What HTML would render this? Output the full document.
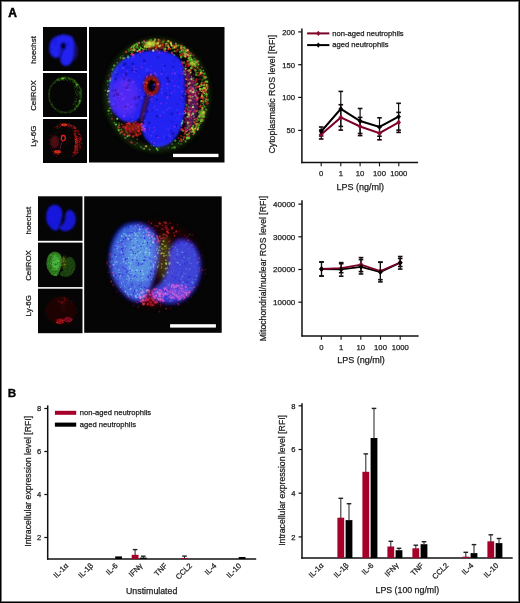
<!DOCTYPE html><html><head><meta charset="utf-8"><style>html,body{margin:0;padding:0;background:#fff}body{width:520px;height:603px;overflow:hidden}svg{display:block;font-family:"Liberation Sans",sans-serif;will-change:transform}text{stroke:#1c1c1c;stroke-width:0.25px;paint-order:stroke}</style></head><body>
<svg width="520" height="603" viewBox="0 0 520 603">
<defs>
<filter id="b05" x="-20%" y="-20%" width="140%" height="140%"><feGaussianBlur stdDeviation="0.6"/></filter>
<filter id="b07" x="-20%" y="-20%" width="140%" height="140%"><feGaussianBlur stdDeviation="0.75"/></filter>
<filter id="b1" x="-20%" y="-20%" width="140%" height="140%"><feGaussianBlur stdDeviation="1.2"/></filter>
<filter id="b2" x="-30%" y="-30%" width="160%" height="160%"><feGaussianBlur stdDeviation="2"/></filter>
<filter id="b3" x="-30%" y="-30%" width="160%" height="160%"><feGaussianBlur stdDeviation="3"/></filter>
<filter id="bs" x="-10%" y="-10%" width="120%" height="120%"><feGaussianBlur stdDeviation="3.2"/></filter>
<filter id="bs2" x="-10%" y="-10%" width="120%" height="120%"><feGaussianBlur stdDeviation="4.6"/></filter>
<clipPath id="c1"><rect x="0" y="0" width="135.5" height="135.5"/></clipPath>
<clipPath id="c2"><rect x="0" y="0" width="137.5" height="136.5"/></clipPath>

<g id="p1b">
<path d="M32.2,34.2 C36.7,30.5 43.4,27.3 49.5,25.5 C55.6,23.7 62.6,23.1 68.7,23.6 C74.8,24.1 81.8,26.0 86.0,28.4 C90.2,30.8 91.9,32.6 93.7,38.0 C95.5,43.4 96.3,53.0 96.6,61.0 C96.9,69.0 96.7,78.6 95.6,86.0 C94.5,93.4 92.4,100.2 89.8,105.3 C87.2,110.4 84.0,114.4 80.2,116.8 C76.4,119.2 70.8,120.7 66.8,119.7 C62.8,118.7 58.6,114.7 56.2,111.0 C53.8,107.3 53.1,100.9 52.3,97.6 C51.5,94.3 52.5,91.5 51.4,91.0 C50.3,90.5 48.5,94.2 45.6,94.7 C42.7,95.2 37.9,95.9 34.0,93.8 C30.1,91.7 24.9,86.7 22.5,82.2 C20.1,77.7 19.7,72.6 19.7,66.8 C19.7,61.0 20.4,53.0 22.5,47.6 C24.6,42.2 27.7,37.9 32.2,34.2 Z" fill="#2424f2" filter="url(#b1)"/>
<ellipse cx="62.5" cy="58.5" rx="8.5" ry="10.5" fill="#000" filter="url(#b1)"/>
<path d="M60,66 C57,76 54,84 52,97" stroke="#000" stroke-width="5" fill="none" opacity="0.75" filter="url(#b1)"/>
<path d="M96,40 C106,50 110,65 109,80 C108,92 103,102 95,108 C99,90 100,70 96,40 Z" fill="#180a50" filter="url(#b2)"/>
<g filter="url(#b07)"><circle cx="43.9" cy="36.9" r="1.45" fill="#0c0c90" opacity="0.63"/><circle cx="25.5" cy="79.7" r="1.71" fill="#0c0c90" opacity="0.31"/><circle cx="52.7" cy="28.9" r="0.89" fill="#3838ff" opacity="0.32"/><circle cx="63.2" cy="115.8" r="1.43" fill="#1818c0" opacity="0.68"/><circle cx="64.2" cy="61.3" r="1.78" fill="#0c0c90" opacity="0.52"/><circle cx="28.7" cy="63.5" r="1.34" fill="#1818c0" opacity="0.42"/><circle cx="83.3" cy="39.9" r="1.38" fill="#1818c0" opacity="0.38"/><circle cx="63.1" cy="83.3" r="1.30" fill="#1818c0" opacity="0.47"/><circle cx="43.1" cy="80.0" r="1.25" fill="#3838ff" opacity="0.40"/><circle cx="24.5" cy="51.7" r="1.30" fill="#3838ff" opacity="0.59"/><circle cx="27.4" cy="63.4" r="1.56" fill="#0c0c90" opacity="0.67"/><circle cx="24.2" cy="77.2" r="1.59" fill="#3838ff" opacity="0.44"/><circle cx="46.0" cy="71.2" r="1.60" fill="#0c0c90" opacity="0.64"/><circle cx="93.6" cy="68.9" r="1.46" fill="#0c0c90" opacity="0.59"/><circle cx="42.8" cy="79.2" r="1.48" fill="#3838ff" opacity="0.41"/><circle cx="48.9" cy="88.2" r="0.82" fill="#3838ff" opacity="0.44"/><circle cx="66.9" cy="70.9" r="1.02" fill="#3838ff" opacity="0.35"/><circle cx="37.8" cy="60.7" r="1.67" fill="#0c0c90" opacity="0.37"/><circle cx="50.1" cy="49.5" r="0.94" fill="#3838ff" opacity="0.65"/><circle cx="40.3" cy="63.1" r="1.16" fill="#3838ff" opacity="0.68"/><circle cx="30.1" cy="39.4" r="1.03" fill="#0c0c90" opacity="0.30"/><circle cx="84.5" cy="40.1" r="1.08" fill="#0c0c90" opacity="0.47"/><circle cx="47.5" cy="78.1" r="1.75" fill="#1818c0" opacity="0.64"/><circle cx="94.0" cy="86.8" r="1.54" fill="#3838ff" opacity="0.66"/><circle cx="80.4" cy="108.6" r="1.60" fill="#3838ff" opacity="0.46"/><circle cx="49.5" cy="69.7" r="1.20" fill="#0c0c90" opacity="0.33"/><circle cx="34.7" cy="38.1" r="1.14" fill="#0c0c90" opacity="0.34"/><circle cx="63.3" cy="75.1" r="1.75" fill="#1818c0" opacity="0.31"/><circle cx="87.9" cy="82.8" r="0.95" fill="#3838ff" opacity="0.68"/><circle cx="66.2" cy="68.9" r="0.92" fill="#3838ff" opacity="0.70"/><circle cx="55.3" cy="69.9" r="0.89" fill="#0c0c90" opacity="0.60"/><circle cx="77.2" cy="69.4" r="1.49" fill="#1818c0" opacity="0.31"/><circle cx="94.1" cy="74.3" r="0.95" fill="#1818c0" opacity="0.67"/><circle cx="78.7" cy="51.5" r="1.44" fill="#0c0c90" opacity="0.58"/><circle cx="38.9" cy="58.3" r="0.97" fill="#0c0c90" opacity="0.51"/><circle cx="80.3" cy="54.6" r="1.02" fill="#0c0c90" opacity="0.62"/><circle cx="83.5" cy="95.2" r="1.03" fill="#1818c0" opacity="0.50"/><circle cx="81.2" cy="68.8" r="0.99" fill="#1818c0" opacity="0.68"/><circle cx="47.2" cy="43.8" r="1.03" fill="#0c0c90" opacity="0.44"/><circle cx="90.7" cy="56.1" r="1.44" fill="#1818c0" opacity="0.35"/><circle cx="49.1" cy="92.4" r="1.00" fill="#0c0c90" opacity="0.47"/><circle cx="68.9" cy="30.6" r="1.75" fill="#1818c0" opacity="0.46"/><circle cx="76.0" cy="38.8" r="0.93" fill="#0c0c90" opacity="0.54"/><circle cx="55.2" cy="86.9" r="1.41" fill="#1818c0" opacity="0.69"/><circle cx="70.6" cy="56.7" r="1.35" fill="#0c0c90" opacity="0.31"/><circle cx="81.9" cy="93.9" r="0.90" fill="#1818c0" opacity="0.67"/><circle cx="84.1" cy="42.9" r="1.05" fill="#3838ff" opacity="0.50"/><circle cx="79.1" cy="54.3" r="1.34" fill="#0c0c90" opacity="0.32"/><circle cx="77.2" cy="110.9" r="1.46" fill="#1818c0" opacity="0.47"/><circle cx="91.4" cy="71.7" r="1.33" fill="#1818c0" opacity="0.50"/><circle cx="87.8" cy="98.9" r="1.41" fill="#0c0c90" opacity="0.37"/><circle cx="55.9" cy="93.8" r="1.36" fill="#3838ff" opacity="0.57"/><circle cx="60.5" cy="69.8" r="1.58" fill="#1818c0" opacity="0.32"/><circle cx="25.8" cy="66.8" r="0.83" fill="#0c0c90" opacity="0.48"/><circle cx="67.0" cy="72.0" r="1.31" fill="#1818c0" opacity="0.41"/><circle cx="58.7" cy="101.9" r="1.31" fill="#0c0c90" opacity="0.58"/><circle cx="38.8" cy="77.4" r="1.74" fill="#3838ff" opacity="0.35"/><circle cx="27.7" cy="65.8" r="0.87" fill="#0c0c90" opacity="0.47"/><circle cx="35.0" cy="52.0" r="0.92" fill="#0c0c90" opacity="0.68"/><circle cx="69.5" cy="58.3" r="1.05" fill="#0c0c90" opacity="0.69"/><circle cx="49.9" cy="70.2" r="1.79" fill="#0c0c90" opacity="0.36"/><circle cx="52.5" cy="73.0" r="1.14" fill="#0c0c90" opacity="0.44"/><circle cx="25.4" cy="58.2" r="1.14" fill="#3838ff" opacity="0.48"/><circle cx="67.9" cy="72.7" r="0.86" fill="#0c0c90" opacity="0.69"/><circle cx="26.4" cy="48.3" r="0.84" fill="#0c0c90" opacity="0.41"/><circle cx="28.4" cy="63.8" r="1.71" fill="#3838ff" opacity="0.46"/><circle cx="60.9" cy="73.0" r="1.29" fill="#3838ff" opacity="0.34"/><circle cx="52.0" cy="29.2" r="1.74" fill="#1818c0" opacity="0.34"/><circle cx="38.8" cy="82.2" r="1.02" fill="#3838ff" opacity="0.65"/><circle cx="54.3" cy="55.6" r="1.35" fill="#3838ff" opacity="0.55"/><circle cx="39.0" cy="39.9" r="1.73" fill="#1818c0" opacity="0.42"/><circle cx="78.8" cy="50.7" r="1.30" fill="#0c0c90" opacity="0.41"/><circle cx="59.1" cy="46.3" r="1.25" fill="#1818c0" opacity="0.63"/><circle cx="52.6" cy="71.0" r="1.63" fill="#3838ff" opacity="0.69"/><circle cx="42.6" cy="43.3" r="1.03" fill="#0c0c90" opacity="0.63"/><circle cx="74.5" cy="85.0" r="1.20" fill="#3838ff" opacity="0.69"/><circle cx="68.0" cy="109.1" r="1.23" fill="#0c0c90" opacity="0.33"/><circle cx="85.3" cy="108.2" r="1.47" fill="#3838ff" opacity="0.54"/><circle cx="73.4" cy="26.5" r="0.99" fill="#3838ff" opacity="0.48"/><circle cx="95.8" cy="76.2" r="1.04" fill="#3838ff" opacity="0.39"/><circle cx="32.6" cy="55.2" r="0.88" fill="#3838ff" opacity="0.50"/><circle cx="34.1" cy="72.0" r="0.80" fill="#3838ff" opacity="0.63"/><circle cx="29.5" cy="80.1" r="1.19" fill="#3838ff" opacity="0.42"/><circle cx="36.6" cy="80.0" r="1.33" fill="#0c0c90" opacity="0.56"/><circle cx="75.3" cy="109.0" r="1.19" fill="#3838ff" opacity="0.59"/><circle cx="57.5" cy="50.1" r="1.42" fill="#0c0c90" opacity="0.32"/><circle cx="84.8" cy="110.3" r="1.43" fill="#1818c0" opacity="0.58"/><circle cx="58.4" cy="112.1" r="1.55" fill="#1818c0" opacity="0.63"/><circle cx="82.4" cy="103.8" r="1.38" fill="#1818c0" opacity="0.57"/><circle cx="73.5" cy="44.8" r="0.83" fill="#0c0c90" opacity="0.55"/><circle cx="94.8" cy="59.3" r="1.25" fill="#0c0c90" opacity="0.55"/><circle cx="68.1" cy="89.4" r="1.29" fill="#0c0c90" opacity="0.48"/><circle cx="60.1" cy="95.8" r="1.27" fill="#0c0c90" opacity="0.64"/><circle cx="36.5" cy="86.3" r="1.26" fill="#3838ff" opacity="0.33"/><circle cx="90.8" cy="50.4" r="0.85" fill="#1818c0" opacity="0.56"/><circle cx="42.4" cy="78.2" r="0.81" fill="#0c0c90" opacity="0.49"/><circle cx="35.4" cy="70.5" r="1.51" fill="#3838ff" opacity="0.49"/><circle cx="55.3" cy="33.7" r="1.69" fill="#0c0c90" opacity="0.42"/><circle cx="24.9" cy="68.8" r="1.09" fill="#0c0c90" opacity="0.63"/><circle cx="95.4" cy="66.5" r="1.07" fill="#0c0c90" opacity="0.67"/><circle cx="38.9" cy="57.6" r="1.40" fill="#1818c0" opacity="0.50"/><circle cx="88.9" cy="91.6" r="1.03" fill="#3838ff" opacity="0.46"/><circle cx="72.5" cy="62.1" r="1.53" fill="#3838ff" opacity="0.44"/><circle cx="85.1" cy="33.9" r="1.73" fill="#1818c0" opacity="0.30"/><circle cx="77.2" cy="47.1" r="0.86" fill="#3838ff" opacity="0.70"/><circle cx="65.1" cy="57.7" r="1.23" fill="#3838ff" opacity="0.64"/><circle cx="71.0" cy="84.9" r="0.95" fill="#3838ff" opacity="0.47"/><circle cx="80.8" cy="64.3" r="0.83" fill="#1818c0" opacity="0.46"/><circle cx="88.1" cy="76.9" r="1.00" fill="#0c0c90" opacity="0.32"/><circle cx="76.6" cy="66.6" r="1.55" fill="#1818c0" opacity="0.65"/><circle cx="62.0" cy="38.9" r="1.21" fill="#3838ff" opacity="0.42"/><circle cx="38.8" cy="86.9" r="1.10" fill="#1818c0" opacity="0.57"/><circle cx="27.6" cy="85.7" r="0.88" fill="#1818c0" opacity="0.66"/><circle cx="57.8" cy="43.8" r="1.71" fill="#3838ff" opacity="0.47"/><circle cx="61.8" cy="46.2" r="0.97" fill="#1818c0" opacity="0.34"/><circle cx="37.1" cy="47.6" r="1.37" fill="#0c0c90" opacity="0.60"/><circle cx="51.0" cy="63.0" r="1.32" fill="#3838ff" opacity="0.41"/><circle cx="78.2" cy="71.3" r="1.37" fill="#3838ff" opacity="0.35"/><circle cx="58.3" cy="84.3" r="1.66" fill="#0c0c90" opacity="0.34"/><circle cx="89.7" cy="60.1" r="1.45" fill="#3838ff" opacity="0.68"/><circle cx="85.9" cy="108.4" r="0.82" fill="#0c0c90" opacity="0.47"/><circle cx="79.1" cy="101.6" r="1.77" fill="#3838ff" opacity="0.30"/><circle cx="84.0" cy="106.7" r="1.77" fill="#0c0c90" opacity="0.61"/><circle cx="35.9" cy="37.1" r="1.77" fill="#0c0c90" opacity="0.68"/><circle cx="75.7" cy="86.1" r="1.56" fill="#3838ff" opacity="0.33"/><circle cx="28.1" cy="78.4" r="0.84" fill="#1818c0" opacity="0.42"/><circle cx="28.2" cy="46.9" r="1.44" fill="#1818c0" opacity="0.61"/><circle cx="26.0" cy="51.7" r="1.74" fill="#0c0c90" opacity="0.46"/><circle cx="35.9" cy="81.5" r="0.81" fill="#3838ff" opacity="0.70"/><circle cx="40.3" cy="53.3" r="1.64" fill="#0c0c90" opacity="0.49"/><circle cx="36.8" cy="46.5" r="1.76" fill="#1818c0" opacity="0.56"/><circle cx="88.8" cy="86.1" r="0.88" fill="#0c0c90" opacity="0.57"/><circle cx="92.0" cy="44.5" r="0.83" fill="#3838ff" opacity="0.59"/><circle cx="47.0" cy="61.2" r="0.81" fill="#3838ff" opacity="0.60"/><circle cx="58.4" cy="42.3" r="1.77" fill="#3838ff" opacity="0.61"/><circle cx="33.5" cy="68.0" r="1.07" fill="#3838ff" opacity="0.34"/><circle cx="67.9" cy="82.4" r="1.70" fill="#3838ff" opacity="0.47"/><circle cx="71.2" cy="115.9" r="0.95" fill="#3838ff" opacity="0.32"/><circle cx="32.7" cy="66.5" r="1.51" fill="#3838ff" opacity="0.59"/><circle cx="44.3" cy="40.4" r="1.74" fill="#1818c0" opacity="0.49"/><circle cx="42.9" cy="93.8" r="1.64" fill="#3838ff" opacity="0.48"/><circle cx="24.5" cy="63.6" r="1.69" fill="#1818c0" opacity="0.69"/><circle cx="34.6" cy="57.3" r="1.62" fill="#3838ff" opacity="0.34"/><circle cx="74.4" cy="41.4" r="1.34" fill="#3838ff" opacity="0.38"/><circle cx="20.4" cy="62.7" r="1.61" fill="#3838ff" opacity="0.32"/><circle cx="91.6" cy="47.4" r="1.55" fill="#1818c0" opacity="0.44"/><circle cx="67.4" cy="48.0" r="1.52" fill="#3838ff" opacity="0.67"/><circle cx="41.8" cy="93.4" r="1.40" fill="#1818c0" opacity="0.68"/><circle cx="55.3" cy="98.9" r="1.59" fill="#3838ff" opacity="0.63"/><circle cx="28.6" cy="71.2" r="0.81" fill="#1818c0" opacity="0.42"/><circle cx="73.4" cy="37.0" r="1.04" fill="#3838ff" opacity="0.48"/><circle cx="80.7" cy="81.0" r="1.31" fill="#3838ff" opacity="0.60"/><circle cx="25.7" cy="71.3" r="1.51" fill="#3838ff" opacity="0.37"/><circle cx="28.6" cy="67.6" r="1.69" fill="#0c0c90" opacity="0.60"/><circle cx="85.8" cy="87.8" r="0.92" fill="#3838ff" opacity="0.42"/><circle cx="63.4" cy="58.9" r="1.54" fill="#0c0c90" opacity="0.48"/><circle cx="32.9" cy="45.3" r="1.08" fill="#1818c0" opacity="0.38"/><circle cx="23.2" cy="46.9" r="1.05" fill="#1818c0" opacity="0.39"/><circle cx="82.7" cy="86.7" r="1.79" fill="#0c0c90" opacity="0.30"/><circle cx="88.6" cy="44.9" r="1.25" fill="#3838ff" opacity="0.32"/></g>
</g>
<g id="p1g">
<ellipse cx="68" cy="68" rx="50" ry="54" fill="none" stroke="#14280a" stroke-width="6" filter="url(#b2)"/>
<g filter="url(#b05)">
<circle cx="45.7" cy="23.8" r="0.72" fill="#60b830" opacity="0.52"/><circle cx="59.1" cy="16.0" r="1.08" fill="#80e040" opacity="0.65"/><circle cx="115.7" cy="60.4" r="0.70" fill="#3aa018" opacity="0.89"/><circle cx="119.4" cy="66.0" r="0.63" fill="#2a7a10" opacity="0.45"/><circle cx="102.1" cy="32.3" r="1.17" fill="#3aa018" opacity="0.80"/><circle cx="104.3" cy="104.0" r="0.86" fill="#3aa018" opacity="0.48"/><circle cx="69.2" cy="16.3" r="0.93" fill="#2a7a10" opacity="0.79"/><circle cx="21.2" cy="81.2" r="0.67" fill="#50c020" opacity="0.99"/><circle cx="67.1" cy="121.0" r="0.71" fill="#50c020" opacity="0.44"/><circle cx="33.7" cy="28.7" r="1.04" fill="#2a7a10" opacity="0.50"/><circle cx="98.8" cy="23.3" r="0.94" fill="#80e040" opacity="0.98"/><circle cx="53.3" cy="15.5" r="0.92" fill="#60b830" opacity="0.79"/><circle cx="61.9" cy="118.7" r="0.76" fill="#3aa018" opacity="0.43"/><circle cx="101.8" cy="30.3" r="0.80" fill="#80e040" opacity="0.78"/><circle cx="19.7" cy="83.8" r="1.05" fill="#60b830" opacity="0.98"/><circle cx="45.9" cy="117.7" r="0.66" fill="#60b830" opacity="0.41"/><circle cx="102.3" cy="105.1" r="0.64" fill="#2a7a10" opacity="0.46"/><circle cx="45.0" cy="21.6" r="0.66" fill="#50c020" opacity="0.58"/><circle cx="64.6" cy="15.6" r="0.97" fill="#3aa018" opacity="0.74"/><circle cx="51.6" cy="21.1" r="1.05" fill="#50c020" opacity="0.98"/><circle cx="39.0" cy="29.2" r="1.10" fill="#2a7a10" opacity="0.87"/><circle cx="109.6" cy="37.6" r="0.72" fill="#80e040" opacity="0.85"/><circle cx="43.6" cy="22.7" r="0.78" fill="#2a7a10" opacity="0.68"/><circle cx="40.2" cy="108.9" r="0.98" fill="#2a7a10" opacity="0.91"/><circle cx="66.1" cy="12.3" r="1.16" fill="#60b830" opacity="0.81"/><circle cx="96.4" cy="24.2" r="1.24" fill="#80e040" opacity="0.78"/><circle cx="112.9" cy="82.9" r="1.04" fill="#60b830" opacity="0.56"/><circle cx="115.5" cy="71.1" r="0.74" fill="#2a7a10" opacity="0.68"/><circle cx="103.7" cy="102.2" r="0.87" fill="#80e040" opacity="0.86"/><circle cx="101.0" cy="102.7" r="0.83" fill="#80e040" opacity="0.59"/><circle cx="55.6" cy="19.9" r="0.97" fill="#80e040" opacity="0.87"/><circle cx="86.2" cy="113.7" r="1.15" fill="#50c020" opacity="0.70"/><circle cx="95.8" cy="26.8" r="0.74" fill="#2a7a10" opacity="0.78"/><circle cx="68.7" cy="123.1" r="1.11" fill="#80e040" opacity="0.52"/><circle cx="91.0" cy="24.8" r="1.23" fill="#3aa018" opacity="0.87"/><circle cx="113.5" cy="80.6" r="1.03" fill="#60b830" opacity="0.95"/><circle cx="112.7" cy="86.1" r="0.84" fill="#50c020" opacity="0.87"/><circle cx="75.3" cy="14.6" r="0.68" fill="#2a7a10" opacity="0.75"/><circle cx="113.2" cy="61.8" r="0.61" fill="#2a7a10" opacity="0.76"/><circle cx="106.7" cy="35.3" r="0.68" fill="#2a7a10" opacity="0.41"/><circle cx="92.8" cy="19.8" r="1.01" fill="#2a7a10" opacity="0.68"/><circle cx="22.6" cy="46.1" r="0.71" fill="#2a7a10" opacity="0.77"/><circle cx="107.9" cy="94.2" r="0.61" fill="#50c020" opacity="0.76"/><circle cx="104.0" cy="104.2" r="1.16" fill="#60b830" opacity="0.49"/><circle cx="47.4" cy="16.7" r="0.86" fill="#50c020" opacity="0.96"/><circle cx="106.6" cy="38.6" r="1.20" fill="#2a7a10" opacity="0.62"/><circle cx="99.0" cy="28.1" r="0.99" fill="#80e040" opacity="0.57"/><circle cx="36.1" cy="111.0" r="0.98" fill="#50c020" opacity="0.56"/><circle cx="19.5" cy="74.7" r="0.90" fill="#3aa018" opacity="0.92"/><circle cx="83.1" cy="117.0" r="0.66" fill="#80e040" opacity="0.74"/><circle cx="83.2" cy="120.9" r="0.86" fill="#2a7a10" opacity="0.91"/><circle cx="26.9" cy="97.6" r="0.88" fill="#80e040" opacity="1.00"/><circle cx="108.2" cy="40.9" r="0.72" fill="#80e040" opacity="0.42"/><circle cx="98.1" cy="110.7" r="1.18" fill="#80e040" opacity="0.92"/><circle cx="117.0" cy="67.4" r="0.93" fill="#60b830" opacity="0.88"/><circle cx="51.9" cy="20.9" r="0.72" fill="#80e040" opacity="0.47"/><circle cx="31.7" cy="105.8" r="0.85" fill="#2a7a10" opacity="0.76"/><circle cx="79.1" cy="14.2" r="1.23" fill="#3aa018" opacity="0.87"/><circle cx="69.9" cy="121.1" r="0.76" fill="#2a7a10" opacity="0.80"/><circle cx="63.0" cy="15.4" r="1.24" fill="#3aa018" opacity="0.42"/><circle cx="117.3" cy="69.6" r="0.77" fill="#2a7a10" opacity="0.75"/><circle cx="114.6" cy="61.0" r="0.93" fill="#80e040" opacity="0.95"/><circle cx="108.9" cy="35.1" r="0.64" fill="#3aa018" opacity="0.50"/><circle cx="61.5" cy="17.2" r="0.85" fill="#2a7a10" opacity="0.61"/><circle cx="114.9" cy="58.3" r="1.03" fill="#50c020" opacity="0.81"/><circle cx="67.8" cy="121.7" r="0.87" fill="#80e040" opacity="0.92"/><circle cx="51.9" cy="120.0" r="0.94" fill="#3aa018" opacity="0.65"/><circle cx="53.6" cy="18.7" r="0.80" fill="#50c020" opacity="0.47"/><circle cx="110.6" cy="90.0" r="1.13" fill="#60b830" opacity="0.93"/><circle cx="18.6" cy="57.7" r="0.80" fill="#60b830" opacity="0.40"/><circle cx="117.7" cy="67.5" r="1.22" fill="#50c020" opacity="0.81"/><circle cx="117.8" cy="59.0" r="1.19" fill="#60b830" opacity="0.55"/><circle cx="24.0" cy="41.3" r="0.68" fill="#2a7a10" opacity="0.68"/><circle cx="27.6" cy="97.1" r="0.66" fill="#80e040" opacity="0.84"/><circle cx="91.6" cy="20.2" r="0.79" fill="#2a7a10" opacity="0.57"/><circle cx="97.7" cy="112.4" r="0.69" fill="#80e040" opacity="0.51"/><circle cx="95.8" cy="28.1" r="1.08" fill="#60b830" opacity="0.59"/><circle cx="104.1" cy="100.1" r="0.79" fill="#3aa018" opacity="0.93"/><circle cx="112.7" cy="58.4" r="1.08" fill="#60b830" opacity="0.90"/><circle cx="44.4" cy="20.4" r="0.88" fill="#80e040" opacity="0.81"/><circle cx="28.7" cy="92.0" r="0.75" fill="#50c020" opacity="0.40"/><circle cx="28.4" cy="92.1" r="0.76" fill="#3aa018" opacity="0.73"/><circle cx="96.1" cy="29.6" r="1.03" fill="#60b830" opacity="0.99"/><circle cx="46.8" cy="22.8" r="0.80" fill="#3aa018" opacity="0.50"/><circle cx="18.9" cy="64.3" r="0.92" fill="#80e040" opacity="0.99"/><circle cx="115.0" cy="85.7" r="0.76" fill="#50c020" opacity="0.45"/><circle cx="110.7" cy="89.1" r="0.67" fill="#80e040" opacity="0.85"/><circle cx="76.8" cy="19.3" r="1.05" fill="#50c020" opacity="0.48"/><circle cx="115.9" cy="51.8" r="0.76" fill="#2a7a10" opacity="0.64"/><circle cx="91.9" cy="21.8" r="1.14" fill="#2a7a10" opacity="0.73"/><circle cx="57.7" cy="15.5" r="0.63" fill="#60b830" opacity="0.97"/><circle cx="62.0" cy="12.9" r="1.25" fill="#2a7a10" opacity="0.70"/><circle cx="108.3" cy="102.9" r="0.62" fill="#50c020" opacity="0.77"/><circle cx="36.8" cy="105.0" r="0.82" fill="#2a7a10" opacity="0.63"/><circle cx="16.2" cy="63.3" r="0.63" fill="#50c020" opacity="0.84"/><circle cx="89.4" cy="116.1" r="0.66" fill="#50c020" opacity="0.86"/><circle cx="99.9" cy="111.2" r="1.04" fill="#80e040" opacity="0.98"/><circle cx="106.1" cy="38.4" r="1.17" fill="#2a7a10" opacity="0.60"/><circle cx="109.4" cy="100.8" r="0.93" fill="#50c020" opacity="0.89"/><circle cx="114.4" cy="78.1" r="0.69" fill="#80e040" opacity="0.55"/><circle cx="91.9" cy="116.9" r="0.81" fill="#50c020" opacity="0.57"/><circle cx="78.9" cy="19.2" r="1.13" fill="#60b830" opacity="0.60"/><circle cx="20.0" cy="81.2" r="0.81" fill="#3aa018" opacity="0.41"/><circle cx="65.6" cy="13.7" r="1.02" fill="#60b830" opacity="0.99"/><circle cx="109.3" cy="34.3" r="1.17" fill="#80e040" opacity="0.43"/><circle cx="115.1" cy="89.5" r="1.12" fill="#50c020" opacity="0.98"/><circle cx="113.2" cy="93.1" r="1.17" fill="#3aa018" opacity="0.75"/><circle cx="30.3" cy="98.3" r="1.12" fill="#3aa018" opacity="0.54"/><circle cx="85.7" cy="20.1" r="1.00" fill="#3aa018" opacity="0.95"/><circle cx="18.7" cy="54.2" r="1.13" fill="#3aa018" opacity="0.65"/><circle cx="113.4" cy="93.2" r="0.84" fill="#3aa018" opacity="0.83"/><circle cx="97.1" cy="23.7" r="0.74" fill="#3aa018" opacity="0.74"/><circle cx="105.6" cy="35.0" r="0.90" fill="#50c020" opacity="0.83"/><circle cx="66.1" cy="16.4" r="1.05" fill="#2a7a10" opacity="0.91"/><circle cx="109.7" cy="89.0" r="0.80" fill="#50c020" opacity="0.92"/><circle cx="100.6" cy="33.2" r="1.20" fill="#60b830" opacity="0.80"/><circle cx="108.5" cy="102.5" r="1.06" fill="#50c020" opacity="0.59"/><circle cx="103.9" cy="103.8" r="1.07" fill="#2a7a10" opacity="0.46"/><circle cx="31.7" cy="29.7" r="0.82" fill="#2a7a10" opacity="0.58"/><circle cx="112.1" cy="94.3" r="0.95" fill="#50c020" opacity="0.93"/><circle cx="115.6" cy="57.8" r="0.86" fill="#3aa018" opacity="0.87"/><circle cx="32.1" cy="102.5" r="0.73" fill="#50c020" opacity="0.81"/><circle cx="90.5" cy="17.8" r="0.60" fill="#2a7a10" opacity="0.42"/><circle cx="19.7" cy="64.1" r="1.04" fill="#50c020" opacity="0.66"/><circle cx="103.1" cy="101.0" r="1.17" fill="#80e040" opacity="0.85"/><circle cx="82.3" cy="17.9" r="1.11" fill="#80e040" opacity="0.85"/><circle cx="105.5" cy="37.9" r="0.98" fill="#60b830" opacity="0.54"/><circle cx="57.9" cy="20.1" r="1.02" fill="#80e040" opacity="0.80"/><circle cx="79.2" cy="120.3" r="0.91" fill="#2a7a10" opacity="0.76"/><circle cx="45.6" cy="20.2" r="0.78" fill="#2a7a10" opacity="0.64"/><circle cx="108.6" cy="101.7" r="0.99" fill="#50c020" opacity="0.63"/><circle cx="25.2" cy="38.5" r="1.03" fill="#80e040" opacity="0.81"/><circle cx="113.1" cy="68.9" r="1.25" fill="#50c020" opacity="0.85"/><circle cx="55.1" cy="121.7" r="1.05" fill="#80e040" opacity="0.59"/><circle cx="19.2" cy="71.8" r="0.73" fill="#3aa018" opacity="0.50"/><circle cx="56.6" cy="119.1" r="0.82" fill="#2a7a10" opacity="0.70"/><circle cx="114.1" cy="43.5" r="0.74" fill="#3aa018" opacity="0.95"/><circle cx="28.3" cy="35.8" r="0.76" fill="#3aa018" opacity="0.94"/><circle cx="111.1" cy="96.2" r="1.13" fill="#2a7a10" opacity="0.93"/><circle cx="28.2" cy="91.7" r="1.00" fill="#80e040" opacity="0.83"/><circle cx="111.6" cy="45.9" r="0.83" fill="#60b830" opacity="0.98"/><circle cx="89.5" cy="18.4" r="1.15" fill="#80e040" opacity="0.53"/><circle cx="78.3" cy="13.7" r="0.95" fill="#2a7a10" opacity="0.47"/><circle cx="104.7" cy="103.8" r="0.95" fill="#3aa018" opacity="0.53"/><circle cx="60.6" cy="122.4" r="1.00" fill="#50c020" opacity="0.61"/><circle cx="113.4" cy="93.8" r="1.07" fill="#3aa018" opacity="0.61"/><circle cx="25.4" cy="95.8" r="0.87" fill="#3aa018" opacity="0.88"/><circle cx="112.2" cy="92.4" r="1.21" fill="#60b830" opacity="0.66"/><circle cx="71.7" cy="18.2" r="0.81" fill="#60b830" opacity="0.74"/><circle cx="113.4" cy="89.5" r="1.19" fill="#3aa018" opacity="0.74"/><circle cx="57.4" cy="119.2" r="1.10" fill="#3aa018" opacity="0.96"/><circle cx="95.8" cy="22.0" r="1.23" fill="#3aa018" opacity="0.51"/><circle cx="101.2" cy="28.9" r="0.93" fill="#3aa018" opacity="0.71"/><circle cx="117.3" cy="54.3" r="1.17" fill="#3aa018" opacity="0.91"/><circle cx="103.6" cy="104.1" r="0.90" fill="#3aa018" opacity="0.82"/><circle cx="87.2" cy="20.2" r="0.76" fill="#3aa018" opacity="0.45"/><circle cx="113.8" cy="76.6" r="0.74" fill="#3aa018" opacity="0.95"/><circle cx="115.8" cy="61.2" r="1.06" fill="#80e040" opacity="0.87"/><circle cx="51.0" cy="19.2" r="0.70" fill="#3aa018" opacity="0.90"/><circle cx="112.7" cy="90.0" r="1.23" fill="#3aa018" opacity="0.79"/><circle cx="109.7" cy="92.9" r="0.88" fill="#3aa018" opacity="0.99"/><circle cx="46.8" cy="17.4" r="0.64" fill="#3aa018" opacity="0.44"/><circle cx="113.4" cy="62.2" r="1.18" fill="#80e040" opacity="0.58"/><circle cx="38.4" cy="109.2" r="1.04" fill="#80e040" opacity="0.77"/><circle cx="115.1" cy="51.2" r="0.95" fill="#50c020" opacity="0.48"/><circle cx="26.0" cy="38.8" r="0.79" fill="#2a7a10" opacity="0.96"/><circle cx="109.8" cy="98.5" r="1.15" fill="#50c020" opacity="0.78"/><circle cx="19.5" cy="87.0" r="0.75" fill="#3aa018" opacity="0.68"/><circle cx="60.0" cy="17.0" r="0.72" fill="#80e040" opacity="0.62"/><circle cx="64.7" cy="118.6" r="0.65" fill="#50c020" opacity="0.69"/><circle cx="54.6" cy="16.9" r="0.88" fill="#3aa018" opacity="0.54"/><circle cx="69.6" cy="12.8" r="0.91" fill="#3aa018" opacity="0.72"/><circle cx="29.7" cy="103.2" r="1.08" fill="#80e040" opacity="0.79"/><circle cx="21.1" cy="53.4" r="1.08" fill="#50c020" opacity="0.77"/><circle cx="40.0" cy="24.0" r="0.70" fill="#50c020" opacity="1.00"/><circle cx="59.7" cy="19.3" r="1.13" fill="#2a7a10" opacity="0.55"/><circle cx="30.3" cy="96.4" r="1.06" fill="#3aa018" opacity="0.43"/><circle cx="87.2" cy="18.5" r="1.08" fill="#60b830" opacity="0.81"/><circle cx="113.4" cy="61.6" r="0.82" fill="#50c020" opacity="0.68"/><circle cx="118.9" cy="72.9" r="0.86" fill="#50c020" opacity="0.94"/><circle cx="96.8" cy="24.8" r="0.74" fill="#50c020" opacity="0.93"/><circle cx="64.7" cy="18.5" r="0.83" fill="#80e040" opacity="0.65"/><circle cx="114.3" cy="75.0" r="0.63" fill="#50c020" opacity="0.90"/><circle cx="34.8" cy="31.3" r="1.25" fill="#80e040" opacity="0.48"/><circle cx="22.1" cy="86.4" r="0.88" fill="#3aa018" opacity="0.55"/><circle cx="96.9" cy="25.7" r="0.67" fill="#3aa018" opacity="0.59"/><circle cx="48.3" cy="112.2" r="0.80" fill="#60b830" opacity="0.61"/><circle cx="109.8" cy="97.6" r="0.76" fill="#3aa018" opacity="0.99"/><circle cx="53.2" cy="121.2" r="0.68" fill="#60b830" opacity="0.42"/><circle cx="102.6" cy="101.5" r="0.83" fill="#50c020" opacity="0.88"/><circle cx="79.2" cy="16.7" r="0.84" fill="#2a7a10" opacity="0.49"/><circle cx="82.8" cy="18.9" r="0.87" fill="#80e040" opacity="0.58"/><circle cx="99.9" cy="31.3" r="1.19" fill="#60b830" opacity="0.93"/><circle cx="81.9" cy="16.3" r="1.10" fill="#80e040" opacity="0.94"/><circle cx="39.1" cy="30.3" r="1.23" fill="#3aa018" opacity="0.85"/><circle cx="116.0" cy="61.3" r="0.66" fill="#3aa018" opacity="0.94"/><circle cx="55.4" cy="18.1" r="0.67" fill="#2a7a10" opacity="0.60"/><circle cx="116.8" cy="81.9" r="0.70" fill="#3aa018" opacity="0.97"/><circle cx="106.0" cy="101.8" r="0.98" fill="#50c020" opacity="0.60"/><circle cx="116.0" cy="73.7" r="0.86" fill="#50c020" opacity="0.57"/><circle cx="110.3" cy="43.4" r="0.92" fill="#2a7a10" opacity="0.41"/><circle cx="101.0" cy="27.0" r="0.75" fill="#3aa018" opacity="0.66"/><circle cx="18.3" cy="67.6" r="0.87" fill="#50c020" opacity="0.76"/><circle cx="31.5" cy="31.0" r="1.04" fill="#50c020" opacity="0.62"/><circle cx="20.4" cy="71.5" r="0.62" fill="#2a7a10" opacity="0.73"/><circle cx="61.4" cy="12.7" r="1.01" fill="#2a7a10" opacity="0.71"/><circle cx="60.2" cy="19.6" r="0.87" fill="#80e040" opacity="0.75"/><circle cx="43.9" cy="23.2" r="0.89" fill="#80e040" opacity="0.45"/><circle cx="46.3" cy="17.5" r="0.77" fill="#80e040" opacity="0.52"/><circle cx="106.7" cy="40.1" r="0.93" fill="#2a7a10" opacity="0.69"/><circle cx="114.4" cy="65.0" r="1.11" fill="#80e040" opacity="0.56"/><circle cx="47.8" cy="17.0" r="0.85" fill="#2a7a10" opacity="0.69"/><circle cx="114.8" cy="75.3" r="0.66" fill="#2a7a10" opacity="0.86"/><circle cx="118.4" cy="54.7" r="0.96" fill="#80e040" opacity="0.86"/><circle cx="117.3" cy="62.8" r="0.84" fill="#80e040" opacity="0.69"/><circle cx="23.5" cy="42.5" r="1.05" fill="#60b830" opacity="0.65"/><circle cx="35.9" cy="30.8" r="0.67" fill="#3aa018" opacity="0.56"/><circle cx="85.5" cy="120.6" r="1.25" fill="#60b830" opacity="0.72"/><circle cx="113.3" cy="52.9" r="0.95" fill="#50c020" opacity="0.49"/><circle cx="100.5" cy="28.6" r="0.93" fill="#60b830" opacity="0.46"/>
<circle cx="105.9" cy="65.3" r="1.13" fill="#3aa018" opacity="0.54"/><circle cx="94.5" cy="112.4" r="0.60" fill="#80e040" opacity="0.54"/><circle cx="102.4" cy="52.2" r="1.14" fill="#50c020" opacity="0.99"/><circle cx="96.3" cy="44.5" r="1.14" fill="#3aa018" opacity="0.60"/><circle cx="92.4" cy="97.5" r="0.91" fill="#50c020" opacity="0.50"/><circle cx="113.5" cy="93.7" r="1.17" fill="#3aa018" opacity="0.57"/><circle cx="106.7" cy="94.3" r="0.73" fill="#2a7a10" opacity="0.50"/><circle cx="111.4" cy="62.2" r="1.06" fill="#3aa018" opacity="0.54"/><circle cx="104.9" cy="89.6" r="1.06" fill="#3aa018" opacity="0.52"/><circle cx="98.5" cy="86.4" r="0.76" fill="#2a7a10" opacity="0.65"/><circle cx="92.7" cy="23.8" r="0.73" fill="#80e040" opacity="0.95"/><circle cx="105.6" cy="37.8" r="1.07" fill="#2a7a10" opacity="0.74"/><circle cx="94.1" cy="24.8" r="0.91" fill="#3aa018" opacity="0.82"/><circle cx="108.7" cy="91.7" r="0.84" fill="#80e040" opacity="0.64"/><circle cx="104.0" cy="36.3" r="0.69" fill="#60b830" opacity="0.84"/><circle cx="117.7" cy="82.9" r="0.71" fill="#80e040" opacity="0.83"/><circle cx="100.2" cy="110.7" r="1.15" fill="#60b830" opacity="0.67"/><circle cx="116.9" cy="72.4" r="0.82" fill="#50c020" opacity="0.69"/><circle cx="100.8" cy="56.1" r="0.96" fill="#60b830" opacity="0.99"/><circle cx="109.8" cy="85.3" r="0.69" fill="#3aa018" opacity="0.65"/><circle cx="107.0" cy="46.1" r="1.14" fill="#2a7a10" opacity="0.87"/><circle cx="106.6" cy="43.4" r="1.25" fill="#60b830" opacity="0.73"/><circle cx="107.4" cy="47.9" r="1.18" fill="#3aa018" opacity="0.89"/><circle cx="105.4" cy="92.6" r="0.75" fill="#2a7a10" opacity="0.92"/><circle cx="112.7" cy="64.4" r="0.66" fill="#80e040" opacity="0.84"/><circle cx="96.6" cy="41.8" r="1.15" fill="#80e040" opacity="0.78"/><circle cx="112.2" cy="45.8" r="0.64" fill="#80e040" opacity="0.65"/><circle cx="104.0" cy="80.1" r="1.22" fill="#80e040" opacity="0.88"/><circle cx="97.3" cy="52.4" r="0.68" fill="#50c020" opacity="0.69"/><circle cx="101.8" cy="45.5" r="0.94" fill="#50c020" opacity="0.94"/><circle cx="104.1" cy="61.0" r="0.82" fill="#50c020" opacity="0.83"/><circle cx="111.6" cy="43.0" r="0.63" fill="#50c020" opacity="0.93"/><circle cx="103.7" cy="37.6" r="1.14" fill="#80e040" opacity="0.71"/><circle cx="102.5" cy="37.0" r="1.15" fill="#80e040" opacity="0.47"/><circle cx="100.3" cy="30.9" r="0.62" fill="#50c020" opacity="0.52"/><circle cx="108.5" cy="76.4" r="0.76" fill="#3aa018" opacity="0.52"/><circle cx="97.5" cy="77.8" r="1.00" fill="#80e040" opacity="0.47"/><circle cx="108.3" cy="70.6" r="1.20" fill="#3aa018" opacity="0.71"/><circle cx="100.0" cy="60.5" r="0.85" fill="#50c020" opacity="0.47"/><circle cx="108.8" cy="56.5" r="0.63" fill="#60b830" opacity="0.89"/><circle cx="98.6" cy="97.2" r="0.94" fill="#3aa018" opacity="0.43"/><circle cx="102.2" cy="41.2" r="1.04" fill="#60b830" opacity="0.91"/><circle cx="107.5" cy="57.5" r="1.16" fill="#3aa018" opacity="0.99"/><circle cx="99.9" cy="106.9" r="1.09" fill="#3aa018" opacity="0.46"/><circle cx="103.8" cy="69.8" r="0.80" fill="#80e040" opacity="0.71"/><circle cx="106.3" cy="68.4" r="0.86" fill="#60b830" opacity="0.53"/><circle cx="118.1" cy="54.5" r="0.83" fill="#60b830" opacity="0.74"/><circle cx="98.8" cy="95.7" r="1.03" fill="#80e040" opacity="0.91"/><circle cx="95.2" cy="20.3" r="1.23" fill="#50c020" opacity="0.64"/><circle cx="111.3" cy="63.5" r="0.88" fill="#50c020" opacity="0.50"/><circle cx="107.5" cy="99.7" r="0.98" fill="#3aa018" opacity="0.79"/><circle cx="112.2" cy="44.4" r="1.05" fill="#50c020" opacity="0.82"/><circle cx="114.7" cy="85.2" r="1.21" fill="#80e040" opacity="0.73"/><circle cx="99.9" cy="87.2" r="0.98" fill="#60b830" opacity="0.87"/><circle cx="111.5" cy="93.8" r="0.82" fill="#50c020" opacity="0.85"/><circle cx="101.6" cy="63.7" r="1.28" fill="#3aa018" opacity="0.79"/><circle cx="98.6" cy="104.3" r="0.72" fill="#60b830" opacity="0.41"/><circle cx="109.8" cy="41.4" r="0.66" fill="#2a7a10" opacity="0.72"/><circle cx="92.1" cy="25.4" r="1.04" fill="#3aa018" opacity="0.43"/><circle cx="112.4" cy="86.5" r="0.81" fill="#3aa018" opacity="0.92"/><circle cx="115.5" cy="46.7" r="1.25" fill="#3aa018" opacity="0.84"/><circle cx="97.3" cy="27.3" r="1.25" fill="#60b830" opacity="0.69"/><circle cx="102.2" cy="73.4" r="0.86" fill="#2a7a10" opacity="0.90"/><circle cx="106.3" cy="31.6" r="0.81" fill="#3aa018" opacity="0.53"/><circle cx="101.8" cy="70.0" r="0.95" fill="#3aa018" opacity="0.77"/><circle cx="112.7" cy="58.9" r="0.71" fill="#2a7a10" opacity="0.84"/><circle cx="111.1" cy="59.4" r="0.97" fill="#50c020" opacity="0.66"/><circle cx="96.7" cy="114.6" r="1.06" fill="#50c020" opacity="0.61"/><circle cx="98.8" cy="82.8" r="0.94" fill="#2a7a10" opacity="0.76"/><circle cx="116.9" cy="50.2" r="1.17" fill="#80e040" opacity="0.55"/><circle cx="116.6" cy="74.3" r="1.02" fill="#50c020" opacity="0.82"/><circle cx="95.4" cy="86.6" r="0.67" fill="#2a7a10" opacity="0.89"/><circle cx="104.0" cy="86.7" r="1.27" fill="#50c020" opacity="0.91"/><circle cx="95.0" cy="35.6" r="1.23" fill="#80e040" opacity="0.53"/><circle cx="117.7" cy="57.6" r="0.70" fill="#50c020" opacity="0.83"/><circle cx="108.8" cy="37.7" r="1.05" fill="#2a7a10" opacity="0.90"/><circle cx="96.4" cy="21.9" r="1.14" fill="#60b830" opacity="0.46"/><circle cx="103.9" cy="104.7" r="1.29" fill="#60b830" opacity="0.54"/><circle cx="108.3" cy="84.1" r="0.86" fill="#2a7a10" opacity="0.88"/><circle cx="99.8" cy="43.8" r="1.17" fill="#3aa018" opacity="0.44"/><circle cx="96.3" cy="39.0" r="0.78" fill="#3aa018" opacity="0.56"/><circle cx="97.8" cy="107.6" r="0.89" fill="#50c020" opacity="0.92"/><circle cx="93.7" cy="94.5" r="0.92" fill="#2a7a10" opacity="0.87"/><circle cx="102.6" cy="49.9" r="0.65" fill="#60b830" opacity="0.85"/><circle cx="111.7" cy="77.7" r="0.97" fill="#2a7a10" opacity="0.56"/><circle cx="118.8" cy="62.0" r="0.61" fill="#80e040" opacity="0.78"/><circle cx="105.0" cy="31.4" r="0.81" fill="#50c020" opacity="0.49"/><circle cx="99.5" cy="57.0" r="1.10" fill="#60b830" opacity="0.76"/><circle cx="100.8" cy="31.1" r="1.07" fill="#80e040" opacity="0.43"/><circle cx="99.4" cy="99.1" r="1.08" fill="#50c020" opacity="0.47"/><circle cx="113.2" cy="55.6" r="0.73" fill="#2a7a10" opacity="0.78"/><circle cx="105.6" cy="63.3" r="0.67" fill="#50c020" opacity="0.63"/><circle cx="96.4" cy="67.0" r="1.10" fill="#2a7a10" opacity="0.64"/><circle cx="114.2" cy="46.4" r="0.68" fill="#3aa018" opacity="0.79"/><circle cx="98.4" cy="112.3" r="0.71" fill="#2a7a10" opacity="0.86"/><circle cx="98.8" cy="33.6" r="0.96" fill="#2a7a10" opacity="0.49"/><circle cx="98.7" cy="103.5" r="0.69" fill="#3aa018" opacity="0.65"/><circle cx="108.8" cy="90.5" r="0.64" fill="#3aa018" opacity="0.64"/><circle cx="106.2" cy="101.4" r="1.17" fill="#80e040" opacity="0.48"/><circle cx="94.8" cy="40.7" r="0.66" fill="#3aa018" opacity="0.73"/><circle cx="104.1" cy="77.8" r="0.82" fill="#3aa018" opacity="0.74"/><circle cx="111.0" cy="49.1" r="0.64" fill="#3aa018" opacity="0.46"/><circle cx="108.8" cy="91.5" r="0.79" fill="#2a7a10" opacity="0.57"/><circle cx="104.6" cy="51.2" r="0.99" fill="#60b830" opacity="0.45"/><circle cx="115.6" cy="68.6" r="0.76" fill="#3aa018" opacity="0.59"/><circle cx="99.9" cy="43.2" r="1.24" fill="#60b830" opacity="0.56"/><circle cx="98.2" cy="101.1" r="1.03" fill="#50c020" opacity="0.48"/><circle cx="98.2" cy="89.8" r="0.85" fill="#60b830" opacity="0.96"/><circle cx="102.8" cy="35.7" r="1.06" fill="#80e040" opacity="0.80"/><circle cx="110.8" cy="88.1" r="0.63" fill="#50c020" opacity="0.97"/><circle cx="102.5" cy="87.9" r="0.74" fill="#60b830" opacity="0.84"/><circle cx="110.8" cy="59.0" r="1.00" fill="#60b830" opacity="0.64"/><circle cx="102.5" cy="32.4" r="0.96" fill="#80e040" opacity="1.00"/><circle cx="104.9" cy="103.6" r="0.77" fill="#3aa018" opacity="0.83"/><circle cx="115.2" cy="66.5" r="0.82" fill="#80e040" opacity="0.99"/><circle cx="107.5" cy="36.0" r="0.66" fill="#60b830" opacity="0.72"/><circle cx="105.3" cy="106.2" r="0.97" fill="#50c020" opacity="0.83"/><circle cx="97.2" cy="104.5" r="0.83" fill="#80e040" opacity="0.58"/><circle cx="98.6" cy="58.3" r="0.61" fill="#2a7a10" opacity="0.53"/><circle cx="104.9" cy="62.9" r="1.04" fill="#3aa018" opacity="0.46"/><circle cx="97.7" cy="78.5" r="0.92" fill="#2a7a10" opacity="0.75"/><circle cx="106.1" cy="43.1" r="0.80" fill="#3aa018" opacity="0.62"/><circle cx="94.0" cy="104.5" r="0.61" fill="#60b830" opacity="0.89"/><circle cx="112.3" cy="74.1" r="1.17" fill="#50c020" opacity="0.94"/><circle cx="104.8" cy="53.3" r="0.71" fill="#3aa018" opacity="0.82"/><circle cx="108.3" cy="97.5" r="1.04" fill="#60b830" opacity="0.66"/><circle cx="96.2" cy="47.5" r="1.08" fill="#3aa018" opacity="0.96"/><circle cx="101.9" cy="28.4" r="0.83" fill="#80e040" opacity="0.80"/><circle cx="104.3" cy="65.1" r="1.13" fill="#80e040" opacity="0.95"/><circle cx="93.6" cy="93.8" r="1.07" fill="#50c020" opacity="0.53"/><circle cx="96.7" cy="86.1" r="0.73" fill="#80e040" opacity="1.00"/><circle cx="104.3" cy="98.9" r="1.04" fill="#50c020" opacity="0.89"/><circle cx="92.2" cy="21.1" r="1.22" fill="#2a7a10" opacity="0.70"/><circle cx="94.4" cy="23.1" r="0.89" fill="#80e040" opacity="0.58"/><circle cx="105.7" cy="58.3" r="1.05" fill="#60b830" opacity="0.41"/><circle cx="103.8" cy="40.6" r="1.29" fill="#3aa018" opacity="0.46"/><circle cx="108.7" cy="77.2" r="0.61" fill="#2a7a10" opacity="0.78"/><circle cx="106.0" cy="71.8" r="0.67" fill="#3aa018" opacity="0.64"/><circle cx="115.6" cy="79.0" r="0.68" fill="#60b830" opacity="0.68"/><circle cx="99.7" cy="79.8" r="0.89" fill="#60b830" opacity="0.57"/><circle cx="108.5" cy="56.6" r="0.81" fill="#60b830" opacity="0.77"/><circle cx="100.6" cy="73.4" r="1.25" fill="#60b830" opacity="0.64"/><circle cx="111.1" cy="61.9" r="1.22" fill="#60b830" opacity="0.98"/><circle cx="109.9" cy="66.8" r="1.04" fill="#60b830" opacity="0.43"/><circle cx="99.3" cy="86.0" r="0.70" fill="#3aa018" opacity="0.86"/><circle cx="97.8" cy="110.9" r="0.72" fill="#80e040" opacity="0.54"/><circle cx="102.2" cy="41.1" r="1.09" fill="#60b830" opacity="0.99"/><circle cx="114.6" cy="80.7" r="0.70" fill="#3aa018" opacity="0.55"/><circle cx="106.5" cy="57.3" r="0.84" fill="#2a7a10" opacity="0.50"/><circle cx="107.9" cy="97.0" r="1.25" fill="#3aa018" opacity="0.72"/><circle cx="93.9" cy="103.5" r="0.60" fill="#60b830" opacity="0.81"/><circle cx="113.9" cy="51.3" r="0.65" fill="#2a7a10" opacity="0.48"/><circle cx="99.7" cy="89.5" r="1.01" fill="#3aa018" opacity="0.91"/><circle cx="104.7" cy="94.6" r="0.94" fill="#3aa018" opacity="0.53"/><circle cx="93.1" cy="96.2" r="1.14" fill="#60b830" opacity="0.90"/><circle cx="100.0" cy="87.7" r="1.08" fill="#60b830" opacity="0.67"/><circle cx="115.8" cy="79.7" r="0.73" fill="#60b830" opacity="0.92"/><circle cx="112.3" cy="86.7" r="0.69" fill="#80e040" opacity="0.86"/><circle cx="99.8" cy="28.0" r="0.80" fill="#2a7a10" opacity="0.88"/><circle cx="107.3" cy="63.2" r="0.67" fill="#2a7a10" opacity="0.93"/>
<circle cx="91.8" cy="19.8" r="0.96" fill="#3aa018" opacity="0.70"/><circle cx="48.1" cy="24.1" r="0.95" fill="#80e040" opacity="0.89"/><circle cx="43.3" cy="19.2" r="0.83" fill="#80e040" opacity="0.65"/><circle cx="42.6" cy="20.5" r="0.96" fill="#50c020" opacity="0.93"/><circle cx="76.5" cy="21.5" r="0.90" fill="#3aa018" opacity="0.97"/><circle cx="64.2" cy="23.6" r="1.29" fill="#80e040" opacity="0.75"/><circle cx="60.7" cy="15.6" r="1.16" fill="#50c020" opacity="0.76"/><circle cx="92.2" cy="30.1" r="1.37" fill="#80e040" opacity="0.69"/><circle cx="43.0" cy="25.3" r="1.19" fill="#2a7a10" opacity="0.83"/><circle cx="55.0" cy="22.4" r="0.83" fill="#2a7a10" opacity="0.92"/><circle cx="85.4" cy="24.1" r="1.09" fill="#60b830" opacity="0.57"/><circle cx="94.9" cy="25.4" r="1.30" fill="#2a7a10" opacity="0.85"/><circle cx="86.9" cy="16.6" r="1.03" fill="#2a7a10" opacity="0.69"/><circle cx="83.9" cy="21.2" r="0.93" fill="#50c020" opacity="0.85"/><circle cx="55.2" cy="14.9" r="0.90" fill="#2a7a10" opacity="0.82"/><circle cx="39.5" cy="22.5" r="1.07" fill="#2a7a10" opacity="0.88"/><circle cx="95.8" cy="25.9" r="1.06" fill="#50c020" opacity="0.62"/><circle cx="75.7" cy="22.2" r="1.39" fill="#80e040" opacity="0.63"/><circle cx="55.5" cy="21.8" r="0.96" fill="#2a7a10" opacity="0.78"/><circle cx="45.3" cy="18.3" r="1.23" fill="#50c020" opacity="0.62"/><circle cx="85.7" cy="20.6" r="1.03" fill="#60b830" opacity="0.54"/><circle cx="44.9" cy="22.7" r="1.20" fill="#80e040" opacity="0.53"/><circle cx="82.9" cy="25.0" r="0.82" fill="#2a7a10" opacity="0.99"/><circle cx="52.4" cy="21.2" r="0.73" fill="#2a7a10" opacity="0.97"/><circle cx="93.6" cy="28.2" r="0.71" fill="#2a7a10" opacity="0.88"/><circle cx="58.6" cy="16.6" r="0.79" fill="#3aa018" opacity="0.78"/><circle cx="79.9" cy="20.3" r="1.11" fill="#80e040" opacity="0.65"/><circle cx="70.4" cy="19.3" r="1.22" fill="#80e040" opacity="0.75"/><circle cx="73.9" cy="15.0" r="1.39" fill="#2a7a10" opacity="0.89"/><circle cx="49.2" cy="21.3" r="0.60" fill="#80e040" opacity="0.65"/><circle cx="53.5" cy="21.8" r="0.75" fill="#50c020" opacity="0.99"/><circle cx="61.9" cy="16.8" r="0.90" fill="#60b830" opacity="0.57"/><circle cx="68.5" cy="16.5" r="1.31" fill="#80e040" opacity="0.88"/><circle cx="98.1" cy="27.5" r="0.78" fill="#50c020" opacity="0.66"/><circle cx="47.9" cy="20.3" r="1.32" fill="#3aa018" opacity="0.86"/><circle cx="77.1" cy="16.8" r="1.01" fill="#80e040" opacity="0.57"/><circle cx="57.2" cy="22.2" r="0.94" fill="#3aa018" opacity="0.79"/><circle cx="64.0" cy="17.3" r="1.02" fill="#3aa018" opacity="0.67"/><circle cx="94.7" cy="29.0" r="1.05" fill="#2a7a10" opacity="0.75"/><circle cx="50.3" cy="15.9" r="0.80" fill="#50c020" opacity="0.85"/><circle cx="50.5" cy="22.9" r="1.27" fill="#80e040" opacity="0.93"/><circle cx="78.2" cy="15.5" r="1.01" fill="#2a7a10" opacity="0.59"/><circle cx="44.7" cy="22.7" r="0.74" fill="#3aa018" opacity="0.76"/><circle cx="44.7" cy="19.0" r="0.84" fill="#60b830" opacity="0.88"/><circle cx="57.0" cy="19.6" r="1.37" fill="#80e040" opacity="0.51"/><circle cx="66.9" cy="21.7" r="0.76" fill="#60b830" opacity="0.97"/><circle cx="85.3" cy="28.0" r="1.08" fill="#3aa018" opacity="0.67"/><circle cx="41.8" cy="23.0" r="0.84" fill="#2a7a10" opacity="0.90"/><circle cx="65.1" cy="16.5" r="0.87" fill="#60b830" opacity="0.92"/><circle cx="48.3" cy="18.3" r="1.07" fill="#50c020" opacity="0.99"/>
</g>
<ellipse cx="61" cy="17" rx="5" ry="3" fill="#60d030" filter="url(#b1)"/>
<ellipse cx="104" cy="36" rx="4" ry="3" fill="#50b828" filter="url(#b1)"/>
<ellipse cx="113" cy="86" rx="3" ry="3" fill="#50b828" filter="url(#b1)"/>
</g>
<g id="p1r">
<path d="M96,40 C106,50 110,65 109,80 C108,92 103,102 95,108 C99,90 100,70 96,40 Z" fill="#4a1010" filter="url(#b2)"/>
<ellipse cx="66" cy="18" rx="10" ry="4" fill="#802010" filter="url(#b2)"/>
<ellipse cx="44" cy="101" rx="10" ry="5" fill="#802008" filter="url(#b2)"/>
<ellipse cx="36" cy="70" rx="14" ry="20" fill="#5a0a18" filter="url(#b3)" opacity="0.6"/>
<ellipse cx="62.5" cy="58.5" rx="6.2" ry="8.2" fill="none" stroke="#a01818" stroke-width="3.6" filter="url(#b1)"/>
<path d="M60,66 C57,76 54,84 52,95" stroke="#501030" stroke-width="2.5" fill="none" filter="url(#b1)"/>
<g filter="url(#b05)">
<circle cx="22.9" cy="91.7" r="1.02" fill="#c02010" opacity="0.62"/><circle cx="112.9" cy="57.6" r="1.00" fill="#901040" opacity="0.32"/><circle cx="59.3" cy="16.6" r="1.30" fill="#c02010" opacity="0.60"/><circle cx="114.2" cy="52.2" r="0.67" fill="#901040" opacity="0.62"/><circle cx="108.6" cy="34.5" r="0.89" fill="#e03020" opacity="0.39"/><circle cx="64.8" cy="14.9" r="0.99" fill="#e03020" opacity="0.78"/><circle cx="113.5" cy="85.2" r="1.06" fill="#901040" opacity="0.30"/><circle cx="19.8" cy="48.2" r="0.65" fill="#e03020" opacity="0.64"/><circle cx="49.0" cy="16.8" r="1.22" fill="#e03020" opacity="0.57"/><circle cx="101.3" cy="101.6" r="0.86" fill="#a01828" opacity="0.66"/><circle cx="92.9" cy="24.1" r="0.76" fill="#a01828" opacity="0.43"/><circle cx="42.9" cy="115.8" r="0.91" fill="#e03020" opacity="0.48"/><circle cx="113.0" cy="48.7" r="0.74" fill="#a01828" opacity="0.80"/><circle cx="117.8" cy="69.9" r="0.81" fill="#901040" opacity="0.82"/><circle cx="98.4" cy="24.9" r="0.81" fill="#c02010" opacity="0.60"/><circle cx="94.7" cy="21.0" r="1.13" fill="#901040" opacity="0.77"/><circle cx="41.6" cy="21.3" r="0.83" fill="#d04010" opacity="0.31"/><circle cx="115.2" cy="58.9" r="1.26" fill="#a01828" opacity="0.49"/><circle cx="29.7" cy="98.3" r="0.86" fill="#a01828" opacity="0.69"/><circle cx="113.8" cy="63.0" r="1.06" fill="#c02010" opacity="0.50"/><circle cx="107.0" cy="98.2" r="0.99" fill="#a01828" opacity="0.57"/><circle cx="60.5" cy="14.7" r="1.25" fill="#a01828" opacity="0.63"/><circle cx="98.1" cy="27.7" r="0.97" fill="#e03020" opacity="0.39"/><circle cx="109.2" cy="89.4" r="0.92" fill="#901040" opacity="0.66"/><circle cx="75.2" cy="13.2" r="0.95" fill="#c02010" opacity="0.58"/><circle cx="114.6" cy="77.3" r="0.97" fill="#901040" opacity="0.51"/><circle cx="18.3" cy="64.1" r="0.73" fill="#901040" opacity="0.83"/><circle cx="106.2" cy="104.7" r="0.94" fill="#e03020" opacity="0.44"/><circle cx="102.1" cy="26.5" r="1.15" fill="#c02010" opacity="0.65"/><circle cx="108.7" cy="39.8" r="1.17" fill="#c02010" opacity="0.51"/><circle cx="41.5" cy="21.4" r="1.12" fill="#d04010" opacity="0.57"/><circle cx="115.0" cy="49.5" r="1.17" fill="#d04010" opacity="0.70"/><circle cx="89.0" cy="22.5" r="0.76" fill="#d04010" opacity="0.65"/><circle cx="87.4" cy="21.2" r="0.99" fill="#d04010" opacity="0.36"/><circle cx="114.4" cy="87.7" r="0.60" fill="#c02010" opacity="0.65"/><circle cx="31.0" cy="106.7" r="0.93" fill="#901040" opacity="0.46"/><circle cx="113.5" cy="71.7" r="0.61" fill="#a01828" opacity="0.83"/><circle cx="106.5" cy="101.5" r="0.94" fill="#c02010" opacity="0.78"/><circle cx="105.6" cy="95.5" r="1.00" fill="#d04010" opacity="0.86"/><circle cx="55.6" cy="20.6" r="0.67" fill="#901040" opacity="0.37"/><circle cx="99.6" cy="24.7" r="0.68" fill="#e03020" opacity="0.74"/><circle cx="84.2" cy="19.3" r="0.93" fill="#e03020" opacity="0.80"/><circle cx="115.8" cy="62.6" r="1.29" fill="#c02010" opacity="0.49"/><circle cx="54.8" cy="18.0" r="0.61" fill="#901040" opacity="0.82"/><circle cx="97.1" cy="29.9" r="0.84" fill="#e03020" opacity="0.64"/><circle cx="29.3" cy="100.5" r="1.29" fill="#d04010" opacity="0.62"/><circle cx="84.9" cy="20.2" r="0.75" fill="#901040" opacity="0.86"/><circle cx="76.1" cy="121.2" r="0.67" fill="#a01828" opacity="0.44"/><circle cx="115.6" cy="61.9" r="0.85" fill="#c02010" opacity="0.69"/><circle cx="66.9" cy="18.7" r="1.22" fill="#d04010" opacity="0.57"/><circle cx="118.3" cy="60.9" r="1.00" fill="#c02010" opacity="0.69"/><circle cx="117.4" cy="72.0" r="1.01" fill="#c02010" opacity="0.84"/><circle cx="116.3" cy="64.4" r="1.21" fill="#d04010" opacity="0.60"/><circle cx="106.1" cy="39.0" r="1.05" fill="#e03020" opacity="0.69"/><circle cx="30.9" cy="100.4" r="0.68" fill="#e03020" opacity="0.60"/><circle cx="98.9" cy="31.6" r="0.80" fill="#d04010" opacity="0.31"/><circle cx="108.8" cy="36.4" r="0.63" fill="#c02010" opacity="0.69"/><circle cx="49.4" cy="20.0" r="0.88" fill="#a01828" opacity="0.33"/><circle cx="37.3" cy="25.0" r="1.04" fill="#c02010" opacity="0.87"/><circle cx="68.8" cy="14.3" r="0.67" fill="#e03020" opacity="0.69"/><circle cx="118.1" cy="77.4" r="0.77" fill="#901040" opacity="0.57"/><circle cx="59.7" cy="16.1" r="1.19" fill="#901040" opacity="0.58"/><circle cx="113.8" cy="74.3" r="1.24" fill="#d04010" opacity="0.31"/><circle cx="34.8" cy="107.4" r="1.24" fill="#c02010" opacity="0.46"/><circle cx="117.7" cy="57.8" r="1.07" fill="#e03020" opacity="0.82"/><circle cx="20.9" cy="74.6" r="1.03" fill="#c02010" opacity="0.66"/><circle cx="90.8" cy="114.0" r="0.75" fill="#e03020" opacity="0.76"/><circle cx="85.1" cy="17.7" r="0.79" fill="#c02010" opacity="0.46"/><circle cx="107.9" cy="100.2" r="0.63" fill="#901040" opacity="0.56"/><circle cx="77.1" cy="18.5" r="0.93" fill="#a01828" opacity="0.48"/><circle cx="69.0" cy="18.4" r="0.86" fill="#d04010" opacity="0.81"/><circle cx="21.5" cy="51.5" r="0.97" fill="#d04010" opacity="0.70"/><circle cx="104.8" cy="103.1" r="0.64" fill="#c02010" opacity="0.86"/><circle cx="110.7" cy="47.9" r="0.61" fill="#901040" opacity="0.69"/><circle cx="84.7" cy="18.6" r="0.65" fill="#a01828" opacity="0.60"/><circle cx="19.7" cy="63.7" r="1.00" fill="#e03020" opacity="0.52"/><circle cx="60.7" cy="16.9" r="1.25" fill="#e03020" opacity="0.81"/><circle cx="119.2" cy="58.9" r="0.81" fill="#d04010" opacity="0.39"/><circle cx="33.9" cy="31.3" r="0.84" fill="#e03020" opacity="0.78"/><circle cx="107.6" cy="98.8" r="0.98" fill="#c02010" opacity="0.81"/><circle cx="57.2" cy="17.3" r="1.23" fill="#a01828" opacity="0.52"/><circle cx="36.7" cy="24.9" r="0.96" fill="#a01828" opacity="0.88"/><circle cx="115.6" cy="55.4" r="0.99" fill="#d04010" opacity="0.72"/><circle cx="64.1" cy="14.9" r="0.92" fill="#d04010" opacity="0.71"/><circle cx="42.2" cy="115.3" r="1.26" fill="#a01828" opacity="0.62"/><circle cx="114.6" cy="43.8" r="0.90" fill="#901040" opacity="0.67"/><circle cx="93.2" cy="22.8" r="0.89" fill="#e03020" opacity="0.55"/><circle cx="88.5" cy="22.9" r="1.08" fill="#c02010" opacity="0.63"/><circle cx="52.2" cy="21.3" r="0.66" fill="#901040" opacity="0.75"/><circle cx="106.6" cy="96.9" r="1.14" fill="#e03020" opacity="0.88"/><circle cx="69.9" cy="14.9" r="0.79" fill="#901040" opacity="0.49"/><circle cx="58.5" cy="19.9" r="1.12" fill="#e03020" opacity="0.34"/><circle cx="104.5" cy="28.7" r="0.82" fill="#a01828" opacity="0.85"/><circle cx="37.4" cy="24.3" r="0.83" fill="#c02010" opacity="0.49"/><circle cx="110.6" cy="52.2" r="1.22" fill="#a01828" opacity="0.46"/><circle cx="56.6" cy="119.6" r="1.27" fill="#a01828" opacity="0.64"/><circle cx="64.5" cy="19.0" r="0.78" fill="#e03020" opacity="0.32"/><circle cx="100.3" cy="102.6" r="1.21" fill="#a01828" opacity="0.61"/><circle cx="111.4" cy="94.3" r="0.63" fill="#c02010" opacity="0.65"/><circle cx="109.3" cy="89.9" r="0.73" fill="#901040" opacity="0.60"/><circle cx="110.2" cy="42.7" r="0.79" fill="#e03020" opacity="0.68"/><circle cx="72.2" cy="13.2" r="0.77" fill="#a01828" opacity="0.31"/><circle cx="89.5" cy="111.1" r="1.02" fill="#901040" opacity="0.78"/><circle cx="36.9" cy="111.1" r="1.08" fill="#901040" opacity="0.40"/><circle cx="117.3" cy="63.0" r="0.60" fill="#c02010" opacity="0.77"/><circle cx="92.6" cy="113.7" r="1.14" fill="#e03020" opacity="0.84"/><circle cx="48.2" cy="116.1" r="0.95" fill="#d04010" opacity="0.44"/><circle cx="85.9" cy="20.0" r="1.04" fill="#a01828" opacity="0.36"/><circle cx="18.6" cy="84.2" r="0.61" fill="#901040" opacity="0.52"/><circle cx="114.0" cy="85.4" r="0.96" fill="#d04010" opacity="0.88"/><circle cx="106.7" cy="102.6" r="0.75" fill="#d04010" opacity="0.43"/><circle cx="113.0" cy="91.8" r="0.95" fill="#c02010" opacity="0.51"/><circle cx="70.7" cy="13.5" r="0.68" fill="#e03020" opacity="0.54"/><circle cx="115.6" cy="62.0" r="1.20" fill="#c02010" opacity="0.41"/><circle cx="116.5" cy="82.3" r="0.76" fill="#901040" opacity="0.47"/><circle cx="110.8" cy="92.5" r="0.91" fill="#e03020" opacity="0.30"/><circle cx="93.4" cy="27.1" r="1.21" fill="#901040" opacity="0.51"/><circle cx="113.6" cy="82.3" r="1.09" fill="#901040" opacity="0.43"/><circle cx="114.4" cy="92.9" r="1.20" fill="#a01828" opacity="0.34"/><circle cx="105.3" cy="104.0" r="1.16" fill="#d04010" opacity="0.52"/>
<circle cx="103.4" cy="101.8" r="1.14" fill="#b01020" opacity="0.67"/><circle cx="103.0" cy="68.6" r="0.68" fill="#901010" opacity="0.71"/><circle cx="95.4" cy="107.4" r="0.63" fill="#c02020" opacity="0.56"/><circle cx="101.7" cy="36.0" r="1.23" fill="#901010" opacity="0.60"/><circle cx="97.6" cy="49.6" r="1.28" fill="#b01020" opacity="0.52"/><circle cx="108.3" cy="96.3" r="0.80" fill="#b01020" opacity="0.86"/><circle cx="103.5" cy="36.5" r="0.95" fill="#d03020" opacity="0.84"/><circle cx="99.1" cy="24.7" r="1.34" fill="#d03020" opacity="0.41"/><circle cx="99.7" cy="65.6" r="1.36" fill="#c02020" opacity="0.72"/><circle cx="100.1" cy="86.2" r="1.36" fill="#b01020" opacity="0.93"/><circle cx="96.2" cy="113.4" r="0.99" fill="#901010" opacity="0.61"/><circle cx="98.8" cy="52.8" r="1.03" fill="#b01020" opacity="0.80"/><circle cx="113.9" cy="78.8" r="0.78" fill="#b01020" opacity="0.74"/><circle cx="99.3" cy="65.9" r="0.61" fill="#b01020" opacity="0.56"/><circle cx="98.4" cy="107.4" r="1.09" fill="#a01818" opacity="0.66"/><circle cx="104.4" cy="62.1" r="0.89" fill="#b01020" opacity="0.93"/><circle cx="99.5" cy="90.6" r="0.77" fill="#b01020" opacity="0.50"/><circle cx="98.8" cy="33.8" r="0.97" fill="#b01020" opacity="0.83"/><circle cx="100.3" cy="95.5" r="1.28" fill="#c02020" opacity="0.69"/><circle cx="110.8" cy="85.0" r="0.72" fill="#a01818" opacity="0.58"/><circle cx="113.0" cy="88.9" r="0.92" fill="#d03020" opacity="0.41"/><circle cx="107.7" cy="71.4" r="0.78" fill="#a01818" opacity="0.68"/><circle cx="105.6" cy="67.6" r="1.09" fill="#b01020" opacity="0.64"/><circle cx="107.7" cy="52.1" r="0.78" fill="#c02020" opacity="0.81"/><circle cx="116.3" cy="50.6" r="1.34" fill="#d03020" opacity="0.43"/><circle cx="97.1" cy="82.6" r="0.86" fill="#a01818" opacity="0.42"/><circle cx="117.5" cy="76.3" r="1.16" fill="#901010" opacity="0.63"/><circle cx="101.8" cy="71.7" r="0.99" fill="#901010" opacity="0.85"/><circle cx="102.6" cy="80.9" r="0.98" fill="#901010" opacity="0.99"/><circle cx="106.1" cy="92.5" r="0.93" fill="#b01020" opacity="0.56"/><circle cx="99.3" cy="38.9" r="1.30" fill="#901010" opacity="0.42"/><circle cx="97.9" cy="52.4" r="1.12" fill="#c02020" opacity="0.54"/><circle cx="94.4" cy="111.7" r="0.86" fill="#901010" opacity="0.71"/><circle cx="114.0" cy="81.5" r="0.67" fill="#d03020" opacity="0.72"/><circle cx="99.9" cy="57.3" r="1.11" fill="#b01020" opacity="0.54"/><circle cx="116.4" cy="63.5" r="0.96" fill="#d03020" opacity="1.00"/><circle cx="96.8" cy="51.8" r="0.83" fill="#d03020" opacity="0.96"/><circle cx="99.1" cy="47.9" r="1.06" fill="#901010" opacity="0.75"/><circle cx="101.7" cy="56.6" r="1.00" fill="#901010" opacity="0.75"/><circle cx="104.0" cy="67.3" r="0.71" fill="#c02020" opacity="0.62"/><circle cx="95.3" cy="110.0" r="1.16" fill="#b01020" opacity="0.84"/><circle cx="99.4" cy="29.0" r="0.84" fill="#901010" opacity="0.59"/><circle cx="99.4" cy="27.6" r="1.16" fill="#901010" opacity="0.62"/><circle cx="100.5" cy="100.8" r="1.37" fill="#901010" opacity="0.87"/><circle cx="96.4" cy="91.0" r="1.07" fill="#d03020" opacity="0.59"/><circle cx="105.0" cy="105.2" r="0.92" fill="#d03020" opacity="0.83"/><circle cx="116.8" cy="54.7" r="0.90" fill="#c02020" opacity="0.95"/><circle cx="106.9" cy="54.2" r="0.60" fill="#b01020" opacity="0.58"/><circle cx="101.5" cy="97.9" r="1.14" fill="#901010" opacity="0.69"/><circle cx="92.9" cy="102.8" r="1.21" fill="#d03020" opacity="0.85"/><circle cx="100.0" cy="76.1" r="1.14" fill="#d03020" opacity="0.60"/><circle cx="114.8" cy="56.3" r="1.14" fill="#d03020" opacity="0.40"/><circle cx="112.2" cy="93.9" r="0.69" fill="#901010" opacity="0.92"/><circle cx="118.6" cy="76.2" r="1.20" fill="#901010" opacity="0.96"/><circle cx="92.1" cy="108.9" r="1.06" fill="#901010" opacity="0.83"/><circle cx="113.0" cy="94.8" r="0.94" fill="#b01020" opacity="0.52"/><circle cx="107.4" cy="33.9" r="1.29" fill="#a01818" opacity="0.70"/><circle cx="106.5" cy="55.1" r="0.99" fill="#d03020" opacity="0.66"/><circle cx="105.6" cy="42.2" r="1.18" fill="#c02020" opacity="0.54"/><circle cx="114.4" cy="84.3" r="0.86" fill="#a01818" opacity="0.81"/><circle cx="101.8" cy="97.8" r="0.99" fill="#b01020" opacity="0.57"/><circle cx="106.8" cy="83.9" r="1.26" fill="#d03020" opacity="0.69"/><circle cx="102.5" cy="63.6" r="1.35" fill="#c02020" opacity="0.62"/><circle cx="103.4" cy="55.4" r="0.87" fill="#d03020" opacity="0.52"/><circle cx="92.6" cy="98.9" r="1.01" fill="#a01818" opacity="0.58"/><circle cx="102.2" cy="68.9" r="0.78" fill="#901010" opacity="0.47"/><circle cx="107.0" cy="69.1" r="1.19" fill="#c02020" opacity="0.99"/><circle cx="114.2" cy="89.8" r="0.82" fill="#b01020" opacity="0.73"/><circle cx="100.4" cy="44.8" r="1.19" fill="#901010" opacity="0.97"/><circle cx="96.1" cy="83.7" r="0.76" fill="#a01818" opacity="0.91"/><circle cx="107.6" cy="77.2" r="1.15" fill="#a01818" opacity="0.80"/><circle cx="103.6" cy="71.8" r="0.94" fill="#a01818" opacity="0.64"/><circle cx="110.0" cy="60.0" r="1.06" fill="#c02020" opacity="0.69"/><circle cx="96.8" cy="37.9" r="0.69" fill="#b01020" opacity="0.58"/><circle cx="100.1" cy="106.3" r="1.15" fill="#d03020" opacity="0.57"/><circle cx="101.9" cy="83.3" r="0.88" fill="#a01818" opacity="0.49"/><circle cx="92.1" cy="112.4" r="1.15" fill="#c02020" opacity="0.64"/><circle cx="100.1" cy="69.5" r="1.35" fill="#d03020" opacity="0.96"/><circle cx="108.0" cy="72.6" r="0.88" fill="#901010" opacity="0.66"/><circle cx="102.9" cy="39.4" r="0.88" fill="#c02020" opacity="0.79"/><circle cx="97.1" cy="29.2" r="1.08" fill="#c02020" opacity="0.47"/><circle cx="105.6" cy="37.1" r="1.12" fill="#c02020" opacity="0.69"/><circle cx="113.3" cy="81.8" r="0.99" fill="#d03020" opacity="0.72"/><circle cx="114.5" cy="88.9" r="1.02" fill="#a01818" opacity="0.43"/><circle cx="112.1" cy="70.4" r="1.24" fill="#d03020" opacity="0.85"/><circle cx="98.4" cy="43.6" r="1.08" fill="#b01020" opacity="0.98"/><circle cx="114.1" cy="64.5" r="1.39" fill="#b01020" opacity="0.92"/><circle cx="100.3" cy="72.7" r="1.07" fill="#d03020" opacity="0.92"/><circle cx="111.0" cy="63.7" r="0.64" fill="#a01818" opacity="0.91"/><circle cx="97.4" cy="37.3" r="1.25" fill="#b01020" opacity="0.91"/><circle cx="107.8" cy="93.5" r="1.19" fill="#a01818" opacity="0.83"/><circle cx="102.2" cy="95.1" r="0.68" fill="#c02020" opacity="0.99"/><circle cx="100.1" cy="52.7" r="1.01" fill="#a01818" opacity="0.85"/><circle cx="101.7" cy="101.8" r="0.60" fill="#d03020" opacity="0.97"/><circle cx="94.5" cy="103.3" r="1.14" fill="#c02020" opacity="0.76"/><circle cx="100.6" cy="105.2" r="0.63" fill="#d03020" opacity="0.91"/><circle cx="102.2" cy="44.0" r="0.63" fill="#c02020" opacity="0.71"/><circle cx="96.7" cy="85.1" r="0.78" fill="#b01020" opacity="0.66"/><circle cx="98.6" cy="22.8" r="1.32" fill="#b01020" opacity="0.81"/><circle cx="94.3" cy="23.5" r="0.89" fill="#d03020" opacity="0.47"/><circle cx="100.3" cy="46.8" r="0.68" fill="#d03020" opacity="0.73"/><circle cx="102.7" cy="35.9" r="1.24" fill="#d03020" opacity="0.44"/><circle cx="117.1" cy="60.4" r="1.40" fill="#d03020" opacity="0.41"/><circle cx="107.8" cy="53.3" r="1.08" fill="#b01020" opacity="0.41"/><circle cx="111.3" cy="88.1" r="1.12" fill="#c02020" opacity="0.78"/><circle cx="93.0" cy="35.2" r="1.11" fill="#901010" opacity="0.94"/><circle cx="109.8" cy="59.6" r="1.08" fill="#d03020" opacity="0.96"/><circle cx="99.7" cy="109.0" r="1.18" fill="#a01818" opacity="0.95"/><circle cx="99.6" cy="38.6" r="1.04" fill="#b01020" opacity="0.95"/><circle cx="102.8" cy="102.8" r="0.66" fill="#a01818" opacity="0.72"/><circle cx="96.3" cy="94.9" r="1.15" fill="#c02020" opacity="0.48"/><circle cx="99.2" cy="87.8" r="1.03" fill="#d03020" opacity="0.82"/><circle cx="112.5" cy="55.3" r="0.73" fill="#d03020" opacity="0.97"/><circle cx="107.6" cy="73.5" r="0.87" fill="#b01020" opacity="0.53"/><circle cx="110.2" cy="83.6" r="0.76" fill="#a01818" opacity="0.73"/><circle cx="109.7" cy="36.9" r="0.98" fill="#a01818" opacity="0.81"/><circle cx="115.9" cy="57.7" r="1.29" fill="#a01818" opacity="0.69"/><circle cx="106.4" cy="61.9" r="0.60" fill="#b01020" opacity="0.77"/><circle cx="115.0" cy="90.7" r="0.92" fill="#d03020" opacity="0.43"/><circle cx="92.6" cy="102.5" r="1.21" fill="#c02020" opacity="0.87"/><circle cx="94.5" cy="44.5" r="0.88" fill="#a01818" opacity="0.70"/><circle cx="94.2" cy="109.7" r="0.64" fill="#b01020" opacity="0.86"/><circle cx="98.8" cy="37.1" r="1.01" fill="#901010" opacity="0.47"/><circle cx="100.7" cy="55.6" r="1.19" fill="#901010" opacity="0.82"/><circle cx="101.2" cy="80.8" r="1.40" fill="#b01020" opacity="0.62"/><circle cx="117.9" cy="61.5" r="0.94" fill="#a01818" opacity="0.83"/><circle cx="103.3" cy="33.5" r="1.21" fill="#a01818" opacity="0.50"/><circle cx="114.6" cy="86.8" r="1.29" fill="#b01020" opacity="0.98"/><circle cx="101.9" cy="64.7" r="1.07" fill="#d03020" opacity="0.48"/><circle cx="105.5" cy="83.4" r="1.14" fill="#b01020" opacity="0.68"/><circle cx="107.7" cy="54.6" r="0.69" fill="#c02020" opacity="0.63"/><circle cx="98.9" cy="51.5" r="1.02" fill="#901010" opacity="0.46"/><circle cx="109.0" cy="59.5" r="0.91" fill="#d03020" opacity="0.98"/><circle cx="104.2" cy="28.1" r="1.26" fill="#a01818" opacity="0.45"/><circle cx="96.2" cy="101.0" r="0.92" fill="#c02020" opacity="0.89"/><circle cx="97.3" cy="40.0" r="1.39" fill="#c02020" opacity="0.41"/><circle cx="99.2" cy="107.9" r="1.20" fill="#901010" opacity="0.68"/><circle cx="95.8" cy="84.2" r="0.95" fill="#c02020" opacity="0.86"/><circle cx="98.4" cy="90.2" r="0.75" fill="#c02020" opacity="0.61"/><circle cx="108.2" cy="41.6" r="0.91" fill="#a01818" opacity="0.42"/><circle cx="95.0" cy="45.1" r="0.79" fill="#a01818" opacity="0.97"/><circle cx="96.2" cy="100.9" r="0.76" fill="#901010" opacity="0.88"/><circle cx="100.1" cy="25.6" r="1.40" fill="#901010" opacity="0.63"/><circle cx="100.4" cy="88.4" r="1.05" fill="#901010" opacity="0.50"/><circle cx="101.0" cy="88.5" r="1.33" fill="#d03020" opacity="0.70"/><circle cx="104.5" cy="102.2" r="1.19" fill="#d03020" opacity="0.82"/><circle cx="99.5" cy="37.1" r="0.82" fill="#d03020" opacity="0.83"/><circle cx="119.2" cy="60.2" r="0.65" fill="#c02020" opacity="0.55"/><circle cx="113.0" cy="67.9" r="0.96" fill="#b01020" opacity="0.96"/><circle cx="117.8" cy="69.5" r="1.05" fill="#901010" opacity="0.64"/><circle cx="108.6" cy="45.7" r="0.91" fill="#d03020" opacity="0.91"/><circle cx="104.1" cy="63.0" r="1.26" fill="#b01020" opacity="0.41"/><circle cx="101.0" cy="28.5" r="0.67" fill="#901010" opacity="0.72"/><circle cx="98.5" cy="39.3" r="0.78" fill="#901010" opacity="0.66"/><circle cx="102.5" cy="83.2" r="0.63" fill="#c02020" opacity="0.81"/><circle cx="107.0" cy="53.3" r="1.04" fill="#d03020" opacity="0.62"/><circle cx="97.5" cy="81.2" r="1.30" fill="#d03020" opacity="0.60"/><circle cx="104.9" cy="55.3" r="1.29" fill="#901010" opacity="0.80"/><circle cx="111.0" cy="61.8" r="0.96" fill="#901010" opacity="0.71"/><circle cx="96.4" cy="27.0" r="1.26" fill="#c02020" opacity="0.89"/><circle cx="108.1" cy="81.1" r="0.71" fill="#b01020" opacity="0.58"/><circle cx="114.4" cy="71.8" r="0.86" fill="#a01818" opacity="0.86"/><circle cx="112.3" cy="57.2" r="1.36" fill="#d03020" opacity="0.80"/><circle cx="103.9" cy="69.1" r="0.64" fill="#c02020" opacity="0.90"/><circle cx="109.0" cy="65.5" r="1.24" fill="#b01020" opacity="0.68"/><circle cx="109.8" cy="48.2" r="1.14" fill="#d03020" opacity="0.65"/><circle cx="116.7" cy="65.8" r="0.95" fill="#b01020" opacity="0.96"/><circle cx="112.9" cy="66.9" r="1.21" fill="#d03020" opacity="0.59"/><circle cx="105.1" cy="76.5" r="0.78" fill="#901010" opacity="0.78"/><circle cx="99.5" cy="28.5" r="0.83" fill="#c02020" opacity="0.90"/><circle cx="111.6" cy="46.6" r="1.40" fill="#d03020" opacity="0.89"/><circle cx="110.2" cy="79.6" r="0.94" fill="#b01020" opacity="0.72"/><circle cx="101.3" cy="68.6" r="0.98" fill="#c02020" opacity="0.94"/><circle cx="103.2" cy="65.2" r="1.27" fill="#d03020" opacity="0.81"/><circle cx="107.1" cy="51.7" r="0.61" fill="#c02020" opacity="0.50"/><circle cx="109.2" cy="71.5" r="1.18" fill="#b01020" opacity="0.70"/><circle cx="107.4" cy="35.1" r="0.68" fill="#c02020" opacity="0.65"/><circle cx="104.9" cy="90.9" r="0.72" fill="#901010" opacity="0.60"/><circle cx="97.7" cy="62.9" r="0.76" fill="#b01020" opacity="0.48"/><circle cx="116.2" cy="84.8" r="1.26" fill="#a01818" opacity="0.55"/><circle cx="108.1" cy="64.3" r="1.21" fill="#a01818" opacity="0.47"/><circle cx="99.7" cy="73.6" r="1.01" fill="#d03020" opacity="0.50"/><circle cx="99.2" cy="62.3" r="1.32" fill="#c02020" opacity="0.57"/><circle cx="113.2" cy="45.9" r="0.93" fill="#d03020" opacity="0.98"/><circle cx="100.3" cy="88.3" r="0.90" fill="#901010" opacity="0.50"/><circle cx="113.7" cy="73.8" r="1.37" fill="#c02020" opacity="0.81"/><circle cx="98.4" cy="59.0" r="0.65" fill="#d03020" opacity="0.65"/><circle cx="109.4" cy="45.2" r="0.72" fill="#a01818" opacity="0.65"/><circle cx="104.2" cy="107.5" r="0.84" fill="#d03020" opacity="0.99"/><circle cx="100.7" cy="91.5" r="0.91" fill="#a01818" opacity="0.75"/><circle cx="100.1" cy="63.6" r="1.17" fill="#d03020" opacity="0.86"/><circle cx="106.8" cy="67.0" r="1.16" fill="#b01020" opacity="0.73"/><circle cx="108.1" cy="72.5" r="1.19" fill="#d03020" opacity="0.70"/><circle cx="103.1" cy="53.1" r="0.95" fill="#c02020" opacity="0.68"/><circle cx="114.0" cy="70.4" r="1.19" fill="#d03020" opacity="0.97"/><circle cx="97.4" cy="64.5" r="1.36" fill="#a01818" opacity="0.79"/><circle cx="106.7" cy="92.0" r="1.14" fill="#c02020" opacity="0.86"/><circle cx="97.5" cy="85.0" r="1.30" fill="#901010" opacity="0.76"/><circle cx="116.9" cy="71.4" r="0.80" fill="#901010" opacity="0.89"/><circle cx="103.2" cy="35.9" r="1.27" fill="#901010" opacity="0.64"/><circle cx="114.4" cy="92.2" r="0.89" fill="#a01818" opacity="0.51"/><circle cx="103.7" cy="41.5" r="0.84" fill="#c02020" opacity="0.48"/><circle cx="96.9" cy="92.7" r="1.09" fill="#d03020" opacity="0.46"/><circle cx="117.9" cy="74.7" r="1.13" fill="#901010" opacity="0.66"/><circle cx="101.0" cy="37.5" r="0.80" fill="#d03020" opacity="0.67"/><circle cx="112.4" cy="62.0" r="0.77" fill="#d03020" opacity="0.56"/><circle cx="105.3" cy="39.7" r="0.61" fill="#901010" opacity="0.62"/><circle cx="101.8" cy="73.2" r="0.71" fill="#d03020" opacity="0.88"/><circle cx="112.2" cy="46.0" r="0.93" fill="#c02020" opacity="0.52"/><circle cx="97.2" cy="58.8" r="1.20" fill="#a01818" opacity="0.62"/><circle cx="112.8" cy="40.4" r="1.09" fill="#d03020" opacity="0.43"/><circle cx="100.2" cy="64.6" r="0.62" fill="#b01020" opacity="0.62"/><circle cx="98.5" cy="34.6" r="1.21" fill="#d03020" opacity="0.79"/><circle cx="101.1" cy="43.1" r="1.28" fill="#d03020" opacity="0.87"/><circle cx="103.5" cy="62.6" r="0.68" fill="#901010" opacity="0.78"/><circle cx="96.9" cy="46.3" r="0.65" fill="#c02020" opacity="0.92"/><circle cx="95.7" cy="95.4" r="0.81" fill="#a01818" opacity="0.41"/><circle cx="107.1" cy="74.1" r="0.77" fill="#901010" opacity="0.88"/><circle cx="98.1" cy="23.7" r="0.98" fill="#901010" opacity="0.65"/><circle cx="99.4" cy="28.7" r="1.17" fill="#a01818" opacity="0.64"/><circle cx="104.8" cy="84.1" r="0.93" fill="#b01020" opacity="0.61"/><circle cx="108.7" cy="40.5" r="0.97" fill="#a01818" opacity="0.42"/><circle cx="102.2" cy="104.6" r="1.17" fill="#d03020" opacity="0.76"/><circle cx="109.5" cy="96.7" r="0.69" fill="#a01818" opacity="0.96"/><circle cx="108.9" cy="102.4" r="1.04" fill="#d03020" opacity="0.87"/><circle cx="101.2" cy="88.5" r="1.05" fill="#a01818" opacity="0.72"/><circle cx="96.1" cy="104.9" r="1.05" fill="#c02020" opacity="0.59"/><circle cx="118.3" cy="60.1" r="0.93" fill="#c02020" opacity="0.76"/><circle cx="111.6" cy="79.4" r="1.34" fill="#c02020" opacity="0.83"/><circle cx="101.0" cy="98.3" r="1.12" fill="#a01818" opacity="0.64"/><circle cx="112.1" cy="75.9" r="0.83" fill="#d03020" opacity="0.55"/><circle cx="99.6" cy="37.6" r="1.16" fill="#b01020" opacity="0.62"/><circle cx="100.8" cy="74.2" r="1.12" fill="#b01020" opacity="0.47"/><circle cx="100.8" cy="46.3" r="1.00" fill="#c02020" opacity="0.78"/><circle cx="117.3" cy="65.8" r="1.32" fill="#b01020" opacity="0.43"/><circle cx="96.8" cy="57.9" r="1.22" fill="#a01818" opacity="0.61"/><circle cx="98.6" cy="55.9" r="1.07" fill="#901010" opacity="0.56"/><circle cx="108.2" cy="48.8" r="0.60" fill="#b01020" opacity="0.76"/><circle cx="104.4" cy="47.4" r="0.62" fill="#a01818" opacity="0.96"/><circle cx="104.1" cy="55.5" r="1.33" fill="#901010" opacity="0.57"/><circle cx="93.4" cy="36.7" r="0.81" fill="#c02020" opacity="0.97"/><circle cx="107.4" cy="100.1" r="1.09" fill="#b01020" opacity="0.51"/><circle cx="103.4" cy="37.6" r="0.86" fill="#b01020" opacity="0.72"/><circle cx="96.9" cy="103.5" r="1.38" fill="#b01020" opacity="0.96"/><circle cx="107.4" cy="60.2" r="1.23" fill="#c02020" opacity="0.81"/><circle cx="96.1" cy="106.2" r="0.87" fill="#d03020" opacity="0.88"/><circle cx="112.4" cy="96.8" r="0.77" fill="#901010" opacity="0.60"/><circle cx="100.8" cy="84.3" r="1.18" fill="#d03020" opacity="0.81"/><circle cx="102.3" cy="91.0" r="0.88" fill="#c02020" opacity="0.71"/><circle cx="92.3" cy="22.1" r="0.86" fill="#901010" opacity="0.58"/><circle cx="101.9" cy="60.5" r="1.38" fill="#a01818" opacity="0.99"/><circle cx="105.4" cy="85.3" r="1.12" fill="#a01818" opacity="0.61"/><circle cx="95.9" cy="39.7" r="0.67" fill="#901010" opacity="0.42"/><circle cx="106.1" cy="47.6" r="0.62" fill="#901010" opacity="0.81"/><circle cx="98.5" cy="94.2" r="0.90" fill="#c02020" opacity="0.62"/><circle cx="111.3" cy="63.7" r="1.20" fill="#d03020" opacity="0.43"/><circle cx="103.1" cy="62.2" r="1.14" fill="#c02020" opacity="0.98"/><circle cx="100.2" cy="26.6" r="0.77" fill="#b01020" opacity="0.72"/><circle cx="95.1" cy="43.4" r="0.88" fill="#a01818" opacity="0.65"/><circle cx="107.8" cy="34.9" r="1.18" fill="#a01818" opacity="0.75"/>
<circle cx="87.5" cy="24.2" r="1.19" fill="#a01828" opacity="0.71"/><circle cx="82.8" cy="26.3" r="1.05" fill="#a01828" opacity="0.64"/><circle cx="51.3" cy="25.3" r="1.14" fill="#c02010" opacity="0.83"/><circle cx="78.3" cy="21.6" r="1.09" fill="#901040" opacity="0.69"/><circle cx="92.4" cy="18.6" r="1.22" fill="#e03020" opacity="0.82"/><circle cx="54.8" cy="14.3" r="1.03" fill="#d04010" opacity="0.67"/><circle cx="99.7" cy="28.9" r="1.31" fill="#e03020" opacity="0.62"/><circle cx="71.7" cy="18.5" r="1.16" fill="#a01828" opacity="0.74"/><circle cx="73.8" cy="18.0" r="0.97" fill="#e03020" opacity="0.88"/><circle cx="85.1" cy="19.6" r="1.41" fill="#d04010" opacity="0.67"/><circle cx="69.6" cy="15.5" r="1.02" fill="#d04010" opacity="0.96"/><circle cx="45.7" cy="19.0" r="0.85" fill="#e03020" opacity="0.83"/><circle cx="95.6" cy="27.2" r="1.39" fill="#901040" opacity="0.87"/><circle cx="72.8" cy="20.0" r="0.87" fill="#c02010" opacity="0.66"/><circle cx="42.9" cy="27.3" r="1.32" fill="#c02010" opacity="0.98"/><circle cx="59.9" cy="22.2" r="0.96" fill="#a01828" opacity="0.98"/><circle cx="68.2" cy="23.4" r="1.11" fill="#901040" opacity="0.96"/><circle cx="86.8" cy="16.8" r="0.99" fill="#e03020" opacity="0.69"/><circle cx="77.2" cy="17.1" r="1.11" fill="#a01828" opacity="0.80"/><circle cx="83.5" cy="26.5" r="1.05" fill="#901040" opacity="0.80"/><circle cx="55.2" cy="13.9" r="1.04" fill="#901040" opacity="0.91"/><circle cx="95.6" cy="28.7" r="0.86" fill="#d04010" opacity="0.94"/><circle cx="98.2" cy="27.5" r="1.41" fill="#901040" opacity="0.70"/><circle cx="83.2" cy="26.0" r="1.06" fill="#901040" opacity="0.67"/><circle cx="54.6" cy="22.4" r="0.80" fill="#d04010" opacity="0.88"/><circle cx="82.6" cy="18.1" r="1.00" fill="#a01828" opacity="0.90"/><circle cx="79.3" cy="18.6" r="1.04" fill="#e03020" opacity="0.92"/><circle cx="69.6" cy="12.8" r="0.94" fill="#a01828" opacity="0.99"/><circle cx="80.2" cy="21.1" r="1.17" fill="#901040" opacity="0.94"/><circle cx="43.9" cy="27.9" r="1.11" fill="#c02010" opacity="0.99"/><circle cx="79.6" cy="22.1" r="1.02" fill="#e03020" opacity="0.98"/><circle cx="83.6" cy="19.2" r="0.92" fill="#c02010" opacity="0.97"/><circle cx="45.0" cy="22.7" r="1.45" fill="#c02010" opacity="0.71"/><circle cx="77.9" cy="24.3" r="0.90" fill="#901040" opacity="0.82"/><circle cx="85.7" cy="21.2" r="0.87" fill="#c02010" opacity="0.85"/><circle cx="92.5" cy="21.1" r="1.34" fill="#e03020" opacity="0.85"/><circle cx="91.8" cy="28.3" r="1.03" fill="#d04010" opacity="0.86"/><circle cx="72.9" cy="21.1" r="0.93" fill="#e03020" opacity="0.72"/><circle cx="60.0" cy="19.7" r="1.48" fill="#a01828" opacity="0.78"/><circle cx="60.9" cy="15.4" r="0.82" fill="#d04010" opacity="0.69"/><circle cx="42.2" cy="23.2" r="1.10" fill="#a01828" opacity="0.87"/><circle cx="85.9" cy="19.7" r="1.01" fill="#c02010" opacity="0.78"/><circle cx="75.9" cy="24.2" r="1.03" fill="#d04010" opacity="0.75"/><circle cx="56.4" cy="18.8" r="1.28" fill="#d04010" opacity="0.84"/><circle cx="61.3" cy="20.7" r="0.71" fill="#d04010" opacity="0.72"/><circle cx="45.9" cy="22.6" r="1.26" fill="#901040" opacity="1.00"/><circle cx="97.6" cy="22.9" r="0.99" fill="#d04010" opacity="0.74"/><circle cx="71.7" cy="21.0" r="0.81" fill="#901040" opacity="0.71"/><circle cx="55.8" cy="19.1" r="1.44" fill="#a01828" opacity="0.64"/><circle cx="79.7" cy="14.2" r="1.26" fill="#c02010" opacity="0.80"/><circle cx="86.2" cy="24.4" r="0.81" fill="#c02010" opacity="0.75"/><circle cx="65.2" cy="17.5" r="0.88" fill="#a01828" opacity="0.74"/><circle cx="45.0" cy="27.5" r="0.71" fill="#e03020" opacity="0.82"/><circle cx="96.6" cy="29.0" r="1.37" fill="#a01828" opacity="0.74"/><circle cx="67.5" cy="20.6" r="0.76" fill="#d04010" opacity="0.92"/><circle cx="49.5" cy="15.9" r="1.32" fill="#901040" opacity="0.76"/><circle cx="81.8" cy="15.6" r="1.46" fill="#e03020" opacity="0.72"/><circle cx="87.6" cy="19.2" r="1.23" fill="#c02010" opacity="0.86"/><circle cx="90.8" cy="27.5" r="1.03" fill="#c02010" opacity="0.80"/><circle cx="78.1" cy="16.8" r="0.84" fill="#e03020" opacity="0.63"/><circle cx="53.6" cy="23.9" r="1.23" fill="#a01828" opacity="0.93"/><circle cx="56.0" cy="15.0" r="1.04" fill="#901040" opacity="0.97"/><circle cx="60.0" cy="16.3" r="1.11" fill="#c02010" opacity="0.71"/><circle cx="64.6" cy="23.2" r="0.98" fill="#a01828" opacity="0.95"/><circle cx="68.6" cy="19.3" r="0.80" fill="#d04010" opacity="0.71"/><circle cx="81.7" cy="21.9" r="0.95" fill="#d04010" opacity="0.86"/><circle cx="74.5" cy="20.2" r="0.84" fill="#901040" opacity="0.99"/><circle cx="93.2" cy="26.8" r="1.27" fill="#a01828" opacity="0.95"/><circle cx="49.2" cy="24.3" r="1.02" fill="#e03020" opacity="0.87"/><circle cx="45.6" cy="23.8" r="1.33" fill="#a01828" opacity="0.62"/>
<circle cx="49.2" cy="101.5" r="0.78" fill="#a01828" opacity="0.90"/><circle cx="51.9" cy="98.7" r="1.24" fill="#901040" opacity="0.62"/><circle cx="35.6" cy="100.8" r="1.10" fill="#901040" opacity="0.62"/><circle cx="41.0" cy="104.9" r="0.90" fill="#a01828" opacity="0.76"/><circle cx="49.5" cy="97.7" r="1.08" fill="#a01828" opacity="0.74"/><circle cx="32.9" cy="97.3" r="0.71" fill="#d04010" opacity="0.79"/><circle cx="39.4" cy="108.1" r="1.11" fill="#c02010" opacity="0.64"/><circle cx="54.2" cy="102.2" r="1.01" fill="#e03020" opacity="0.65"/><circle cx="44.1" cy="109.5" r="1.32" fill="#d04010" opacity="0.77"/><circle cx="49.6" cy="103.6" r="1.31" fill="#a01828" opacity="0.87"/><circle cx="41.9" cy="104.1" r="1.27" fill="#901040" opacity="0.92"/><circle cx="47.2" cy="101.8" r="0.61" fill="#d04010" opacity="0.74"/><circle cx="40.1" cy="97.5" r="0.61" fill="#e03020" opacity="0.90"/><circle cx="56.0" cy="104.8" r="0.73" fill="#d04010" opacity="0.63"/><circle cx="46.3" cy="99.8" r="0.95" fill="#901040" opacity="0.74"/><circle cx="38.2" cy="97.5" r="0.97" fill="#901040" opacity="0.55"/><circle cx="43.7" cy="99.6" r="1.00" fill="#c02010" opacity="0.67"/><circle cx="45.1" cy="97.5" r="0.60" fill="#d04010" opacity="0.92"/><circle cx="45.5" cy="96.1" r="1.11" fill="#c02010" opacity="0.54"/><circle cx="54.8" cy="98.9" r="0.93" fill="#a01828" opacity="0.64"/><circle cx="33.1" cy="104.8" r="1.24" fill="#d04010" opacity="0.62"/><circle cx="38.7" cy="105.9" r="0.67" fill="#e03020" opacity="0.94"/><circle cx="38.0" cy="106.0" r="1.02" fill="#a01828" opacity="0.55"/><circle cx="40.0" cy="96.5" r="1.26" fill="#e03020" opacity="0.98"/><circle cx="49.7" cy="106.9" r="0.71" fill="#a01828" opacity="0.84"/><circle cx="55.8" cy="102.1" r="1.39" fill="#a01828" opacity="0.96"/><circle cx="44.1" cy="102.1" r="1.21" fill="#e03020" opacity="0.81"/><circle cx="48.7" cy="108.5" r="1.09" fill="#c02010" opacity="0.87"/><circle cx="46.8" cy="94.6" r="0.62" fill="#901040" opacity="0.92"/><circle cx="39.8" cy="97.4" r="0.95" fill="#a01828" opacity="0.88"/><circle cx="32.7" cy="97.2" r="0.77" fill="#d04010" opacity="0.63"/><circle cx="53.9" cy="100.6" r="0.75" fill="#d04010" opacity="0.72"/><circle cx="40.6" cy="103.5" r="1.04" fill="#c02010" opacity="0.69"/><circle cx="40.8" cy="108.0" r="1.33" fill="#901040" opacity="0.86"/><circle cx="44.9" cy="102.2" r="1.17" fill="#901040" opacity="0.94"/><circle cx="45.8" cy="105.6" r="0.76" fill="#d04010" opacity="0.60"/><circle cx="50.3" cy="101.7" r="1.00" fill="#a01828" opacity="0.98"/><circle cx="35.8" cy="107.6" r="1.13" fill="#e03020" opacity="0.65"/><circle cx="47.6" cy="108.2" r="1.31" fill="#c02010" opacity="0.92"/><circle cx="46.8" cy="102.8" r="0.75" fill="#901040" opacity="0.66"/><circle cx="36.3" cy="99.6" r="0.89" fill="#c02010" opacity="0.62"/><circle cx="52.6" cy="96.9" r="1.21" fill="#e03020" opacity="0.85"/><circle cx="50.3" cy="99.4" r="1.20" fill="#a01828" opacity="0.62"/><circle cx="41.0" cy="97.7" r="1.33" fill="#a01828" opacity="0.78"/><circle cx="50.7" cy="97.8" r="1.05" fill="#a01828" opacity="0.96"/><circle cx="49.8" cy="100.1" r="0.76" fill="#c02010" opacity="0.67"/><circle cx="31.0" cy="104.4" r="0.65" fill="#e03020" opacity="0.64"/><circle cx="44.6" cy="96.6" r="0.80" fill="#a01828" opacity="0.90"/><circle cx="49.6" cy="104.3" r="1.08" fill="#e03020" opacity="0.93"/><circle cx="43.9" cy="103.1" r="1.08" fill="#a01828" opacity="0.54"/><circle cx="37.9" cy="98.5" r="1.02" fill="#c02010" opacity="0.86"/><circle cx="49.1" cy="99.5" r="0.97" fill="#d04010" opacity="0.95"/><circle cx="51.7" cy="106.2" r="0.77" fill="#c02010" opacity="0.82"/><circle cx="48.6" cy="96.9" r="1.31" fill="#901040" opacity="0.96"/><circle cx="40.4" cy="101.9" r="1.34" fill="#c02010" opacity="0.56"/><circle cx="52.9" cy="102.7" r="1.23" fill="#c02010" opacity="0.89"/><circle cx="34.4" cy="99.8" r="1.24" fill="#a01828" opacity="0.94"/><circle cx="31.0" cy="106.0" r="0.74" fill="#c02010" opacity="0.86"/><circle cx="36.9" cy="100.8" r="1.18" fill="#e03020" opacity="0.85"/><circle cx="54.5" cy="103.2" r="1.08" fill="#901040" opacity="0.86"/><circle cx="51.6" cy="97.7" r="1.00" fill="#c02010" opacity="0.86"/><circle cx="44.9" cy="108.6" r="1.14" fill="#a01828" opacity="0.61"/><circle cx="41.4" cy="104.9" r="0.78" fill="#901040" opacity="0.70"/><circle cx="47.3" cy="107.2" r="1.14" fill="#c02010" opacity="0.83"/><circle cx="50.8" cy="107.4" r="1.08" fill="#901040" opacity="0.97"/><circle cx="38.1" cy="103.7" r="1.05" fill="#901040" opacity="0.70"/><circle cx="37.2" cy="103.0" r="1.26" fill="#a01828" opacity="0.91"/><circle cx="46.8" cy="98.5" r="1.32" fill="#c02010" opacity="0.60"/><circle cx="53.0" cy="100.0" r="0.88" fill="#e03020" opacity="0.77"/><circle cx="38.2" cy="96.4" r="0.69" fill="#e03020" opacity="0.95"/>
<circle cx="58.0" cy="49.7" r="0.85" fill="#e03020" opacity="0.77"/><circle cx="63.1" cy="67.7" r="1.04" fill="#c02010" opacity="0.96"/><circle cx="61.6" cy="66.3" r="0.97" fill="#901040" opacity="0.92"/><circle cx="57.3" cy="58.6" r="0.87" fill="#d04010" opacity="0.59"/><circle cx="68.2" cy="57.4" r="0.91" fill="#e03020" opacity="0.83"/><circle cx="55.4" cy="59.0" r="0.69" fill="#c02010" opacity="0.74"/><circle cx="61.1" cy="66.0" r="0.85" fill="#e03020" opacity="0.65"/><circle cx="56.8" cy="60.7" r="0.74" fill="#a01828" opacity="0.56"/><circle cx="68.7" cy="52.6" r="0.61" fill="#a01828" opacity="0.89"/><circle cx="57.8" cy="56.2" r="1.02" fill="#a01828" opacity="0.93"/><circle cx="57.7" cy="49.8" r="0.80" fill="#c02010" opacity="0.51"/><circle cx="56.5" cy="55.3" r="0.78" fill="#e03020" opacity="0.88"/><circle cx="56.9" cy="53.2" r="0.68" fill="#901040" opacity="0.63"/><circle cx="64.5" cy="53.0" r="1.12" fill="#d04010" opacity="0.57"/><circle cx="66.8" cy="61.6" r="1.01" fill="#901040" opacity="0.76"/><circle cx="58.0" cy="55.7" r="1.19" fill="#d04010" opacity="0.72"/><circle cx="61.8" cy="47.7" r="1.06" fill="#d04010" opacity="0.70"/><circle cx="69.3" cy="57.0" r="1.08" fill="#d04010" opacity="0.86"/><circle cx="55.6" cy="63.8" r="0.95" fill="#901040" opacity="0.54"/><circle cx="60.6" cy="52.6" r="1.00" fill="#c02010" opacity="0.67"/><circle cx="58.7" cy="67.3" r="1.10" fill="#c02010" opacity="0.72"/><circle cx="60.9" cy="68.8" r="0.72" fill="#e03020" opacity="0.62"/>
<circle cx="38.5" cy="62.9" r="0.93" fill="#801818" opacity="0.68"/><circle cx="83.8" cy="53.5" r="0.67" fill="#801818" opacity="0.49"/><circle cx="90.4" cy="86.7" r="1.17" fill="#801818" opacity="0.50"/><circle cx="64.1" cy="105.4" r="0.80" fill="#a01020" opacity="0.48"/><circle cx="72.6" cy="46.9" r="1.07" fill="#a01020" opacity="0.53"/><circle cx="74.8" cy="111.3" r="0.65" fill="#801818" opacity="0.64"/><circle cx="81.5" cy="109.8" r="0.76" fill="#801818" opacity="0.33"/><circle cx="55.9" cy="36.7" r="0.61" fill="#a01020" opacity="0.53"/><circle cx="70.2" cy="24.7" r="0.80" fill="#801818" opacity="0.62"/><circle cx="60.4" cy="100.7" r="0.72" fill="#801818" opacity="0.56"/><circle cx="92.4" cy="46.6" r="1.20" fill="#a01020" opacity="0.38"/><circle cx="92.2" cy="42.1" r="0.74" fill="#a01020" opacity="0.55"/><circle cx="20.9" cy="65.7" r="0.69" fill="#801818" opacity="0.41"/><circle cx="51.5" cy="38.8" r="0.63" fill="#a01020" opacity="0.49"/><circle cx="35.0" cy="47.5" r="0.79" fill="#a01020" opacity="0.66"/><circle cx="67.2" cy="52.3" r="0.84" fill="#801818" opacity="0.54"/><circle cx="60.0" cy="56.3" r="0.71" fill="#a01020" opacity="0.47"/><circle cx="56.5" cy="96.5" r="1.01" fill="#801818" opacity="0.48"/><circle cx="73.4" cy="58.4" r="0.77" fill="#a01020" opacity="0.38"/><circle cx="65.9" cy="46.8" r="0.74" fill="#a01020" opacity="0.64"/><circle cx="37.9" cy="44.4" r="1.13" fill="#a01020" opacity="0.31"/><circle cx="81.7" cy="114.4" r="0.76" fill="#a01020" opacity="0.68"/><circle cx="74.6" cy="44.2" r="0.63" fill="#a01020" opacity="0.38"/><circle cx="61.0" cy="82.7" r="0.68" fill="#a01020" opacity="0.57"/><circle cx="65.9" cy="46.3" r="1.05" fill="#801818" opacity="0.63"/><circle cx="53.2" cy="40.4" r="0.89" fill="#801818" opacity="0.60"/><circle cx="77.5" cy="75.9" r="0.71" fill="#801818" opacity="0.65"/><circle cx="33.7" cy="72.2" r="1.15" fill="#801818" opacity="0.62"/><circle cx="82.6" cy="65.8" r="1.01" fill="#801818" opacity="0.48"/><circle cx="59.6" cy="102.2" r="1.13" fill="#801818" opacity="0.45"/><circle cx="72.1" cy="76.5" r="1.11" fill="#a01020" opacity="0.46"/><circle cx="48.1" cy="42.3" r="0.76" fill="#a01020" opacity="0.40"/><circle cx="79.5" cy="103.0" r="0.76" fill="#801818" opacity="0.39"/><circle cx="48.2" cy="61.9" r="0.64" fill="#801818" opacity="0.41"/><circle cx="45.7" cy="45.0" r="1.09" fill="#801818" opacity="0.46"/><circle cx="62.8" cy="114.8" r="0.78" fill="#a01020" opacity="0.65"/><circle cx="91.4" cy="37.2" r="0.76" fill="#a01020" opacity="0.36"/><circle cx="92.4" cy="70.4" r="0.94" fill="#801818" opacity="0.64"/><circle cx="71.4" cy="88.7" r="1.11" fill="#801818" opacity="0.43"/><circle cx="94.5" cy="84.9" r="0.63" fill="#a01020" opacity="0.59"/><circle cx="65.3" cy="100.7" r="0.77" fill="#801818" opacity="0.67"/><circle cx="55.5" cy="61.2" r="1.01" fill="#a01020" opacity="0.61"/><circle cx="94.5" cy="46.8" r="1.00" fill="#a01020" opacity="0.68"/><circle cx="61.4" cy="43.4" r="0.78" fill="#a01020" opacity="0.42"/><circle cx="78.6" cy="56.9" r="1.09" fill="#a01020" opacity="0.51"/><circle cx="64.6" cy="80.8" r="0.70" fill="#801818" opacity="0.32"/><circle cx="25.8" cy="65.8" r="1.10" fill="#a01020" opacity="0.37"/><circle cx="62.4" cy="46.6" r="0.93" fill="#a01020" opacity="0.42"/><circle cx="29.8" cy="69.4" r="0.93" fill="#801818" opacity="0.37"/><circle cx="52.9" cy="36.8" r="0.65" fill="#801818" opacity="0.45"/><circle cx="41.6" cy="79.6" r="0.78" fill="#a01020" opacity="0.48"/><circle cx="85.7" cy="99.8" r="0.93" fill="#801818" opacity="0.69"/><circle cx="45.5" cy="41.9" r="0.99" fill="#a01020" opacity="0.51"/><circle cx="69.6" cy="79.1" r="0.72" fill="#801818" opacity="0.37"/><circle cx="65.1" cy="115.8" r="0.88" fill="#a01020" opacity="0.58"/><circle cx="44.7" cy="39.6" r="1.15" fill="#a01020" opacity="0.50"/><circle cx="26.9" cy="45.8" r="0.79" fill="#801818" opacity="0.56"/><circle cx="93.0" cy="64.5" r="0.95" fill="#801818" opacity="0.64"/><circle cx="83.0" cy="46.5" r="0.83" fill="#801818" opacity="0.62"/><circle cx="72.9" cy="65.7" r="0.85" fill="#a01020" opacity="0.58"/><circle cx="62.4" cy="108.7" r="1.01" fill="#801818" opacity="0.51"/><circle cx="57.4" cy="51.1" r="0.85" fill="#801818" opacity="0.53"/><circle cx="85.6" cy="58.9" r="0.96" fill="#a01020" opacity="0.50"/><circle cx="63.0" cy="75.1" r="0.98" fill="#a01020" opacity="0.38"/><circle cx="70.4" cy="26.0" r="1.09" fill="#a01020" opacity="0.44"/><circle cx="26.3" cy="81.4" r="0.73" fill="#801818" opacity="0.58"/><circle cx="69.0" cy="110.5" r="1.01" fill="#a01020" opacity="0.57"/><circle cx="78.5" cy="70.2" r="1.16" fill="#a01020" opacity="0.62"/><circle cx="35.0" cy="89.1" r="1.12" fill="#a01020" opacity="0.65"/><circle cx="25.3" cy="80.0" r="0.87" fill="#a01020" opacity="0.66"/><circle cx="88.9" cy="99.6" r="0.77" fill="#801818" opacity="0.49"/><circle cx="37.8" cy="80.4" r="1.02" fill="#801818" opacity="0.51"/><circle cx="77.9" cy="82.7" r="0.73" fill="#801818" opacity="0.69"/><circle cx="85.8" cy="46.4" r="1.17" fill="#801818" opacity="0.62"/><circle cx="37.6" cy="58.0" r="0.95" fill="#801818" opacity="0.66"/><circle cx="43.3" cy="89.7" r="0.69" fill="#801818" opacity="0.68"/><circle cx="58.7" cy="81.1" r="0.75" fill="#a01020" opacity="0.45"/><circle cx="85.5" cy="64.1" r="0.68" fill="#a01020" opacity="0.61"/><circle cx="38.8" cy="62.3" r="0.60" fill="#a01020" opacity="0.46"/><circle cx="43.6" cy="30.8" r="0.73" fill="#801818" opacity="0.68"/><circle cx="44.7" cy="29.8" r="1.15" fill="#801818" opacity="0.40"/><circle cx="44.4" cy="55.1" r="1.20" fill="#801818" opacity="0.62"/><circle cx="37.2" cy="55.7" r="1.05" fill="#a01020" opacity="0.49"/><circle cx="78.4" cy="61.1" r="1.07" fill="#801818" opacity="0.31"/><circle cx="65.6" cy="79.4" r="0.88" fill="#801818" opacity="0.39"/><circle cx="66.0" cy="103.6" r="0.80" fill="#801818" opacity="0.61"/><circle cx="74.4" cy="98.5" r="0.76" fill="#a01020" opacity="0.30"/><circle cx="93.4" cy="38.8" r="1.11" fill="#a01020" opacity="0.38"/><circle cx="62.6" cy="72.4" r="1.14" fill="#a01020" opacity="0.36"/><circle cx="34.0" cy="41.0" r="0.94" fill="#a01020" opacity="0.70"/>
</g>
</g>
<g id="p2b">
<path d="M43.6,29.5 C47.6,28.2 53.6,27.6 58.0,29.0 C62.4,30.4 67.3,33.7 70.0,38.0 C72.7,42.3 73.8,48.8 74.0,55.0 C74.2,61.2 72.5,68.8 71.0,75.0 C69.5,81.2 67.1,87.3 65.0,92.0 C62.9,96.7 61.2,101.5 58.2,103.2 C55.2,104.9 50.5,103.7 47.0,102.0 C43.5,100.3 40.0,96.7 37.0,93.0 C34.0,89.3 30.8,84.5 29.0,80.0 C27.2,75.5 26.5,71.0 26.3,66.0 C26.1,61.0 26.7,54.8 28.0,50.0 C29.3,45.2 31.4,40.4 34.0,37.0 C36.6,33.6 39.6,30.8 43.6,29.5 Z" fill="#1616dc" filter="url(#b2)" transform="translate(50 66) scale(1.05) translate(-50 -66)"/>
<path d="M96.0,44.0 C99.2,43.8 104.8,45.0 108.0,48.0 C111.2,51.0 113.8,57.2 115.0,62.0 C116.2,66.8 116.3,72.0 115.5,77.0 C114.7,82.0 112.6,87.8 110.0,92.0 C107.4,96.2 103.7,99.7 100.0,102.0 C96.3,104.3 92.0,105.7 88.0,106.0 C84.0,106.3 79.3,105.2 76.0,104.0 C72.7,102.8 69.0,101.0 68.0,99.0 C67.0,97.0 68.3,94.3 70.0,92.0 C71.7,89.7 75.7,88.3 78.0,85.0 C80.3,81.7 82.8,76.5 84.0,72.0 C85.2,67.5 84.2,61.8 85.0,58.0 C85.8,54.2 87.2,51.3 89.0,49.0 C90.8,46.7 92.8,44.2 96.0,44.0 Z" fill="#1616d4" filter="url(#b2)" transform="translate(96 74) scale(1.05) translate(-96 -74)"/>
</g>
<g id="p2g">
<path d="M43.6,29.5 C47.6,28.2 53.6,27.6 58.0,29.0 C62.4,30.4 67.3,33.7 70.0,38.0 C72.7,42.3 73.8,48.8 74.0,55.0 C74.2,61.2 72.5,68.8 71.0,75.0 C69.5,81.2 67.1,87.3 65.0,92.0 C62.9,96.7 61.2,101.5 58.2,103.2 C55.2,104.9 50.5,103.7 47.0,102.0 C43.5,100.3 40.0,96.7 37.0,93.0 C34.0,89.3 30.8,84.5 29.0,80.0 C27.2,75.5 26.5,71.0 26.3,66.0 C26.1,61.0 26.7,54.8 28.0,50.0 C29.3,45.2 31.4,40.4 34.0,37.0 C36.6,33.6 39.6,30.8 43.6,29.5 Z" fill="#245a14" filter="url(#b2)"/>
<ellipse cx="55" cy="62" rx="14" ry="24" fill="#3a9030" filter="url(#b3)" opacity="0.9"/>
<path d="M96.0,44.0 C99.2,43.8 104.8,45.0 108.0,48.0 C111.2,51.0 113.8,57.2 115.0,62.0 C116.2,66.8 116.3,72.0 115.5,77.0 C114.7,82.0 112.6,87.8 110.0,92.0 C107.4,96.2 103.7,99.7 100.0,102.0 C96.3,104.3 92.0,105.7 88.0,106.0 C84.0,106.3 79.3,105.2 76.0,104.0 C72.7,102.8 69.0,101.0 68.0,99.0 C67.0,97.0 68.3,94.3 70.0,92.0 C71.7,89.7 75.7,88.3 78.0,85.0 C80.3,81.7 82.8,76.5 84.0,72.0 C85.2,67.5 84.2,61.8 85.0,58.0 C85.8,54.2 87.2,51.3 89.0,49.0 C90.8,46.7 92.8,44.2 96.0,44.0 Z" fill="#123008" filter="url(#b2)"/>
<ellipse cx="80" cy="62" rx="9" ry="22" fill="#303a08" filter="url(#b3)" opacity="0.8"/>
<g filter="url(#b05)">
<circle cx="60.3" cy="36.7" r="0.62" fill="#2a6a20" opacity="0.64"/><circle cx="55.5" cy="88.9" r="0.82" fill="#000" opacity="0.66"/><circle cx="53.4" cy="45.7" r="0.67" fill="#000" opacity="0.54"/><circle cx="46.1" cy="68.2" r="0.75" fill="#2a6a20" opacity="0.30"/><circle cx="63.5" cy="89.8" r="0.99" fill="#2a6a20" opacity="0.58"/><circle cx="38.6" cy="82.2" r="0.71" fill="#2a6a20" opacity="0.53"/><circle cx="55.4" cy="39.7" r="0.68" fill="#000" opacity="0.39"/><circle cx="35.5" cy="77.1" r="0.56" fill="#000" opacity="0.86"/><circle cx="57.2" cy="48.1" r="0.78" fill="#58b848" opacity="0.51"/><circle cx="58.1" cy="74.3" r="0.95" fill="#78d068" opacity="0.66"/><circle cx="60.1" cy="51.9" r="0.55" fill="#000" opacity="0.43"/><circle cx="70.7" cy="53.7" r="0.60" fill="#2a6a20" opacity="0.49"/><circle cx="30.2" cy="51.9" r="0.56" fill="#000" opacity="0.38"/><circle cx="39.5" cy="37.5" r="0.94" fill="#58b848" opacity="0.79"/><circle cx="59.6" cy="47.9" r="0.91" fill="#58b848" opacity="0.62"/><circle cx="27.0" cy="65.2" r="0.56" fill="#78d068" opacity="0.80"/><circle cx="60.7" cy="89.1" r="0.69" fill="#2a6a20" opacity="0.60"/><circle cx="39.3" cy="40.3" r="0.54" fill="#78d068" opacity="0.41"/><circle cx="52.1" cy="34.1" r="0.65" fill="#58b848" opacity="0.39"/><circle cx="51.7" cy="38.3" r="0.94" fill="#78d068" opacity="0.38"/><circle cx="43.0" cy="98.2" r="0.82" fill="#58b848" opacity="0.32"/><circle cx="65.2" cy="53.1" r="0.90" fill="#58b848" opacity="0.72"/><circle cx="67.2" cy="67.8" r="0.52" fill="#000" opacity="0.38"/><circle cx="49.3" cy="97.1" r="0.78" fill="#000" opacity="0.75"/><circle cx="57.5" cy="81.9" r="0.63" fill="#58b848" opacity="0.73"/><circle cx="51.1" cy="38.7" r="0.86" fill="#78d068" opacity="0.76"/><circle cx="46.3" cy="74.0" r="0.55" fill="#000" opacity="0.85"/><circle cx="53.9" cy="102.0" r="0.74" fill="#000" opacity="0.77"/><circle cx="34.8" cy="46.8" r="0.79" fill="#000" opacity="0.47"/><circle cx="40.2" cy="74.0" r="0.63" fill="#58b848" opacity="0.43"/><circle cx="41.9" cy="86.3" r="0.58" fill="#2a6a20" opacity="0.34"/><circle cx="56.3" cy="75.1" r="0.59" fill="#000" opacity="0.83"/><circle cx="56.5" cy="68.1" r="0.87" fill="#000" opacity="0.37"/><circle cx="60.4" cy="41.8" r="0.88" fill="#000" opacity="0.83"/><circle cx="55.3" cy="97.9" r="0.64" fill="#78d068" opacity="0.83"/><circle cx="34.9" cy="78.0" r="0.77" fill="#000" opacity="0.71"/><circle cx="58.7" cy="76.4" r="0.56" fill="#78d068" opacity="0.86"/><circle cx="58.5" cy="78.3" r="0.68" fill="#78d068" opacity="0.60"/><circle cx="50.2" cy="48.0" r="0.75" fill="#58b848" opacity="0.75"/><circle cx="46.1" cy="54.1" r="0.62" fill="#000" opacity="0.62"/><circle cx="39.9" cy="56.1" r="0.61" fill="#2a6a20" opacity="0.74"/><circle cx="47.1" cy="41.0" r="0.88" fill="#78d068" opacity="0.37"/><circle cx="47.5" cy="61.5" r="0.50" fill="#78d068" opacity="0.63"/><circle cx="68.9" cy="46.3" r="0.99" fill="#78d068" opacity="0.78"/><circle cx="54.3" cy="55.7" r="0.63" fill="#78d068" opacity="0.71"/><circle cx="67.3" cy="83.0" r="0.62" fill="#78d068" opacity="0.50"/><circle cx="58.9" cy="64.8" r="0.53" fill="#78d068" opacity="0.49"/><circle cx="35.4" cy="38.2" r="0.66" fill="#2a6a20" opacity="0.72"/><circle cx="51.9" cy="37.1" r="0.74" fill="#58b848" opacity="0.82"/><circle cx="41.7" cy="41.4" r="0.59" fill="#000" opacity="0.89"/><circle cx="45.3" cy="82.8" r="0.73" fill="#78d068" opacity="0.65"/><circle cx="40.8" cy="94.7" r="0.84" fill="#58b848" opacity="0.35"/><circle cx="44.7" cy="84.6" r="0.52" fill="#78d068" opacity="0.88"/><circle cx="41.3" cy="42.0" r="0.58" fill="#000" opacity="0.79"/><circle cx="55.4" cy="35.3" r="0.92" fill="#2a6a20" opacity="0.70"/><circle cx="41.7" cy="90.1" r="0.99" fill="#2a6a20" opacity="0.37"/><circle cx="44.3" cy="40.7" r="0.54" fill="#2a6a20" opacity="0.39"/><circle cx="42.2" cy="69.3" r="0.94" fill="#000" opacity="0.34"/><circle cx="38.0" cy="89.7" r="0.87" fill="#2a6a20" opacity="0.55"/><circle cx="43.7" cy="87.1" r="0.81" fill="#58b848" opacity="0.74"/><circle cx="40.2" cy="32.3" r="0.74" fill="#2a6a20" opacity="0.76"/><circle cx="46.7" cy="93.2" r="0.78" fill="#2a6a20" opacity="0.57"/><circle cx="53.1" cy="52.8" r="0.56" fill="#78d068" opacity="0.30"/><circle cx="32.8" cy="45.1" r="0.84" fill="#2a6a20" opacity="0.59"/><circle cx="42.1" cy="37.2" r="0.63" fill="#2a6a20" opacity="0.60"/><circle cx="50.5" cy="32.7" r="0.71" fill="#2a6a20" opacity="0.90"/><circle cx="35.3" cy="81.4" r="0.82" fill="#78d068" opacity="0.45"/><circle cx="54.4" cy="54.8" r="0.77" fill="#2a6a20" opacity="0.88"/><circle cx="52.6" cy="58.8" r="0.76" fill="#78d068" opacity="0.78"/><circle cx="70.5" cy="43.3" r="0.93" fill="#2a6a20" opacity="0.31"/><circle cx="67.6" cy="42.8" r="0.76" fill="#000" opacity="0.39"/><circle cx="61.5" cy="61.1" r="0.58" fill="#000" opacity="0.60"/><circle cx="31.7" cy="60.5" r="0.82" fill="#58b848" opacity="0.74"/><circle cx="53.1" cy="39.5" r="0.74" fill="#78d068" opacity="0.81"/><circle cx="52.2" cy="73.9" r="0.96" fill="#78d068" opacity="0.60"/><circle cx="66.5" cy="48.7" r="0.73" fill="#58b848" opacity="0.90"/><circle cx="61.7" cy="64.3" r="0.61" fill="#000" opacity="0.64"/><circle cx="63.2" cy="83.6" r="0.58" fill="#78d068" opacity="0.73"/><circle cx="64.0" cy="87.1" r="0.85" fill="#2a6a20" opacity="0.45"/><circle cx="71.6" cy="65.3" r="0.59" fill="#2a6a20" opacity="0.67"/><circle cx="32.5" cy="67.4" r="0.78" fill="#2a6a20" opacity="0.49"/><circle cx="53.0" cy="68.9" r="0.58" fill="#2a6a20" opacity="0.79"/><circle cx="64.7" cy="35.0" r="0.62" fill="#000" opacity="0.78"/><circle cx="56.5" cy="99.8" r="0.71" fill="#78d068" opacity="0.52"/><circle cx="32.7" cy="65.7" r="0.91" fill="#78d068" opacity="0.49"/><circle cx="61.4" cy="73.7" r="0.51" fill="#2a6a20" opacity="0.82"/><circle cx="58.0" cy="93.5" r="0.82" fill="#58b848" opacity="0.63"/><circle cx="52.9" cy="64.0" r="0.91" fill="#000" opacity="0.70"/><circle cx="58.4" cy="29.3" r="0.81" fill="#2a6a20" opacity="0.60"/><circle cx="47.1" cy="29.5" r="0.92" fill="#58b848" opacity="0.35"/><circle cx="54.0" cy="68.8" r="0.77" fill="#000" opacity="0.88"/><circle cx="47.2" cy="43.5" r="0.77" fill="#000" opacity="0.69"/><circle cx="68.3" cy="42.4" r="0.65" fill="#2a6a20" opacity="0.79"/><circle cx="59.3" cy="64.0" r="0.58" fill="#000" opacity="0.46"/><circle cx="42.8" cy="65.5" r="0.52" fill="#000" opacity="0.67"/><circle cx="40.7" cy="48.0" r="0.51" fill="#2a6a20" opacity="0.40"/><circle cx="38.7" cy="71.0" r="0.83" fill="#000" opacity="0.75"/><circle cx="43.2" cy="87.0" r="0.79" fill="#2a6a20" opacity="0.66"/><circle cx="52.8" cy="44.2" r="0.74" fill="#58b848" opacity="0.79"/><circle cx="55.1" cy="46.9" r="0.65" fill="#2a6a20" opacity="0.56"/><circle cx="55.0" cy="30.8" r="0.87" fill="#58b848" opacity="0.42"/><circle cx="65.6" cy="88.5" r="0.54" fill="#78d068" opacity="0.57"/><circle cx="58.8" cy="47.0" r="0.81" fill="#000" opacity="0.82"/><circle cx="62.6" cy="35.5" r="0.88" fill="#58b848" opacity="0.73"/><circle cx="64.0" cy="52.8" r="0.66" fill="#58b848" opacity="0.34"/><circle cx="68.5" cy="68.3" r="0.55" fill="#000" opacity="0.41"/><circle cx="47.0" cy="83.4" r="0.88" fill="#78d068" opacity="0.74"/><circle cx="36.2" cy="82.2" r="0.60" fill="#58b848" opacity="0.45"/><circle cx="51.8" cy="80.4" r="0.99" fill="#58b848" opacity="0.39"/><circle cx="45.8" cy="52.8" r="0.60" fill="#58b848" opacity="0.32"/><circle cx="43.5" cy="82.7" r="0.53" fill="#78d068" opacity="0.73"/><circle cx="63.9" cy="80.8" r="0.89" fill="#000" opacity="0.65"/><circle cx="44.6" cy="91.1" r="0.53" fill="#2a6a20" opacity="0.85"/><circle cx="64.7" cy="46.4" r="0.69" fill="#000" opacity="0.53"/><circle cx="48.2" cy="38.8" r="0.58" fill="#58b848" opacity="0.71"/><circle cx="28.6" cy="49.8" r="0.92" fill="#2a6a20" opacity="0.36"/><circle cx="51.1" cy="42.4" r="0.75" fill="#78d068" opacity="0.83"/><circle cx="55.1" cy="48.6" r="0.86" fill="#78d068" opacity="0.65"/><circle cx="46.7" cy="36.0" r="0.70" fill="#000" opacity="0.88"/><circle cx="69.5" cy="72.2" r="0.75" fill="#2a6a20" opacity="0.75"/><circle cx="28.1" cy="65.8" r="0.53" fill="#78d068" opacity="0.60"/><circle cx="57.5" cy="62.0" r="0.96" fill="#78d068" opacity="0.48"/><circle cx="40.5" cy="33.5" r="0.68" fill="#2a6a20" opacity="0.63"/><circle cx="70.6" cy="75.5" r="0.82" fill="#000" opacity="0.77"/><circle cx="54.8" cy="60.2" r="0.82" fill="#2a6a20" opacity="0.41"/><circle cx="57.0" cy="80.5" r="0.73" fill="#000" opacity="0.34"/><circle cx="33.3" cy="84.5" r="0.67" fill="#000" opacity="0.65"/><circle cx="42.4" cy="76.0" r="0.99" fill="#000" opacity="0.59"/><circle cx="61.6" cy="48.4" r="0.59" fill="#78d068" opacity="0.48"/><circle cx="43.0" cy="89.8" r="0.68" fill="#000" opacity="0.59"/><circle cx="69.2" cy="37.9" r="0.70" fill="#58b848" opacity="0.58"/><circle cx="68.3" cy="62.5" r="0.63" fill="#000" opacity="0.42"/><circle cx="54.3" cy="61.0" r="0.68" fill="#58b848" opacity="0.80"/><circle cx="59.1" cy="36.3" r="0.82" fill="#58b848" opacity="0.59"/><circle cx="46.8" cy="77.6" r="0.60" fill="#78d068" opacity="0.89"/><circle cx="51.2" cy="61.0" r="0.89" fill="#78d068" opacity="0.60"/><circle cx="40.6" cy="81.3" r="0.57" fill="#2a6a20" opacity="0.48"/><circle cx="38.8" cy="66.0" r="0.83" fill="#2a6a20" opacity="0.66"/><circle cx="53.2" cy="74.0" r="0.69" fill="#78d068" opacity="0.84"/><circle cx="55.6" cy="101.3" r="0.95" fill="#2a6a20" opacity="0.64"/><circle cx="67.2" cy="78.3" r="0.50" fill="#78d068" opacity="0.77"/><circle cx="56.4" cy="92.4" r="0.98" fill="#58b848" opacity="0.57"/><circle cx="45.5" cy="75.4" r="0.65" fill="#58b848" opacity="0.39"/><circle cx="30.2" cy="64.7" r="0.58" fill="#78d068" opacity="0.42"/><circle cx="33.5" cy="55.2" r="0.73" fill="#78d068" opacity="0.37"/><circle cx="46.4" cy="30.7" r="0.50" fill="#78d068" opacity="0.69"/><circle cx="30.9" cy="66.0" r="0.92" fill="#58b848" opacity="0.77"/><circle cx="29.9" cy="52.7" r="0.51" fill="#78d068" opacity="0.48"/><circle cx="70.9" cy="42.6" r="0.68" fill="#58b848" opacity="0.71"/><circle cx="41.0" cy="58.8" r="0.61" fill="#58b848" opacity="0.45"/><circle cx="61.6" cy="96.9" r="0.54" fill="#000" opacity="0.80"/><circle cx="44.4" cy="83.6" r="0.51" fill="#78d068" opacity="0.57"/><circle cx="48.1" cy="82.4" r="0.79" fill="#58b848" opacity="0.78"/><circle cx="57.9" cy="65.2" r="0.70" fill="#58b848" opacity="0.68"/><circle cx="32.4" cy="47.7" r="0.79" fill="#000" opacity="0.47"/><circle cx="44.1" cy="77.7" r="0.81" fill="#000" opacity="0.55"/><circle cx="54.6" cy="36.5" r="0.97" fill="#58b848" opacity="0.57"/><circle cx="46.8" cy="53.7" r="1.00" fill="#000" opacity="0.70"/><circle cx="47.5" cy="78.9" r="0.84" fill="#2a6a20" opacity="0.83"/><circle cx="52.2" cy="94.9" r="0.73" fill="#78d068" opacity="0.43"/><circle cx="61.7" cy="56.1" r="0.54" fill="#58b848" opacity="0.86"/><circle cx="36.1" cy="90.9" r="0.58" fill="#78d068" opacity="0.70"/><circle cx="67.5" cy="72.1" r="0.62" fill="#000" opacity="0.45"/><circle cx="50.6" cy="90.5" r="0.89" fill="#58b848" opacity="0.49"/><circle cx="41.3" cy="95.4" r="0.83" fill="#78d068" opacity="0.84"/><circle cx="49.3" cy="56.8" r="0.60" fill="#000" opacity="0.85"/><circle cx="49.1" cy="32.3" r="0.62" fill="#78d068" opacity="0.33"/><circle cx="48.1" cy="41.2" r="0.97" fill="#2a6a20" opacity="0.87"/><circle cx="44.5" cy="76.7" r="0.51" fill="#58b848" opacity="0.66"/><circle cx="61.2" cy="56.2" r="0.74" fill="#78d068" opacity="0.78"/><circle cx="54.4" cy="76.9" r="0.61" fill="#58b848" opacity="0.49"/><circle cx="65.8" cy="63.8" r="0.86" fill="#58b848" opacity="0.51"/><circle cx="69.3" cy="71.5" r="0.56" fill="#58b848" opacity="0.87"/><circle cx="49.3" cy="78.0" r="0.53" fill="#2a6a20" opacity="0.34"/><circle cx="46.4" cy="78.6" r="0.76" fill="#000" opacity="0.72"/><circle cx="57.3" cy="30.5" r="0.66" fill="#78d068" opacity="0.42"/><circle cx="66.9" cy="74.9" r="0.90" fill="#000" opacity="0.71"/><circle cx="59.2" cy="50.9" r="0.64" fill="#2a6a20" opacity="0.74"/><circle cx="29.7" cy="75.3" r="0.94" fill="#2a6a20" opacity="0.41"/><circle cx="55.7" cy="80.2" r="0.85" fill="#2a6a20" opacity="0.80"/><circle cx="51.9" cy="66.5" r="0.85" fill="#000" opacity="0.33"/><circle cx="31.4" cy="63.3" r="0.80" fill="#2a6a20" opacity="0.51"/><circle cx="51.3" cy="58.6" r="0.50" fill="#58b848" opacity="0.57"/><circle cx="34.3" cy="85.0" r="0.76" fill="#000" opacity="0.72"/><circle cx="58.1" cy="51.8" r="0.67" fill="#58b848" opacity="0.56"/><circle cx="38.7" cy="51.7" r="0.83" fill="#000" opacity="0.66"/><circle cx="39.1" cy="52.4" r="0.73" fill="#2a6a20" opacity="0.50"/><circle cx="28.0" cy="59.8" r="0.65" fill="#58b848" opacity="0.72"/><circle cx="67.5" cy="65.4" r="0.58" fill="#78d068" opacity="0.53"/><circle cx="47.7" cy="44.3" r="0.89" fill="#78d068" opacity="0.59"/><circle cx="49.7" cy="74.5" r="0.86" fill="#58b848" opacity="0.45"/><circle cx="37.3" cy="43.6" r="0.91" fill="#2a6a20" opacity="0.37"/><circle cx="70.8" cy="45.3" r="0.85" fill="#000" opacity="0.61"/><circle cx="55.1" cy="89.2" r="0.76" fill="#000" opacity="0.54"/><circle cx="40.7" cy="89.8" r="0.58" fill="#78d068" opacity="0.65"/><circle cx="54.7" cy="67.4" r="0.99" fill="#000" opacity="0.34"/><circle cx="44.4" cy="76.4" r="0.84" fill="#2a6a20" opacity="0.79"/><circle cx="42.2" cy="89.2" r="0.80" fill="#2a6a20" opacity="0.77"/><circle cx="60.5" cy="60.6" r="0.89" fill="#000" opacity="0.39"/><circle cx="32.9" cy="52.5" r="0.83" fill="#58b848" opacity="0.68"/><circle cx="43.4" cy="42.1" r="0.80" fill="#58b848" opacity="0.73"/><circle cx="55.1" cy="98.8" r="0.86" fill="#78d068" opacity="0.51"/><circle cx="49.7" cy="48.9" r="0.75" fill="#000" opacity="0.88"/><circle cx="44.7" cy="95.3" r="0.97" fill="#2a6a20" opacity="0.52"/><circle cx="57.1" cy="87.0" r="0.67" fill="#000" opacity="0.82"/><circle cx="29.7" cy="75.5" r="0.78" fill="#2a6a20" opacity="0.47"/><circle cx="29.4" cy="79.4" r="0.63" fill="#78d068" opacity="0.67"/><circle cx="59.1" cy="57.7" r="0.87" fill="#000" opacity="0.32"/><circle cx="45.0" cy="100.1" r="0.96" fill="#2a6a20" opacity="0.66"/><circle cx="65.6" cy="45.2" r="0.68" fill="#58b848" opacity="0.52"/><circle cx="35.5" cy="50.3" r="0.64" fill="#58b848" opacity="0.45"/><circle cx="64.5" cy="38.8" r="0.72" fill="#78d068" opacity="0.71"/><circle cx="47.1" cy="58.5" r="0.96" fill="#78d068" opacity="0.66"/><circle cx="43.8" cy="98.5" r="0.59" fill="#58b848" opacity="0.34"/><circle cx="48.4" cy="51.7" r="0.83" fill="#78d068" opacity="0.67"/><circle cx="65.3" cy="56.5" r="0.90" fill="#78d068" opacity="0.65"/><circle cx="68.5" cy="61.3" r="0.53" fill="#78d068" opacity="0.33"/><circle cx="31.5" cy="68.6" r="0.58" fill="#2a6a20" opacity="0.73"/><circle cx="65.2" cy="41.6" r="0.85" fill="#58b848" opacity="0.69"/><circle cx="42.8" cy="90.4" r="0.89" fill="#2a6a20" opacity="0.58"/><circle cx="56.4" cy="55.5" r="0.84" fill="#78d068" opacity="0.66"/><circle cx="52.5" cy="34.4" r="0.89" fill="#000" opacity="0.56"/><circle cx="42.3" cy="73.6" r="0.75" fill="#000" opacity="0.62"/><circle cx="67.8" cy="70.3" r="0.85" fill="#2a6a20" opacity="0.48"/><circle cx="27.6" cy="63.8" r="0.68" fill="#58b848" opacity="0.33"/><circle cx="40.1" cy="59.1" r="0.87" fill="#2a6a20" opacity="0.44"/><circle cx="64.7" cy="61.4" r="0.53" fill="#000" opacity="0.67"/><circle cx="63.9" cy="80.2" r="0.88" fill="#000" opacity="0.79"/><circle cx="44.5" cy="79.2" r="0.56" fill="#2a6a20" opacity="0.88"/><circle cx="70.9" cy="66.2" r="0.78" fill="#78d068" opacity="0.66"/><circle cx="48.0" cy="87.7" r="0.86" fill="#000" opacity="0.61"/><circle cx="55.0" cy="87.4" r="0.61" fill="#58b848" opacity="0.33"/><circle cx="43.8" cy="95.5" r="0.53" fill="#2a6a20" opacity="0.68"/><circle cx="33.4" cy="70.6" r="0.83" fill="#000" opacity="0.45"/><circle cx="53.4" cy="51.8" r="0.91" fill="#000" opacity="0.66"/><circle cx="37.1" cy="53.3" r="0.62" fill="#2a6a20" opacity="0.47"/><circle cx="52.7" cy="49.7" r="0.56" fill="#2a6a20" opacity="0.46"/><circle cx="38.4" cy="83.3" r="0.95" fill="#2a6a20" opacity="0.63"/><circle cx="46.9" cy="35.1" r="0.98" fill="#58b848" opacity="0.32"/><circle cx="56.9" cy="50.0" r="0.71" fill="#000" opacity="0.86"/><circle cx="58.0" cy="62.0" r="0.81" fill="#2a6a20" opacity="0.66"/><circle cx="35.8" cy="58.7" r="0.66" fill="#000" opacity="0.65"/><circle cx="45.8" cy="67.1" r="0.54" fill="#2a6a20" opacity="0.56"/><circle cx="41.9" cy="93.2" r="0.65" fill="#2a6a20" opacity="0.55"/><circle cx="30.9" cy="72.2" r="0.64" fill="#78d068" opacity="0.35"/><circle cx="26.6" cy="64.2" r="0.98" fill="#000" opacity="0.70"/><circle cx="40.4" cy="38.0" r="0.79" fill="#78d068" opacity="0.35"/><circle cx="55.1" cy="68.6" r="1.00" fill="#2a6a20" opacity="0.88"/><circle cx="48.6" cy="55.1" r="0.96" fill="#000" opacity="0.40"/><circle cx="47.2" cy="98.9" r="0.62" fill="#58b848" opacity="0.38"/><circle cx="43.7" cy="36.3" r="0.64" fill="#000" opacity="0.63"/><circle cx="60.8" cy="37.5" r="0.82" fill="#2a6a20" opacity="0.89"/><circle cx="61.9" cy="51.9" r="0.76" fill="#78d068" opacity="0.31"/><circle cx="51.2" cy="29.8" r="0.77" fill="#78d068" opacity="0.32"/><circle cx="36.5" cy="44.0" r="0.75" fill="#58b848" opacity="0.84"/><circle cx="56.7" cy="96.3" r="0.63" fill="#58b848" opacity="0.50"/><circle cx="31.4" cy="63.0" r="0.54" fill="#78d068" opacity="0.39"/><circle cx="30.9" cy="50.6" r="0.95" fill="#000" opacity="0.55"/><circle cx="61.0" cy="58.2" r="0.79" fill="#78d068" opacity="0.39"/><circle cx="41.9" cy="51.7" r="0.96" fill="#000" opacity="0.58"/><circle cx="61.2" cy="82.8" r="0.83" fill="#58b848" opacity="0.70"/><circle cx="45.4" cy="39.2" r="0.81" fill="#2a6a20" opacity="0.36"/><circle cx="29.1" cy="63.8" r="0.81" fill="#000" opacity="0.77"/><circle cx="45.3" cy="70.3" r="0.89" fill="#78d068" opacity="0.55"/><circle cx="34.7" cy="73.8" r="0.81" fill="#58b848" opacity="0.89"/><circle cx="70.2" cy="42.3" r="0.67" fill="#78d068" opacity="0.74"/><circle cx="38.8" cy="57.6" r="0.56" fill="#58b848" opacity="0.67"/><circle cx="66.4" cy="67.6" r="0.56" fill="#000" opacity="0.81"/><circle cx="45.9" cy="99.9" r="0.93" fill="#000" opacity="0.32"/><circle cx="37.8" cy="51.9" r="0.99" fill="#000" opacity="0.74"/><circle cx="52.3" cy="93.6" r="0.98" fill="#58b848" opacity="0.52"/><circle cx="47.5" cy="59.6" r="0.69" fill="#58b848" opacity="0.34"/><circle cx="60.8" cy="44.9" r="0.97" fill="#78d068" opacity="0.49"/><circle cx="69.4" cy="70.0" r="0.97" fill="#78d068" opacity="0.75"/><circle cx="60.0" cy="64.1" r="0.87" fill="#000" opacity="0.85"/><circle cx="63.3" cy="50.2" r="0.61" fill="#2a6a20" opacity="0.54"/><circle cx="43.2" cy="96.8" r="0.80" fill="#78d068" opacity="0.57"/><circle cx="61.7" cy="91.9" r="0.73" fill="#000" opacity="0.35"/><circle cx="45.6" cy="72.2" r="0.94" fill="#78d068" opacity="0.59"/><circle cx="69.3" cy="77.4" r="0.78" fill="#78d068" opacity="0.35"/><circle cx="39.3" cy="65.5" r="0.91" fill="#78d068" opacity="0.65"/><circle cx="47.9" cy="92.3" r="0.73" fill="#2a6a20" opacity="0.72"/><circle cx="44.6" cy="68.1" r="0.69" fill="#2a6a20" opacity="0.90"/><circle cx="50.3" cy="44.1" r="0.64" fill="#78d068" opacity="0.34"/><circle cx="51.6" cy="99.6" r="0.93" fill="#78d068" opacity="0.87"/><circle cx="54.2" cy="40.0" r="0.62" fill="#78d068" opacity="0.44"/><circle cx="44.6" cy="81.7" r="0.60" fill="#78d068" opacity="0.68"/><circle cx="45.7" cy="64.2" r="0.94" fill="#58b848" opacity="0.31"/><circle cx="62.3" cy="94.9" r="0.77" fill="#58b848" opacity="0.68"/><circle cx="33.8" cy="81.2" r="0.51" fill="#000" opacity="0.60"/><circle cx="52.3" cy="30.8" r="0.99" fill="#2a6a20" opacity="0.36"/><circle cx="46.4" cy="43.4" r="0.99" fill="#000" opacity="0.51"/><circle cx="41.7" cy="67.0" r="0.95" fill="#78d068" opacity="0.48"/><circle cx="45.5" cy="41.2" r="0.55" fill="#000" opacity="0.43"/><circle cx="29.3" cy="77.8" r="0.68" fill="#78d068" opacity="0.43"/><circle cx="53.2" cy="78.1" r="0.97" fill="#2a6a20" opacity="0.43"/><circle cx="46.1" cy="83.8" r="0.66" fill="#2a6a20" opacity="0.30"/><circle cx="30.9" cy="69.3" r="0.73" fill="#000" opacity="0.59"/><circle cx="63.2" cy="46.1" r="0.67" fill="#000" opacity="0.73"/><circle cx="41.4" cy="63.1" r="1.00" fill="#000" opacity="0.83"/><circle cx="44.4" cy="80.9" r="0.60" fill="#58b848" opacity="0.62"/><circle cx="58.4" cy="96.5" r="1.00" fill="#58b848" opacity="0.57"/><circle cx="72.4" cy="62.5" r="1.00" fill="#78d068" opacity="0.38"/><circle cx="47.6" cy="42.5" r="0.83" fill="#78d068" opacity="0.47"/><circle cx="70.2" cy="60.4" r="0.69" fill="#78d068" opacity="0.61"/><circle cx="56.5" cy="78.4" r="0.80" fill="#2a6a20" opacity="0.54"/><circle cx="69.7" cy="46.4" r="0.67" fill="#78d068" opacity="0.59"/><circle cx="40.1" cy="73.2" r="0.52" fill="#000" opacity="0.47"/><circle cx="63.6" cy="47.6" r="0.91" fill="#000" opacity="0.59"/><circle cx="56.1" cy="102.2" r="0.55" fill="#78d068" opacity="0.80"/><circle cx="33.6" cy="47.3" r="0.62" fill="#000" opacity="0.61"/><circle cx="52.4" cy="80.6" r="0.88" fill="#000" opacity="0.30"/><circle cx="55.7" cy="29.7" r="0.68" fill="#2a6a20" opacity="0.58"/><circle cx="52.2" cy="47.3" r="0.97" fill="#2a6a20" opacity="0.43"/><circle cx="27.5" cy="65.0" r="0.96" fill="#2a6a20" opacity="0.47"/><circle cx="26.5" cy="66.3" r="0.92" fill="#2a6a20" opacity="0.52"/><circle cx="51.4" cy="75.0" r="0.67" fill="#000" opacity="0.53"/><circle cx="52.6" cy="51.0" r="0.68" fill="#000" opacity="0.79"/><circle cx="41.8" cy="39.1" r="0.83" fill="#78d068" opacity="0.70"/><circle cx="29.6" cy="68.2" r="0.99" fill="#58b848" opacity="0.87"/><circle cx="64.6" cy="56.8" r="0.77" fill="#58b848" opacity="0.63"/><circle cx="59.8" cy="75.3" r="0.74" fill="#2a6a20" opacity="0.38"/><circle cx="45.8" cy="92.9" r="0.78" fill="#78d068" opacity="0.84"/><circle cx="41.9" cy="49.5" r="0.71" fill="#000" opacity="0.35"/><circle cx="55.1" cy="48.1" r="0.71" fill="#000" opacity="0.55"/><circle cx="50.3" cy="51.1" r="0.97" fill="#58b848" opacity="0.85"/><circle cx="59.1" cy="56.1" r="0.76" fill="#2a6a20" opacity="0.36"/><circle cx="32.8" cy="63.2" r="0.51" fill="#000" opacity="0.55"/><circle cx="39.2" cy="47.3" r="0.66" fill="#58b848" opacity="0.73"/><circle cx="46.9" cy="83.1" r="0.79" fill="#000" opacity="0.76"/><circle cx="42.5" cy="39.7" r="0.85" fill="#78d068" opacity="0.59"/><circle cx="63.7" cy="94.0" r="0.82" fill="#58b848" opacity="0.67"/><circle cx="46.8" cy="66.2" r="0.67" fill="#58b848" opacity="0.63"/><circle cx="60.5" cy="91.1" r="0.85" fill="#000" opacity="0.57"/><circle cx="60.5" cy="96.2" r="0.74" fill="#2a6a20" opacity="0.32"/><circle cx="52.3" cy="61.0" r="0.65" fill="#2a6a20" opacity="0.78"/><circle cx="51.0" cy="94.8" r="0.57" fill="#2a6a20" opacity="0.54"/><circle cx="33.8" cy="80.7" r="0.84" fill="#2a6a20" opacity="0.48"/><circle cx="63.6" cy="80.7" r="0.85" fill="#58b848" opacity="0.32"/><circle cx="37.4" cy="51.3" r="0.75" fill="#58b848" opacity="0.63"/><circle cx="53.1" cy="83.0" r="0.90" fill="#58b848" opacity="0.31"/><circle cx="52.8" cy="64.3" r="0.64" fill="#2a6a20" opacity="0.48"/><circle cx="51.5" cy="68.6" r="0.70" fill="#2a6a20" opacity="0.54"/><circle cx="65.6" cy="67.0" r="0.67" fill="#58b848" opacity="0.31"/><circle cx="55.5" cy="86.1" r="0.75" fill="#000" opacity="0.32"/><circle cx="55.0" cy="57.3" r="0.81" fill="#58b848" opacity="0.82"/><circle cx="65.1" cy="58.5" r="0.89" fill="#78d068" opacity="0.69"/><circle cx="37.2" cy="87.4" r="0.82" fill="#2a6a20" opacity="0.71"/><circle cx="37.3" cy="87.6" r="0.76" fill="#78d068" opacity="0.40"/><circle cx="62.1" cy="50.4" r="0.64" fill="#2a6a20" opacity="0.35"/><circle cx="36.9" cy="53.2" r="0.60" fill="#000" opacity="0.42"/><circle cx="69.1" cy="68.1" r="0.82" fill="#78d068" opacity="0.72"/><circle cx="37.4" cy="55.2" r="0.77" fill="#58b848" opacity="0.60"/><circle cx="67.7" cy="36.8" r="0.86" fill="#2a6a20" opacity="0.66"/><circle cx="39.9" cy="34.8" r="0.60" fill="#78d068" opacity="0.38"/><circle cx="47.6" cy="74.5" r="0.84" fill="#78d068" opacity="0.53"/><circle cx="58.1" cy="46.4" r="0.82" fill="#58b848" opacity="0.52"/><circle cx="62.1" cy="52.0" r="0.91" fill="#58b848" opacity="0.86"/><circle cx="44.7" cy="46.1" r="0.56" fill="#2a6a20" opacity="0.90"/><circle cx="59.3" cy="77.8" r="0.96" fill="#78d068" opacity="0.58"/><circle cx="47.1" cy="38.5" r="0.92" fill="#78d068" opacity="0.43"/><circle cx="66.3" cy="79.5" r="0.75" fill="#58b848" opacity="0.51"/><circle cx="51.2" cy="45.7" r="0.67" fill="#58b848" opacity="0.88"/><circle cx="64.6" cy="71.7" r="0.80" fill="#78d068" opacity="0.40"/><circle cx="37.0" cy="56.2" r="0.81" fill="#78d068" opacity="0.67"/><circle cx="29.6" cy="63.7" r="0.78" fill="#78d068" opacity="0.34"/><circle cx="55.1" cy="41.9" r="0.61" fill="#2a6a20" opacity="0.77"/><circle cx="66.3" cy="51.5" r="0.88" fill="#000" opacity="0.65"/><circle cx="53.7" cy="84.1" r="0.64" fill="#58b848" opacity="0.86"/><circle cx="58.0" cy="68.5" r="0.67" fill="#58b848" opacity="0.61"/><circle cx="42.2" cy="51.8" r="0.72" fill="#58b848" opacity="0.73"/><circle cx="30.8" cy="58.6" r="0.80" fill="#000" opacity="0.75"/><circle cx="29.2" cy="77.8" r="0.56" fill="#000" opacity="0.39"/><circle cx="50.3" cy="79.6" r="0.90" fill="#000" opacity="0.36"/><circle cx="37.4" cy="87.9" r="0.65" fill="#2a6a20" opacity="0.68"/><circle cx="37.5" cy="42.3" r="1.00" fill="#2a6a20" opacity="0.49"/><circle cx="36.4" cy="87.3" r="0.56" fill="#2a6a20" opacity="0.64"/><circle cx="53.5" cy="94.4" r="0.52" fill="#78d068" opacity="0.61"/><circle cx="52.9" cy="50.9" r="0.59" fill="#78d068" opacity="0.79"/><circle cx="49.2" cy="67.8" r="0.92" fill="#2a6a20" opacity="0.88"/><circle cx="43.6" cy="75.1" r="0.83" fill="#000" opacity="0.52"/><circle cx="55.5" cy="33.1" r="0.95" fill="#78d068" opacity="0.89"/><circle cx="68.7" cy="41.7" r="0.71" fill="#78d068" opacity="0.40"/><circle cx="44.4" cy="98.6" r="0.86" fill="#58b848" opacity="0.66"/><circle cx="63.1" cy="54.3" r="0.63" fill="#58b848" opacity="0.64"/><circle cx="56.8" cy="53.2" r="0.88" fill="#2a6a20" opacity="0.70"/><circle cx="49.7" cy="81.8" r="0.62" fill="#78d068" opacity="0.54"/><circle cx="65.4" cy="56.6" r="0.94" fill="#78d068" opacity="0.68"/><circle cx="53.2" cy="97.7" r="0.84" fill="#58b848" opacity="0.86"/><circle cx="48.2" cy="36.1" r="0.50" fill="#000" opacity="0.71"/><circle cx="56.1" cy="38.9" r="0.94" fill="#58b848" opacity="0.41"/><circle cx="59.7" cy="86.9" r="0.94" fill="#2a6a20" opacity="0.71"/><circle cx="63.7" cy="92.1" r="0.77" fill="#000" opacity="0.78"/><circle cx="62.1" cy="52.4" r="0.79" fill="#78d068" opacity="0.45"/><circle cx="55.7" cy="36.8" r="0.72" fill="#78d068" opacity="0.38"/><circle cx="39.1" cy="57.9" r="0.87" fill="#000" opacity="0.65"/><circle cx="49.7" cy="78.0" r="0.91" fill="#78d068" opacity="0.55"/><circle cx="41.0" cy="50.0" r="0.95" fill="#58b848" opacity="0.77"/><circle cx="72.6" cy="61.3" r="0.59" fill="#78d068" opacity="0.55"/><circle cx="56.0" cy="67.9" r="0.86" fill="#2a6a20" opacity="0.59"/><circle cx="56.9" cy="41.6" r="0.69" fill="#000" opacity="0.68"/><circle cx="65.8" cy="61.3" r="0.81" fill="#2a6a20" opacity="0.64"/><circle cx="72.8" cy="52.5" r="0.89" fill="#58b848" opacity="0.68"/><circle cx="44.1" cy="61.7" r="0.79" fill="#78d068" opacity="0.89"/><circle cx="50.8" cy="79.7" r="0.89" fill="#000" opacity="0.44"/><circle cx="36.6" cy="67.1" r="0.79" fill="#58b848" opacity="0.39"/><circle cx="58.5" cy="84.1" r="0.60" fill="#78d068" opacity="0.73"/><circle cx="53.6" cy="55.5" r="0.76" fill="#000" opacity="0.50"/><circle cx="50.1" cy="61.9" r="0.99" fill="#78d068" opacity="0.39"/><circle cx="33.9" cy="50.8" r="0.78" fill="#58b848" opacity="0.75"/><circle cx="46.5" cy="67.4" r="0.78" fill="#78d068" opacity="0.80"/><circle cx="69.8" cy="71.3" r="0.67" fill="#78d068" opacity="0.33"/><circle cx="61.1" cy="55.2" r="0.98" fill="#58b848" opacity="0.53"/><circle cx="64.8" cy="75.6" r="0.50" fill="#2a6a20" opacity="0.63"/><circle cx="57.9" cy="83.8" r="0.87" fill="#2a6a20" opacity="0.37"/><circle cx="31.4" cy="45.1" r="0.69" fill="#2a6a20" opacity="0.32"/><circle cx="58.1" cy="81.4" r="0.92" fill="#58b848" opacity="0.63"/><circle cx="44.8" cy="66.3" r="0.61" fill="#78d068" opacity="0.88"/><circle cx="32.6" cy="67.5" r="0.96" fill="#2a6a20" opacity="0.55"/><circle cx="32.6" cy="64.9" r="0.68" fill="#58b848" opacity="0.51"/><circle cx="57.9" cy="101.3" r="0.79" fill="#58b848" opacity="0.60"/><circle cx="54.0" cy="52.7" r="0.91" fill="#58b848" opacity="0.44"/><circle cx="54.8" cy="87.9" r="0.75" fill="#2a6a20" opacity="0.86"/><circle cx="34.1" cy="81.8" r="0.75" fill="#000" opacity="0.54"/><circle cx="42.4" cy="64.2" r="0.56" fill="#58b848" opacity="0.41"/><circle cx="47.2" cy="37.9" r="0.60" fill="#2a6a20" opacity="0.51"/><circle cx="38.3" cy="76.9" r="0.89" fill="#2a6a20" opacity="0.30"/><circle cx="47.4" cy="82.1" r="0.90" fill="#58b848" opacity="0.31"/><circle cx="51.2" cy="57.3" r="0.72" fill="#000" opacity="0.73"/><circle cx="60.3" cy="45.1" r="0.98" fill="#78d068" opacity="0.36"/><circle cx="44.2" cy="42.7" r="0.89" fill="#78d068" opacity="0.73"/><circle cx="55.8" cy="68.7" r="0.69" fill="#2a6a20" opacity="0.79"/><circle cx="48.4" cy="98.0" r="0.81" fill="#2a6a20" opacity="0.54"/><circle cx="45.0" cy="91.5" r="0.90" fill="#000" opacity="0.56"/><circle cx="62.1" cy="33.6" r="0.63" fill="#78d068" opacity="0.44"/><circle cx="63.0" cy="76.0" r="0.70" fill="#58b848" opacity="0.82"/><circle cx="34.8" cy="76.4" r="0.58" fill="#78d068" opacity="0.87"/><circle cx="59.2" cy="31.2" r="0.58" fill="#000" opacity="0.44"/><circle cx="51.8" cy="100.9" r="0.96" fill="#78d068" opacity="0.55"/><circle cx="47.6" cy="42.1" r="0.68" fill="#2a6a20" opacity="0.72"/><circle cx="56.4" cy="45.9" r="0.50" fill="#2a6a20" opacity="0.65"/><circle cx="62.9" cy="85.1" r="0.68" fill="#2a6a20" opacity="0.49"/><circle cx="52.9" cy="101.4" r="0.67" fill="#58b848" opacity="0.83"/><circle cx="49.2" cy="81.5" r="1.00" fill="#2a6a20" opacity="0.69"/><circle cx="39.4" cy="43.3" r="0.74" fill="#000" opacity="0.64"/><circle cx="72.3" cy="54.2" r="0.57" fill="#78d068" opacity="0.50"/><circle cx="45.4" cy="97.1" r="0.87" fill="#2a6a20" opacity="0.78"/><circle cx="46.6" cy="54.7" r="0.76" fill="#78d068" opacity="0.70"/><circle cx="36.3" cy="86.9" r="0.78" fill="#000" opacity="0.62"/><circle cx="61.8" cy="56.2" r="0.94" fill="#78d068" opacity="0.72"/><circle cx="29.1" cy="66.3" r="0.88" fill="#000" opacity="0.64"/><circle cx="66.3" cy="78.7" r="0.99" fill="#000" opacity="0.74"/><circle cx="51.2" cy="78.1" r="0.90" fill="#2a6a20" opacity="0.61"/><circle cx="54.1" cy="66.6" r="0.92" fill="#000" opacity="0.59"/><circle cx="44.6" cy="31.5" r="0.77" fill="#000" opacity="0.65"/><circle cx="46.2" cy="79.0" r="0.78" fill="#2a6a20" opacity="0.36"/><circle cx="39.2" cy="85.1" r="0.66" fill="#58b848" opacity="0.70"/><circle cx="38.3" cy="54.7" r="0.68" fill="#000" opacity="0.87"/><circle cx="53.4" cy="31.6" r="0.83" fill="#2a6a20" opacity="0.39"/><circle cx="70.2" cy="70.8" r="0.64" fill="#000" opacity="0.71"/><circle cx="73.3" cy="56.3" r="0.75" fill="#2a6a20" opacity="0.51"/><circle cx="38.7" cy="78.4" r="0.66" fill="#000" opacity="0.80"/><circle cx="41.5" cy="90.8" r="0.82" fill="#2a6a20" opacity="0.84"/><circle cx="33.8" cy="46.2" r="0.89" fill="#78d068" opacity="0.40"/><circle cx="66.6" cy="54.8" r="0.91" fill="#2a6a20" opacity="0.80"/><circle cx="50.3" cy="94.7" r="0.72" fill="#000" opacity="0.76"/><circle cx="52.1" cy="69.4" r="0.65" fill="#000" opacity="0.33"/><circle cx="48.3" cy="63.7" r="0.79" fill="#000" opacity="0.87"/><circle cx="39.3" cy="63.0" r="0.94" fill="#58b848" opacity="0.75"/><circle cx="40.6" cy="37.4" r="0.84" fill="#78d068" opacity="0.37"/><circle cx="62.3" cy="37.8" r="0.60" fill="#2a6a20" opacity="0.60"/><circle cx="59.3" cy="48.0" r="0.54" fill="#58b848" opacity="0.51"/><circle cx="66.1" cy="62.5" r="0.85" fill="#000" opacity="0.55"/><circle cx="43.5" cy="82.0" r="0.54" fill="#000" opacity="0.31"/><circle cx="65.7" cy="44.0" r="0.77" fill="#78d068" opacity="0.35"/><circle cx="66.8" cy="71.5" r="0.81" fill="#78d068" opacity="0.80"/><circle cx="58.6" cy="30.7" r="0.99" fill="#000" opacity="0.55"/><circle cx="68.9" cy="45.9" r="0.69" fill="#78d068" opacity="0.53"/><circle cx="40.6" cy="72.2" r="0.87" fill="#000" opacity="0.59"/><circle cx="57.4" cy="67.9" r="0.64" fill="#000" opacity="0.66"/><circle cx="43.2" cy="62.3" r="0.90" fill="#000" opacity="0.67"/><circle cx="29.3" cy="66.6" r="0.74" fill="#2a6a20" opacity="0.78"/><circle cx="50.4" cy="36.6" r="0.76" fill="#78d068" opacity="0.73"/><circle cx="64.0" cy="53.0" r="0.58" fill="#2a6a20" opacity="0.76"/><circle cx="64.7" cy="57.4" r="0.86" fill="#2a6a20" opacity="0.31"/><circle cx="36.7" cy="76.1" r="0.72" fill="#58b848" opacity="0.34"/><circle cx="28.1" cy="70.4" r="0.71" fill="#000" opacity="0.64"/><circle cx="37.6" cy="39.9" r="0.84" fill="#78d068" opacity="0.85"/><circle cx="70.7" cy="49.0" r="0.67" fill="#2a6a20" opacity="0.78"/><circle cx="32.0" cy="68.8" r="0.96" fill="#2a6a20" opacity="0.86"/><circle cx="43.5" cy="57.2" r="0.95" fill="#2a6a20" opacity="0.56"/><circle cx="68.2" cy="73.7" r="0.84" fill="#2a6a20" opacity="0.42"/><circle cx="45.2" cy="39.4" r="0.95" fill="#78d068" opacity="0.69"/><circle cx="42.3" cy="82.7" r="0.64" fill="#58b848" opacity="0.68"/><circle cx="64.6" cy="46.9" r="0.88" fill="#58b848" opacity="0.63"/><circle cx="37.1" cy="86.7" r="0.74" fill="#78d068" opacity="0.67"/><circle cx="68.0" cy="80.8" r="0.67" fill="#58b848" opacity="0.41"/><circle cx="47.9" cy="73.5" r="0.67" fill="#78d068" opacity="0.82"/><circle cx="28.0" cy="65.1" r="0.67" fill="#2a6a20" opacity="0.41"/><circle cx="36.4" cy="79.7" r="0.68" fill="#78d068" opacity="0.63"/><circle cx="44.8" cy="99.3" r="0.52" fill="#000" opacity="0.56"/><circle cx="44.1" cy="75.9" r="0.65" fill="#78d068" opacity="0.46"/><circle cx="31.5" cy="79.0" r="0.85" fill="#000" opacity="0.78"/><circle cx="62.7" cy="49.7" r="0.66" fill="#000" opacity="0.32"/><circle cx="59.9" cy="38.2" r="0.59" fill="#000" opacity="0.43"/><circle cx="37.8" cy="45.7" r="0.94" fill="#000" opacity="0.53"/><circle cx="46.7" cy="92.2" r="0.74" fill="#78d068" opacity="0.63"/><circle cx="41.5" cy="86.1" r="0.52" fill="#2a6a20" opacity="0.43"/><circle cx="46.9" cy="98.0" r="0.89" fill="#78d068" opacity="0.42"/><circle cx="58.2" cy="72.5" r="0.58" fill="#58b848" opacity="0.79"/><circle cx="59.2" cy="39.6" r="0.74" fill="#78d068" opacity="0.56"/><circle cx="39.7" cy="37.0" r="0.91" fill="#2a6a20" opacity="0.44"/><circle cx="58.6" cy="67.4" r="0.78" fill="#000" opacity="0.63"/><circle cx="52.1" cy="80.8" r="0.67" fill="#000" opacity="0.40"/><circle cx="57.2" cy="91.2" r="0.61" fill="#000" opacity="0.53"/><circle cx="31.8" cy="49.7" r="0.76" fill="#78d068" opacity="0.53"/><circle cx="47.5" cy="89.1" r="0.53" fill="#000" opacity="0.67"/><circle cx="54.1" cy="30.8" r="0.65" fill="#000" opacity="0.85"/><circle cx="43.7" cy="79.4" r="0.72" fill="#78d068" opacity="0.81"/><circle cx="40.6" cy="66.1" r="0.85" fill="#2a6a20" opacity="0.47"/>
<circle cx="114.5" cy="71.5" r="0.56" fill="#000" opacity="0.41"/><circle cx="95.4" cy="77.0" r="0.59" fill="#000" opacity="0.34"/><circle cx="103.5" cy="66.8" r="0.76" fill="#000" opacity="0.56"/><circle cx="105.5" cy="66.5" r="0.68" fill="#2a7a28" opacity="0.57"/><circle cx="89.0" cy="101.1" r="0.90" fill="#000" opacity="0.50"/><circle cx="84.4" cy="67.0" r="0.87" fill="#50a048" opacity="0.28"/><circle cx="81.1" cy="97.0" r="0.78" fill="#50a048" opacity="0.59"/><circle cx="100.3" cy="66.9" r="0.92" fill="#000" opacity="0.58"/><circle cx="111.5" cy="58.7" r="0.72" fill="#2a7a28" opacity="0.58"/><circle cx="110.0" cy="57.6" r="0.70" fill="#50a048" opacity="0.33"/><circle cx="85.0" cy="73.3" r="0.79" fill="#50a048" opacity="0.31"/><circle cx="97.1" cy="68.1" r="0.50" fill="#000" opacity="0.54"/><circle cx="112.3" cy="79.4" r="0.88" fill="#50a048" opacity="0.46"/><circle cx="77.4" cy="98.1" r="0.77" fill="#000" opacity="0.46"/><circle cx="106.7" cy="78.7" r="0.57" fill="#2a7a28" opacity="0.50"/><circle cx="87.6" cy="76.4" r="0.82" fill="#2a7a28" opacity="0.33"/><circle cx="80.2" cy="84.3" r="0.88" fill="#2a7a28" opacity="0.57"/><circle cx="101.9" cy="94.0" r="0.92" fill="#2a7a28" opacity="0.49"/><circle cx="83.3" cy="101.7" r="0.68" fill="#2a7a28" opacity="0.46"/><circle cx="90.4" cy="93.8" r="0.66" fill="#2a7a28" opacity="0.25"/><circle cx="77.0" cy="88.2" r="0.98" fill="#50a048" opacity="0.21"/><circle cx="91.5" cy="94.6" r="0.83" fill="#2a7a28" opacity="0.55"/><circle cx="106.8" cy="62.1" r="0.77" fill="#000" opacity="0.34"/><circle cx="87.3" cy="97.4" r="0.54" fill="#2a7a28" opacity="0.40"/><circle cx="114.0" cy="61.2" r="0.84" fill="#000" opacity="0.45"/><circle cx="85.4" cy="86.7" r="0.79" fill="#2a7a28" opacity="0.56"/><circle cx="93.7" cy="78.1" r="0.75" fill="#2a7a28" opacity="0.57"/><circle cx="84.7" cy="93.2" r="0.98" fill="#000" opacity="0.38"/><circle cx="104.6" cy="52.4" r="0.58" fill="#50a048" opacity="0.25"/><circle cx="113.8" cy="67.4" r="0.60" fill="#000" opacity="0.39"/><circle cx="94.6" cy="100.7" r="0.54" fill="#2a7a28" opacity="0.54"/><circle cx="77.3" cy="96.1" r="0.72" fill="#000" opacity="0.26"/><circle cx="95.2" cy="59.1" r="0.71" fill="#2a7a28" opacity="0.29"/><circle cx="95.1" cy="72.1" r="0.67" fill="#2a7a28" opacity="0.23"/><circle cx="96.4" cy="72.2" r="0.82" fill="#2a7a28" opacity="0.25"/><circle cx="84.7" cy="62.9" r="0.92" fill="#000" opacity="0.45"/><circle cx="114.7" cy="66.6" r="0.89" fill="#000" opacity="0.48"/><circle cx="97.5" cy="81.4" r="0.73" fill="#50a048" opacity="0.51"/><circle cx="90.5" cy="81.0" r="0.69" fill="#000" opacity="0.42"/><circle cx="89.5" cy="53.0" r="0.85" fill="#2a7a28" opacity="0.31"/><circle cx="95.8" cy="86.2" r="0.80" fill="#000" opacity="0.37"/><circle cx="85.5" cy="73.2" r="0.97" fill="#000" opacity="0.41"/><circle cx="108.6" cy="86.9" r="0.92" fill="#50a048" opacity="0.50"/><circle cx="76.1" cy="102.9" r="0.72" fill="#50a048" opacity="0.58"/><circle cx="83.9" cy="87.7" r="0.55" fill="#50a048" opacity="0.53"/><circle cx="95.9" cy="68.4" r="0.90" fill="#50a048" opacity="0.47"/><circle cx="102.4" cy="98.5" r="0.97" fill="#50a048" opacity="0.42"/><circle cx="95.0" cy="75.8" r="0.56" fill="#50a048" opacity="0.52"/><circle cx="101.9" cy="83.5" r="0.65" fill="#50a048" opacity="0.40"/><circle cx="98.6" cy="79.8" r="0.90" fill="#50a048" opacity="0.56"/><circle cx="79.0" cy="102.1" r="0.75" fill="#2a7a28" opacity="0.33"/><circle cx="88.4" cy="58.8" r="0.97" fill="#000" opacity="0.53"/><circle cx="102.4" cy="88.7" r="0.93" fill="#2a7a28" opacity="0.40"/><circle cx="99.6" cy="76.9" r="0.71" fill="#50a048" opacity="0.48"/><circle cx="74.4" cy="103.0" r="0.78" fill="#50a048" opacity="0.51"/><circle cx="84.4" cy="89.2" r="0.61" fill="#50a048" opacity="0.27"/><circle cx="105.0" cy="81.1" r="0.87" fill="#000" opacity="0.43"/><circle cx="97.7" cy="64.4" r="0.80" fill="#2a7a28" opacity="0.57"/><circle cx="89.4" cy="99.4" r="0.65" fill="#000" opacity="0.44"/><circle cx="96.2" cy="70.8" r="0.67" fill="#000" opacity="0.26"/><circle cx="81.9" cy="100.6" r="0.90" fill="#000" opacity="0.59"/><circle cx="93.0" cy="66.1" r="0.93" fill="#50a048" opacity="0.49"/><circle cx="92.8" cy="60.6" r="0.77" fill="#000" opacity="0.51"/><circle cx="112.5" cy="67.3" r="0.80" fill="#2a7a28" opacity="0.37"/><circle cx="111.7" cy="55.9" r="0.98" fill="#000" opacity="0.53"/><circle cx="84.4" cy="70.7" r="0.65" fill="#000" opacity="0.54"/><circle cx="91.8" cy="88.6" r="0.79" fill="#000" opacity="0.49"/><circle cx="92.9" cy="90.4" r="0.79" fill="#50a048" opacity="0.20"/><circle cx="108.5" cy="91.7" r="0.69" fill="#2a7a28" opacity="0.45"/><circle cx="93.8" cy="66.3" r="0.72" fill="#50a048" opacity="0.54"/><circle cx="81.7" cy="97.2" r="0.91" fill="#50a048" opacity="0.24"/><circle cx="111.3" cy="87.5" r="0.66" fill="#000" opacity="0.45"/><circle cx="102.0" cy="77.2" r="0.77" fill="#2a7a28" opacity="0.56"/><circle cx="89.9" cy="98.4" r="0.66" fill="#50a048" opacity="0.31"/><circle cx="93.9" cy="66.4" r="0.98" fill="#50a048" opacity="0.40"/><circle cx="90.4" cy="104.1" r="0.94" fill="#000" opacity="0.56"/><circle cx="90.1" cy="104.7" r="0.89" fill="#000" opacity="0.51"/><circle cx="105.0" cy="80.6" r="0.80" fill="#000" opacity="0.52"/><circle cx="91.4" cy="81.9" r="0.51" fill="#000" opacity="0.47"/><circle cx="107.7" cy="48.8" r="0.71" fill="#50a048" opacity="0.29"/><circle cx="109.3" cy="63.4" r="0.79" fill="#2a7a28" opacity="0.21"/><circle cx="88.2" cy="74.8" r="0.86" fill="#000" opacity="0.46"/><circle cx="95.2" cy="78.8" r="0.83" fill="#2a7a28" opacity="0.32"/><circle cx="96.8" cy="83.3" r="0.82" fill="#2a7a28" opacity="0.53"/><circle cx="87.4" cy="102.8" r="0.63" fill="#2a7a28" opacity="0.47"/><circle cx="75.1" cy="99.9" r="0.92" fill="#2a7a28" opacity="0.38"/><circle cx="109.0" cy="54.5" r="0.58" fill="#50a048" opacity="0.25"/><circle cx="83.2" cy="93.3" r="0.64" fill="#000" opacity="0.22"/><circle cx="94.3" cy="47.3" r="0.96" fill="#000" opacity="0.25"/><circle cx="81.5" cy="84.6" r="0.77" fill="#50a048" opacity="0.26"/><circle cx="94.0" cy="76.0" r="0.90" fill="#000" opacity="0.21"/><circle cx="88.0" cy="79.9" r="1.00" fill="#000" opacity="0.36"/><circle cx="108.6" cy="49.9" r="0.95" fill="#000" opacity="0.20"/><circle cx="88.5" cy="50.4" r="0.84" fill="#50a048" opacity="0.34"/><circle cx="81.8" cy="97.7" r="0.52" fill="#000" opacity="0.55"/><circle cx="88.8" cy="97.5" r="0.80" fill="#50a048" opacity="0.55"/><circle cx="81.0" cy="92.7" r="0.85" fill="#2a7a28" opacity="0.27"/><circle cx="82.7" cy="94.7" r="0.84" fill="#000" opacity="0.34"/><circle cx="97.5" cy="74.0" r="0.63" fill="#000" opacity="0.26"/><circle cx="112.8" cy="79.4" r="0.91" fill="#2a7a28" opacity="0.37"/><circle cx="98.7" cy="85.8" r="0.89" fill="#50a048" opacity="0.58"/><circle cx="99.5" cy="101.2" r="0.54" fill="#000" opacity="0.43"/><circle cx="94.4" cy="64.2" r="0.53" fill="#2a7a28" opacity="0.27"/><circle cx="90.4" cy="62.7" r="0.97" fill="#2a7a28" opacity="0.34"/><circle cx="84.9" cy="103.3" r="0.66" fill="#000" opacity="0.46"/><circle cx="114.8" cy="72.0" r="0.84" fill="#50a048" opacity="0.40"/><circle cx="97.8" cy="60.2" r="0.77" fill="#000" opacity="0.33"/><circle cx="93.3" cy="92.3" r="0.78" fill="#000" opacity="0.56"/><circle cx="84.5" cy="100.5" r="0.81" fill="#50a048" opacity="0.40"/><circle cx="87.3" cy="53.4" r="0.97" fill="#000" opacity="0.53"/><circle cx="98.8" cy="55.8" r="0.96" fill="#000" opacity="0.39"/><circle cx="93.2" cy="55.1" r="0.76" fill="#50a048" opacity="0.53"/><circle cx="85.7" cy="56.9" r="0.74" fill="#000" opacity="0.28"/><circle cx="75.3" cy="96.4" r="0.51" fill="#000" opacity="0.30"/><circle cx="91.9" cy="98.4" r="0.76" fill="#50a048" opacity="0.50"/><circle cx="102.6" cy="47.5" r="0.73" fill="#50a048" opacity="0.51"/><circle cx="103.6" cy="97.2" r="0.66" fill="#2a7a28" opacity="0.58"/><circle cx="86.7" cy="99.1" r="0.51" fill="#50a048" opacity="0.39"/><circle cx="73.2" cy="95.7" r="0.95" fill="#50a048" opacity="0.44"/><circle cx="85.0" cy="88.6" r="0.85" fill="#50a048" opacity="0.48"/><circle cx="76.0" cy="92.1" r="0.98" fill="#000" opacity="0.29"/><circle cx="94.9" cy="84.5" r="0.76" fill="#000" opacity="0.57"/><circle cx="110.6" cy="81.3" r="0.76" fill="#000" opacity="0.21"/><circle cx="88.7" cy="52.0" r="0.98" fill="#000" opacity="0.52"/><circle cx="85.8" cy="100.4" r="0.97" fill="#000" opacity="0.29"/><circle cx="82.4" cy="87.0" r="0.91" fill="#50a048" opacity="0.23"/><circle cx="105.4" cy="61.2" r="0.57" fill="#000" opacity="0.32"/><circle cx="111.6" cy="59.0" r="0.73" fill="#000" opacity="0.59"/><circle cx="104.9" cy="66.8" r="0.71" fill="#2a7a28" opacity="0.55"/><circle cx="106.4" cy="79.9" r="0.67" fill="#000" opacity="0.54"/><circle cx="75.0" cy="98.8" r="0.66" fill="#50a048" opacity="0.33"/><circle cx="94.6" cy="50.7" r="0.63" fill="#000" opacity="0.58"/><circle cx="107.9" cy="85.7" r="0.90" fill="#50a048" opacity="0.58"/><circle cx="100.8" cy="68.2" r="0.58" fill="#000" opacity="0.60"/><circle cx="107.2" cy="67.3" r="0.70" fill="#50a048" opacity="0.47"/><circle cx="97.0" cy="97.9" r="0.68" fill="#000" opacity="0.37"/><circle cx="81.7" cy="94.9" r="0.90" fill="#000" opacity="0.53"/><circle cx="103.0" cy="48.0" r="0.59" fill="#000" opacity="0.47"/><circle cx="110.9" cy="58.7" r="0.77" fill="#50a048" opacity="0.28"/><circle cx="94.3" cy="45.8" r="0.94" fill="#000" opacity="0.37"/><circle cx="107.7" cy="51.6" r="0.90" fill="#000" opacity="0.23"/><circle cx="91.0" cy="51.1" r="0.82" fill="#50a048" opacity="0.31"/><circle cx="82.4" cy="82.0" r="0.53" fill="#000" opacity="0.32"/><circle cx="87.2" cy="75.2" r="0.58" fill="#50a048" opacity="0.45"/><circle cx="95.7" cy="57.0" r="0.55" fill="#50a048" opacity="0.32"/><circle cx="89.1" cy="64.3" r="0.84" fill="#000" opacity="0.41"/><circle cx="101.1" cy="48.9" r="0.66" fill="#50a048" opacity="0.31"/><circle cx="85.8" cy="98.0" r="0.77" fill="#000" opacity="0.30"/><circle cx="95.7" cy="48.5" r="0.66" fill="#000" opacity="0.26"/><circle cx="93.6" cy="76.0" r="0.65" fill="#2a7a28" opacity="0.32"/><circle cx="105.9" cy="61.6" r="0.99" fill="#2a7a28" opacity="0.54"/><circle cx="84.5" cy="96.6" r="0.68" fill="#000" opacity="0.33"/><circle cx="101.1" cy="87.9" r="0.70" fill="#50a048" opacity="0.52"/><circle cx="94.2" cy="102.9" r="0.58" fill="#000" opacity="0.60"/><circle cx="101.2" cy="83.6" r="0.73" fill="#000" opacity="0.52"/><circle cx="90.0" cy="91.2" r="0.80" fill="#2a7a28" opacity="0.59"/><circle cx="86.2" cy="104.8" r="0.98" fill="#50a048" opacity="0.43"/><circle cx="99.1" cy="56.1" r="0.53" fill="#50a048" opacity="0.50"/><circle cx="101.1" cy="77.8" r="0.63" fill="#50a048" opacity="0.38"/><circle cx="98.0" cy="56.0" r="0.97" fill="#50a048" opacity="0.59"/><circle cx="89.4" cy="74.1" r="0.76" fill="#2a7a28" opacity="0.54"/><circle cx="103.0" cy="73.4" r="0.86" fill="#000" opacity="0.27"/><circle cx="111.6" cy="83.3" r="0.75" fill="#50a048" opacity="0.48"/><circle cx="102.7" cy="50.4" r="0.66" fill="#000" opacity="0.35"/><circle cx="105.0" cy="73.3" r="0.85" fill="#50a048" opacity="0.44"/><circle cx="96.4" cy="103.2" r="0.99" fill="#2a7a28" opacity="0.46"/><circle cx="109.1" cy="52.3" r="0.60" fill="#50a048" opacity="0.23"/><circle cx="92.7" cy="57.6" r="0.77" fill="#50a048" opacity="0.45"/><circle cx="108.4" cy="83.0" r="0.67" fill="#50a048" opacity="0.30"/><circle cx="113.6" cy="66.2" r="0.97" fill="#2a7a28" opacity="0.44"/><circle cx="87.4" cy="91.5" r="0.73" fill="#2a7a28" opacity="0.40"/><circle cx="88.3" cy="104.4" r="0.52" fill="#2a7a28" opacity="0.41"/><circle cx="110.1" cy="70.4" r="0.70" fill="#50a048" opacity="0.22"/><circle cx="85.7" cy="66.5" r="0.89" fill="#50a048" opacity="0.57"/><circle cx="111.6" cy="55.7" r="0.59" fill="#50a048" opacity="0.52"/><circle cx="94.7" cy="89.0" r="0.76" fill="#50a048" opacity="0.52"/><circle cx="87.1" cy="105.8" r="0.54" fill="#000" opacity="0.22"/><circle cx="94.3" cy="87.9" r="0.68" fill="#000" opacity="0.32"/><circle cx="79.9" cy="101.3" r="0.96" fill="#000" opacity="0.35"/><circle cx="106.4" cy="91.4" r="0.72" fill="#50a048" opacity="0.41"/><circle cx="90.0" cy="67.6" r="0.77" fill="#000" opacity="0.40"/><circle cx="99.5" cy="66.2" r="0.71" fill="#2a7a28" opacity="0.59"/><circle cx="83.9" cy="100.1" r="0.81" fill="#000" opacity="0.46"/><circle cx="103.2" cy="93.2" r="0.69" fill="#2a7a28" opacity="0.32"/><circle cx="72.5" cy="96.0" r="0.62" fill="#2a7a28" opacity="0.23"/><circle cx="84.1" cy="74.7" r="0.51" fill="#2a7a28" opacity="0.34"/><circle cx="105.2" cy="83.0" r="0.69" fill="#50a048" opacity="0.24"/><circle cx="92.9" cy="53.1" r="0.71" fill="#50a048" opacity="0.57"/><circle cx="104.8" cy="64.2" r="0.65" fill="#2a7a28" opacity="0.53"/><circle cx="86.1" cy="58.0" r="0.63" fill="#50a048" opacity="0.39"/><circle cx="102.3" cy="85.3" r="0.90" fill="#000" opacity="0.33"/><circle cx="106.1" cy="72.3" r="0.52" fill="#50a048" opacity="0.43"/><circle cx="102.9" cy="85.9" r="0.93" fill="#000" opacity="0.53"/><circle cx="83.4" cy="89.7" r="0.68" fill="#2a7a28" opacity="0.42"/><circle cx="97.8" cy="48.0" r="0.59" fill="#2a7a28" opacity="0.33"/><circle cx="96.9" cy="55.4" r="0.58" fill="#2a7a28" opacity="0.38"/><circle cx="97.8" cy="86.5" r="0.54" fill="#50a048" opacity="0.21"/><circle cx="77.1" cy="88.2" r="0.66" fill="#000" opacity="0.52"/><circle cx="102.2" cy="72.6" r="0.95" fill="#50a048" opacity="0.44"/><circle cx="92.5" cy="53.7" r="0.58" fill="#2a7a28" opacity="0.55"/><circle cx="96.7" cy="50.8" r="0.60" fill="#000" opacity="0.37"/><circle cx="94.1" cy="46.7" r="0.99" fill="#000" opacity="0.57"/><circle cx="74.2" cy="97.3" r="0.57" fill="#2a7a28" opacity="0.29"/><circle cx="89.7" cy="95.1" r="0.80" fill="#000" opacity="0.29"/><circle cx="89.2" cy="89.5" r="0.83" fill="#2a7a28" opacity="0.47"/><circle cx="96.8" cy="67.4" r="0.54" fill="#50a048" opacity="0.29"/><circle cx="79.0" cy="97.7" r="0.82" fill="#000" opacity="0.35"/><circle cx="104.0" cy="62.4" r="0.96" fill="#2a7a28" opacity="0.56"/><circle cx="103.2" cy="89.5" r="0.68" fill="#000" opacity="0.38"/><circle cx="82.2" cy="80.1" r="0.61" fill="#000" opacity="0.40"/><circle cx="92.7" cy="68.6" r="0.95" fill="#000" opacity="0.27"/><circle cx="93.6" cy="58.5" r="0.96" fill="#50a048" opacity="0.35"/><circle cx="87.8" cy="59.0" r="0.62" fill="#2a7a28" opacity="0.55"/><circle cx="98.2" cy="64.1" r="0.65" fill="#50a048" opacity="0.29"/><circle cx="101.3" cy="57.3" r="0.97" fill="#000" opacity="0.40"/><circle cx="112.4" cy="75.5" r="0.54" fill="#2a7a28" opacity="0.59"/><circle cx="79.6" cy="94.0" r="0.81" fill="#000" opacity="0.56"/><circle cx="86.2" cy="90.6" r="0.89" fill="#000" opacity="0.22"/><circle cx="97.9" cy="76.9" r="0.77" fill="#000" opacity="0.48"/><circle cx="99.9" cy="61.0" r="0.88" fill="#50a048" opacity="0.47"/>
<circle cx="83.4" cy="71.8" r="0.71" fill="#60b020" opacity="0.54"/><circle cx="77.3" cy="71.6" r="0.75" fill="#60b020" opacity="0.64"/><circle cx="85.0" cy="58.8" r="0.78" fill="#a0d030" opacity="0.52"/><circle cx="83.4" cy="76.2" r="0.94" fill="#60b020" opacity="0.80"/><circle cx="81.9" cy="59.1" r="0.67" fill="#80d020" opacity="0.86"/><circle cx="73.3" cy="50.3" r="1.04" fill="#60b020" opacity="0.41"/><circle cx="77.8" cy="51.9" r="0.80" fill="#a0d030" opacity="0.62"/><circle cx="84.9" cy="52.4" r="0.77" fill="#a0d030" opacity="0.46"/><circle cx="79.2" cy="44.7" r="1.10" fill="#60b020" opacity="0.74"/><circle cx="82.8" cy="71.7" r="0.68" fill="#60b020" opacity="0.79"/><circle cx="78.8" cy="48.1" r="0.65" fill="#a0d030" opacity="0.86"/><circle cx="80.7" cy="50.1" r="0.77" fill="#a0d030" opacity="0.86"/><circle cx="81.5" cy="49.5" r="1.00" fill="#60b020" opacity="0.66"/><circle cx="79.5" cy="45.1" r="0.80" fill="#60b020" opacity="0.65"/><circle cx="81.4" cy="72.3" r="0.96" fill="#80d020" opacity="0.76"/><circle cx="75.0" cy="51.5" r="0.70" fill="#60b020" opacity="0.66"/><circle cx="84.7" cy="56.3" r="1.01" fill="#a0d030" opacity="0.56"/><circle cx="77.9" cy="47.9" r="0.96" fill="#80d020" opacity="0.47"/><circle cx="77.5" cy="70.4" r="0.73" fill="#80d020" opacity="0.49"/><circle cx="74.6" cy="53.9" r="0.94" fill="#80d020" opacity="0.65"/><circle cx="79.4" cy="79.9" r="0.87" fill="#60b020" opacity="0.85"/><circle cx="75.8" cy="50.4" r="1.01" fill="#60b020" opacity="0.54"/><circle cx="82.0" cy="67.0" r="0.94" fill="#a0d030" opacity="0.80"/><circle cx="78.9" cy="52.8" r="0.91" fill="#a0d030" opacity="0.45"/><circle cx="81.2" cy="66.9" r="0.79" fill="#a0d030" opacity="0.42"/><circle cx="82.3" cy="51.7" r="0.69" fill="#80d020" opacity="0.53"/><circle cx="82.0" cy="67.9" r="0.92" fill="#80d020" opacity="0.74"/><circle cx="79.7" cy="59.6" r="0.97" fill="#a0d030" opacity="0.75"/><circle cx="78.4" cy="78.4" r="0.87" fill="#60b020" opacity="0.52"/><circle cx="85.3" cy="68.2" r="0.83" fill="#a0d030" opacity="0.57"/><circle cx="73.8" cy="56.6" r="1.09" fill="#a0d030" opacity="0.47"/><circle cx="77.6" cy="67.6" r="0.73" fill="#a0d030" opacity="0.87"/><circle cx="80.7" cy="52.8" r="0.71" fill="#60b020" opacity="0.53"/><circle cx="85.9" cy="59.5" r="0.65" fill="#60b020" opacity="0.73"/><circle cx="79.7" cy="57.1" r="0.99" fill="#a0d030" opacity="0.65"/><circle cx="77.9" cy="56.6" r="0.91" fill="#a0d030" opacity="0.68"/><circle cx="73.4" cy="70.6" r="1.02" fill="#a0d030" opacity="0.54"/><circle cx="76.7" cy="53.9" r="0.78" fill="#60b020" opacity="0.45"/><circle cx="77.0" cy="57.3" r="0.89" fill="#a0d030" opacity="0.76"/><circle cx="81.5" cy="55.0" r="0.74" fill="#60b020" opacity="0.45"/><circle cx="74.6" cy="69.0" r="0.69" fill="#60b020" opacity="0.68"/><circle cx="85.3" cy="66.9" r="1.04" fill="#a0d030" opacity="0.56"/><circle cx="71.3" cy="60.0" r="1.05" fill="#80d020" opacity="0.53"/><circle cx="74.3" cy="65.9" r="0.66" fill="#80d020" opacity="0.45"/><circle cx="81.6" cy="64.0" r="0.77" fill="#80d020" opacity="0.83"/>
</g>
</g>
<g id="p2r">
<ellipse cx="67" cy="101" rx="10" ry="7" fill="#a01810" filter="url(#b2)"/>
<ellipse cx="93" cy="95" rx="12" ry="7" fill="#801040" filter="url(#b2)"/>
<ellipse cx="79" cy="55" rx="8" ry="18" fill="#401808" filter="url(#b3)" opacity="0.4"/>
<ellipse cx="72" cy="68" rx="46" ry="43" fill="#2a0606" filter="url(#b3)" opacity="0.6"/>
<g filter="url(#b05)">
<circle cx="68.6" cy="100.4" r="0.86" fill="#b01830" opacity="0.68"/><circle cx="58.6" cy="95.3" r="1.16" fill="#c02040" opacity="0.66"/><circle cx="73.0" cy="106.2" r="0.78" fill="#b01830" opacity="0.98"/><circle cx="61.6" cy="104.4" r="1.02" fill="#c02040" opacity="0.81"/><circle cx="78.3" cy="102.1" r="0.95" fill="#d02018" opacity="0.56"/><circle cx="58.8" cy="95.3" r="0.66" fill="#d02018" opacity="0.82"/><circle cx="77.1" cy="96.7" r="1.24" fill="#d02018" opacity="0.57"/><circle cx="76.8" cy="95.1" r="1.16" fill="#b01830" opacity="0.64"/><circle cx="62.1" cy="101.0" r="0.92" fill="#b01830" opacity="0.60"/><circle cx="77.5" cy="102.6" r="0.91" fill="#c02040" opacity="0.67"/><circle cx="66.5" cy="105.9" r="1.27" fill="#b01830" opacity="0.88"/><circle cx="65.7" cy="98.0" r="0.70" fill="#d02018" opacity="0.78"/><circle cx="77.9" cy="95.3" r="0.87" fill="#c02040" opacity="0.83"/><circle cx="56.2" cy="101.8" r="0.63" fill="#e03028" opacity="0.62"/><circle cx="69.3" cy="93.3" r="0.76" fill="#e03028" opacity="0.79"/><circle cx="59.4" cy="103.7" r="0.97" fill="#b01830" opacity="0.64"/><circle cx="75.5" cy="103.0" r="1.25" fill="#d02018" opacity="0.87"/><circle cx="55.3" cy="100.7" r="1.32" fill="#c02040" opacity="0.67"/><circle cx="58.8" cy="103.8" r="1.23" fill="#e03028" opacity="0.64"/><circle cx="59.3" cy="107.7" r="1.38" fill="#e03028" opacity="0.98"/><circle cx="72.1" cy="93.3" r="1.16" fill="#b01830" opacity="0.63"/><circle cx="76.5" cy="100.1" r="1.00" fill="#b01830" opacity="0.80"/><circle cx="75.8" cy="97.0" r="0.92" fill="#d02018" opacity="0.64"/><circle cx="63.1" cy="93.7" r="1.30" fill="#c02040" opacity="0.71"/><circle cx="64.4" cy="102.7" r="0.77" fill="#b01830" opacity="0.88"/><circle cx="69.0" cy="103.9" r="1.18" fill="#e03028" opacity="0.60"/><circle cx="59.8" cy="99.9" r="1.27" fill="#e03028" opacity="0.87"/><circle cx="71.7" cy="106.4" r="1.10" fill="#e03028" opacity="0.57"/><circle cx="75.8" cy="103.6" r="1.22" fill="#d02018" opacity="0.85"/><circle cx="76.4" cy="104.9" r="1.08" fill="#b01830" opacity="0.63"/><circle cx="72.9" cy="104.7" r="0.80" fill="#c02040" opacity="0.84"/><circle cx="68.4" cy="98.7" r="0.64" fill="#c02040" opacity="0.52"/><circle cx="74.7" cy="103.1" r="1.29" fill="#b01830" opacity="0.93"/><circle cx="57.0" cy="96.4" r="0.97" fill="#d02018" opacity="0.78"/><circle cx="70.9" cy="106.1" r="1.39" fill="#e03028" opacity="0.61"/><circle cx="60.4" cy="104.6" r="1.38" fill="#b01830" opacity="0.53"/><circle cx="77.6" cy="103.4" r="0.82" fill="#c02040" opacity="0.51"/><circle cx="79.2" cy="98.3" r="1.33" fill="#d02018" opacity="0.97"/><circle cx="75.7" cy="93.7" r="1.25" fill="#b01830" opacity="0.88"/><circle cx="67.8" cy="94.7" r="1.01" fill="#b01830" opacity="0.72"/><circle cx="70.3" cy="101.5" r="1.40" fill="#e03028" opacity="0.81"/><circle cx="76.7" cy="98.4" r="0.72" fill="#e03028" opacity="0.79"/><circle cx="62.1" cy="98.5" r="0.80" fill="#d02018" opacity="0.77"/><circle cx="75.3" cy="100.0" r="0.94" fill="#e03028" opacity="0.65"/><circle cx="75.4" cy="97.7" r="1.38" fill="#e03028" opacity="0.94"/><circle cx="59.4" cy="104.6" r="0.62" fill="#e03028" opacity="0.76"/><circle cx="65.2" cy="94.2" r="0.68" fill="#c02040" opacity="0.83"/><circle cx="79.4" cy="97.4" r="1.23" fill="#b01830" opacity="0.65"/><circle cx="61.1" cy="99.3" r="0.61" fill="#e03028" opacity="0.94"/><circle cx="79.2" cy="104.7" r="1.33" fill="#b01830" opacity="0.89"/><circle cx="65.7" cy="98.5" r="1.15" fill="#d02018" opacity="0.92"/><circle cx="71.9" cy="99.4" r="0.99" fill="#e03028" opacity="1.00"/><circle cx="73.3" cy="102.1" r="0.81" fill="#e03028" opacity="0.85"/><circle cx="63.4" cy="103.6" r="1.32" fill="#d02018" opacity="0.95"/><circle cx="56.4" cy="104.7" r="1.05" fill="#d02018" opacity="0.70"/><circle cx="74.2" cy="96.3" r="1.35" fill="#e03028" opacity="0.60"/><circle cx="63.8" cy="107.9" r="1.34" fill="#b01830" opacity="0.90"/><circle cx="64.1" cy="104.4" r="0.66" fill="#c02040" opacity="0.68"/><circle cx="73.3" cy="95.6" r="0.84" fill="#d02018" opacity="0.61"/><circle cx="68.6" cy="97.9" r="1.26" fill="#c02040" opacity="0.72"/><circle cx="76.0" cy="100.7" r="0.86" fill="#c02040" opacity="0.57"/><circle cx="78.9" cy="104.5" r="1.18" fill="#b01830" opacity="0.76"/><circle cx="69.1" cy="98.2" r="0.79" fill="#c02040" opacity="0.63"/><circle cx="66.7" cy="108.6" r="0.69" fill="#e03028" opacity="0.69"/><circle cx="73.5" cy="96.8" r="0.62" fill="#c02040" opacity="0.66"/><circle cx="75.4" cy="93.9" r="0.84" fill="#c02040" opacity="0.59"/><circle cx="70.0" cy="100.2" r="1.24" fill="#c02040" opacity="0.97"/><circle cx="64.7" cy="95.4" r="1.03" fill="#e03028" opacity="0.65"/><circle cx="71.1" cy="96.3" r="0.93" fill="#d02018" opacity="0.94"/><circle cx="67.8" cy="107.9" r="1.17" fill="#c02040" opacity="0.50"/><circle cx="56.1" cy="101.2" r="0.94" fill="#e03028" opacity="0.83"/><circle cx="67.8" cy="102.2" r="0.86" fill="#e03028" opacity="0.79"/><circle cx="79.0" cy="100.3" r="0.93" fill="#d02018" opacity="0.76"/><circle cx="62.3" cy="101.7" r="0.87" fill="#c02040" opacity="0.88"/><circle cx="61.8" cy="103.1" r="0.72" fill="#c02040" opacity="0.84"/><circle cx="57.4" cy="105.1" r="1.25" fill="#e03028" opacity="0.60"/><circle cx="70.5" cy="92.9" r="1.22" fill="#b01830" opacity="0.86"/><circle cx="58.1" cy="103.7" r="0.82" fill="#e03028" opacity="0.86"/><circle cx="59.3" cy="101.6" r="0.60" fill="#b01830" opacity="0.52"/><circle cx="77.9" cy="103.3" r="0.91" fill="#d02018" opacity="0.63"/><circle cx="73.2" cy="92.8" r="0.95" fill="#d02018" opacity="0.59"/><circle cx="67.6" cy="109.2" r="1.32" fill="#b01830" opacity="0.56"/><circle cx="67.9" cy="102.0" r="1.03" fill="#b01830" opacity="0.59"/><circle cx="61.6" cy="103.6" r="0.82" fill="#c02040" opacity="0.58"/><circle cx="65.2" cy="102.0" r="1.13" fill="#d02018" opacity="0.61"/><circle cx="58.1" cy="100.5" r="0.96" fill="#c02040" opacity="0.56"/><circle cx="69.1" cy="108.8" r="0.93" fill="#d02018" opacity="0.88"/><circle cx="64.5" cy="93.9" r="1.15" fill="#d02018" opacity="0.54"/><circle cx="68.3" cy="96.3" r="1.03" fill="#c02040" opacity="0.77"/><circle cx="66.4" cy="103.7" r="0.67" fill="#b01830" opacity="0.74"/>
<circle cx="86.1" cy="101.8" r="0.74" fill="#c02040" opacity="0.46"/><circle cx="88.2" cy="88.5" r="1.23" fill="#b01830" opacity="0.85"/><circle cx="95.0" cy="102.9" r="0.80" fill="#e03028" opacity="0.82"/><circle cx="83.0" cy="97.9" r="0.98" fill="#e03028" opacity="0.48"/><circle cx="89.7" cy="102.2" r="1.01" fill="#b01830" opacity="0.54"/><circle cx="97.5" cy="98.6" r="1.07" fill="#e03028" opacity="0.54"/><circle cx="90.3" cy="97.5" r="1.10" fill="#c02040" opacity="0.48"/><circle cx="87.5" cy="101.4" r="1.21" fill="#e03028" opacity="0.60"/><circle cx="97.1" cy="93.2" r="0.64" fill="#d02018" opacity="0.56"/><circle cx="104.6" cy="96.0" r="0.70" fill="#d02018" opacity="0.89"/><circle cx="87.1" cy="90.6" r="1.15" fill="#b01830" opacity="0.65"/><circle cx="94.2" cy="89.7" r="0.60" fill="#d02018" opacity="0.84"/><circle cx="100.4" cy="101.1" r="0.74" fill="#e03028" opacity="0.81"/><circle cx="84.5" cy="97.5" r="0.85" fill="#b01830" opacity="0.47"/><circle cx="89.5" cy="88.7" r="1.04" fill="#d02018" opacity="0.58"/><circle cx="99.3" cy="100.2" r="0.87" fill="#b01830" opacity="0.89"/><circle cx="92.3" cy="99.3" r="0.82" fill="#e03028" opacity="0.72"/><circle cx="97.6" cy="92.0" r="1.05" fill="#c02040" opacity="0.47"/><circle cx="92.0" cy="90.2" r="1.14" fill="#e03028" opacity="0.43"/><circle cx="105.3" cy="95.9" r="1.20" fill="#d02018" opacity="0.69"/><circle cx="90.3" cy="98.9" r="0.95" fill="#e03028" opacity="0.62"/><circle cx="90.2" cy="93.3" r="0.68" fill="#c02040" opacity="0.57"/><circle cx="85.9" cy="100.6" r="1.22" fill="#c02040" opacity="0.64"/><circle cx="94.7" cy="103.8" r="1.08" fill="#b01830" opacity="0.59"/><circle cx="80.1" cy="93.5" r="0.94" fill="#e03028" opacity="0.62"/><circle cx="94.9" cy="102.1" r="0.61" fill="#d02018" opacity="0.76"/><circle cx="82.7" cy="98.0" r="1.29" fill="#b01830" opacity="0.55"/><circle cx="97.4" cy="94.8" r="0.79" fill="#c02040" opacity="0.85"/><circle cx="102.2" cy="96.6" r="1.10" fill="#e03028" opacity="0.79"/><circle cx="81.2" cy="97.1" r="0.78" fill="#c02040" opacity="0.77"/><circle cx="99.4" cy="99.0" r="0.95" fill="#c02040" opacity="0.66"/><circle cx="80.4" cy="92.2" r="0.62" fill="#d02018" opacity="0.76"/><circle cx="88.6" cy="101.0" r="1.06" fill="#e03028" opacity="0.85"/><circle cx="98.7" cy="98.8" r="0.98" fill="#b01830" opacity="0.46"/><circle cx="96.3" cy="101.9" r="0.78" fill="#c02040" opacity="0.87"/><circle cx="91.0" cy="95.3" r="0.66" fill="#e03028" opacity="0.72"/><circle cx="97.6" cy="89.1" r="1.20" fill="#c02040" opacity="0.89"/><circle cx="80.5" cy="92.2" r="1.14" fill="#e03028" opacity="0.47"/><circle cx="89.5" cy="95.5" r="0.62" fill="#d02018" opacity="0.48"/><circle cx="92.0" cy="100.3" r="0.66" fill="#e03028" opacity="0.77"/><circle cx="88.2" cy="89.5" r="1.08" fill="#c02040" opacity="0.65"/><circle cx="96.4" cy="100.9" r="1.17" fill="#d02018" opacity="0.47"/><circle cx="89.5" cy="91.5" r="0.95" fill="#e03028" opacity="0.52"/><circle cx="104.9" cy="96.3" r="0.92" fill="#d02018" opacity="0.76"/><circle cx="87.5" cy="89.9" r="0.65" fill="#e03028" opacity="0.83"/><circle cx="86.7" cy="94.3" r="0.78" fill="#d02018" opacity="0.42"/><circle cx="82.6" cy="93.7" r="1.01" fill="#c02040" opacity="0.82"/><circle cx="102.2" cy="99.2" r="1.01" fill="#e03028" opacity="0.49"/><circle cx="82.1" cy="91.3" r="1.18" fill="#d02018" opacity="0.42"/><circle cx="95.2" cy="96.6" r="1.30" fill="#b01830" opacity="0.58"/><circle cx="96.2" cy="92.0" r="1.05" fill="#c02040" opacity="0.69"/><circle cx="85.9" cy="96.3" r="0.82" fill="#c02040" opacity="0.86"/><circle cx="101.3" cy="101.3" r="0.67" fill="#c02040" opacity="0.69"/><circle cx="95.5" cy="99.8" r="1.04" fill="#d02018" opacity="0.45"/><circle cx="80.3" cy="91.9" r="1.11" fill="#b01830" opacity="0.57"/><circle cx="105.3" cy="94.8" r="1.07" fill="#c02040" opacity="0.55"/><circle cx="92.4" cy="89.1" r="1.18" fill="#b01830" opacity="0.58"/><circle cx="102.5" cy="98.7" r="0.94" fill="#b01830" opacity="0.64"/><circle cx="88.9" cy="94.3" r="0.92" fill="#e03028" opacity="0.41"/><circle cx="86.5" cy="99.2" r="0.68" fill="#b01830" opacity="0.42"/><circle cx="92.5" cy="88.9" r="1.22" fill="#c02040" opacity="0.56"/><circle cx="93.8" cy="100.4" r="1.26" fill="#c02040" opacity="0.89"/><circle cx="83.7" cy="95.3" r="1.03" fill="#e03028" opacity="0.45"/><circle cx="94.1" cy="102.7" r="0.98" fill="#e03028" opacity="0.42"/><circle cx="94.7" cy="89.6" r="0.95" fill="#b01830" opacity="0.66"/><circle cx="83.3" cy="95.3" r="0.93" fill="#b01830" opacity="0.77"/><circle cx="90.6" cy="90.6" r="1.22" fill="#c02040" opacity="0.60"/><circle cx="101.8" cy="91.0" r="0.97" fill="#b01830" opacity="0.46"/><circle cx="103.8" cy="100.1" r="0.73" fill="#d02018" opacity="0.74"/><circle cx="99.0" cy="95.2" r="0.78" fill="#e03028" opacity="0.80"/><circle cx="80.4" cy="98.3" r="0.82" fill="#b01830" opacity="0.47"/><circle cx="91.7" cy="90.0" r="0.69" fill="#e03028" opacity="0.86"/><circle cx="95.3" cy="94.4" r="0.81" fill="#b01830" opacity="0.80"/><circle cx="101.7" cy="90.6" r="1.12" fill="#d02018" opacity="0.72"/><circle cx="81.7" cy="92.6" r="0.69" fill="#d02018" opacity="0.70"/><circle cx="98.0" cy="100.3" r="1.13" fill="#c02040" opacity="0.49"/><circle cx="88.2" cy="95.6" r="1.03" fill="#d02018" opacity="0.53"/><circle cx="86.8" cy="98.8" r="0.65" fill="#c02040" opacity="0.44"/><circle cx="89.9" cy="102.0" r="0.73" fill="#c02040" opacity="0.50"/><circle cx="81.2" cy="97.8" r="1.23" fill="#c02040" opacity="0.49"/><circle cx="90.1" cy="97.2" r="1.07" fill="#c02040" opacity="0.49"/><circle cx="98.5" cy="92.5" r="0.88" fill="#e03028" opacity="0.52"/><circle cx="96.3" cy="102.4" r="1.12" fill="#c02040" opacity="0.55"/><circle cx="101.3" cy="90.9" r="0.93" fill="#b01830" opacity="0.51"/><circle cx="100.8" cy="96.3" r="1.21" fill="#e03028" opacity="0.48"/><circle cx="85.9" cy="95.1" r="1.11" fill="#b01830" opacity="0.50"/><circle cx="94.2" cy="97.6" r="0.63" fill="#d02018" opacity="0.70"/><circle cx="88.5" cy="97.0" r="0.82" fill="#c02040" opacity="0.56"/><circle cx="91.4" cy="90.7" r="0.70" fill="#c02040" opacity="0.60"/><circle cx="99.6" cy="102.3" r="1.07" fill="#e03028" opacity="0.54"/>
<circle cx="82.8" cy="35.2" r="1.03" fill="#e03028" opacity="0.34"/><circle cx="85.4" cy="44.2" r="1.11" fill="#b01830" opacity="0.37"/><circle cx="74.7" cy="26.4" r="1.02" fill="#d02018" opacity="0.40"/><circle cx="68.8" cy="45.0" r="0.94" fill="#b01830" opacity="0.76"/><circle cx="83.4" cy="40.4" r="0.86" fill="#e03028" opacity="0.37"/><circle cx="73.0" cy="46.0" r="0.82" fill="#d02018" opacity="0.72"/><circle cx="74.7" cy="45.3" r="0.78" fill="#c02040" opacity="0.38"/><circle cx="73.4" cy="29.7" r="1.06" fill="#c02040" opacity="0.39"/><circle cx="85.7" cy="26.9" r="0.88" fill="#b01830" opacity="0.52"/><circle cx="87.8" cy="32.3" r="1.03" fill="#e03028" opacity="0.69"/><circle cx="88.7" cy="31.2" r="0.67" fill="#c02040" opacity="0.72"/><circle cx="91.9" cy="35.5" r="1.09" fill="#c02040" opacity="0.57"/><circle cx="79.6" cy="38.1" r="1.15" fill="#b01830" opacity="0.79"/><circle cx="79.1" cy="38.7" r="0.69" fill="#b01830" opacity="0.67"/><circle cx="78.7" cy="41.5" r="1.11" fill="#e03028" opacity="0.37"/><circle cx="83.0" cy="35.4" r="0.97" fill="#e03028" opacity="0.68"/><circle cx="79.1" cy="33.1" r="0.83" fill="#b01830" opacity="0.58"/><circle cx="62.7" cy="32.7" r="0.67" fill="#d02018" opacity="0.41"/><circle cx="67.7" cy="40.5" r="1.04" fill="#e03028" opacity="0.64"/><circle cx="89.7" cy="36.7" r="0.76" fill="#d02018" opacity="0.70"/><circle cx="83.4" cy="32.4" r="0.68" fill="#d02018" opacity="0.38"/><circle cx="62.5" cy="38.7" r="0.72" fill="#c02040" opacity="0.77"/><circle cx="73.3" cy="41.7" r="1.02" fill="#d02018" opacity="0.73"/><circle cx="84.1" cy="45.6" r="0.69" fill="#c02040" opacity="0.58"/><circle cx="64.9" cy="36.0" r="1.14" fill="#d02018" opacity="0.77"/><circle cx="73.8" cy="43.6" r="1.03" fill="#c02040" opacity="0.65"/><circle cx="68.9" cy="31.4" r="0.62" fill="#c02040" opacity="0.53"/><circle cx="92.4" cy="34.9" r="0.95" fill="#d02018" opacity="0.54"/><circle cx="77.7" cy="32.8" r="1.20" fill="#b01830" opacity="0.44"/><circle cx="76.5" cy="42.2" r="0.71" fill="#c02040" opacity="0.79"/><circle cx="82.2" cy="31.4" r="1.17" fill="#b01830" opacity="0.69"/><circle cx="62.6" cy="32.1" r="0.75" fill="#c02040" opacity="0.72"/><circle cx="83.0" cy="39.6" r="0.80" fill="#b01830" opacity="0.79"/><circle cx="64.5" cy="38.9" r="1.00" fill="#e03028" opacity="0.74"/><circle cx="77.7" cy="41.9" r="0.75" fill="#c02040" opacity="0.56"/><circle cx="70.9" cy="34.1" r="0.61" fill="#e03028" opacity="0.37"/><circle cx="70.2" cy="44.6" r="0.69" fill="#d02018" opacity="0.41"/><circle cx="68.4" cy="39.6" r="0.87" fill="#c02040" opacity="0.58"/><circle cx="75.7" cy="44.2" r="1.11" fill="#c02040" opacity="0.52"/><circle cx="75.2" cy="46.7" r="0.67" fill="#c02040" opacity="0.48"/><circle cx="74.3" cy="41.6" r="0.80" fill="#e03028" opacity="0.46"/><circle cx="71.1" cy="29.2" r="0.73" fill="#d02018" opacity="0.56"/><circle cx="81.7" cy="41.7" r="0.81" fill="#d02018" opacity="0.49"/><circle cx="75.6" cy="40.1" r="1.01" fill="#e03028" opacity="0.60"/><circle cx="84.8" cy="32.9" r="0.97" fill="#b01830" opacity="0.38"/><circle cx="81.6" cy="26.4" r="1.18" fill="#e03028" opacity="0.57"/><circle cx="66.1" cy="38.5" r="1.17" fill="#b01830" opacity="0.42"/><circle cx="90.5" cy="39.2" r="0.63" fill="#e03028" opacity="0.41"/><circle cx="73.0" cy="39.9" r="1.14" fill="#c02040" opacity="0.78"/><circle cx="84.0" cy="34.5" r="0.76" fill="#d02018" opacity="0.71"/><circle cx="63.4" cy="40.7" r="1.11" fill="#b01830" opacity="0.31"/><circle cx="74.3" cy="44.8" r="1.18" fill="#d02018" opacity="0.71"/><circle cx="81.0" cy="29.3" r="1.14" fill="#e03028" opacity="0.36"/><circle cx="83.7" cy="27.6" r="0.64" fill="#d02018" opacity="0.57"/><circle cx="90.1" cy="39.4" r="0.91" fill="#d02018" opacity="0.51"/><circle cx="80.0" cy="42.8" r="0.84" fill="#b01830" opacity="0.34"/><circle cx="78.1" cy="28.9" r="0.64" fill="#d02018" opacity="0.79"/><circle cx="87.6" cy="30.9" r="1.06" fill="#d02018" opacity="0.45"/><circle cx="72.7" cy="29.8" r="0.84" fill="#e03028" opacity="0.32"/><circle cx="84.1" cy="36.8" r="1.15" fill="#d02018" opacity="0.75"/><circle cx="75.5" cy="39.6" r="0.93" fill="#b01830" opacity="0.33"/><circle cx="80.6" cy="41.4" r="0.64" fill="#b01830" opacity="0.71"/><circle cx="82.5" cy="33.4" r="1.09" fill="#d02018" opacity="0.41"/><circle cx="69.0" cy="43.1" r="1.05" fill="#c02040" opacity="0.49"/><circle cx="85.4" cy="45.2" r="0.71" fill="#d02018" opacity="0.34"/><circle cx="61.4" cy="33.6" r="0.86" fill="#d02018" opacity="0.65"/><circle cx="80.0" cy="26.2" r="0.98" fill="#d02018" opacity="0.62"/><circle cx="75.8" cy="27.4" r="1.12" fill="#e03028" opacity="0.64"/><circle cx="69.7" cy="37.3" r="0.60" fill="#b01830" opacity="0.45"/><circle cx="81.6" cy="38.6" r="0.91" fill="#d02018" opacity="0.64"/>
<circle cx="67.2" cy="27.1" r="0.87" fill="#d02018" opacity="0.47"/><circle cx="107.8" cy="92.8" r="0.73" fill="#c02040" opacity="0.55"/><circle cx="49.3" cy="109.3" r="0.96" fill="#d02018" opacity="0.26"/><circle cx="102.8" cy="105.6" r="0.57" fill="#e03028" opacity="0.28"/><circle cx="33.5" cy="48.2" r="0.91" fill="#b01830" opacity="0.58"/><circle cx="23.0" cy="66.0" r="0.98" fill="#c02040" opacity="0.42"/><circle cx="30.0" cy="49.7" r="0.69" fill="#b01830" opacity="0.29"/><circle cx="107.3" cy="100.8" r="0.80" fill="#c02040" opacity="0.28"/><circle cx="38.4" cy="45.6" r="0.55" fill="#c02040" opacity="0.37"/><circle cx="29.0" cy="69.2" r="0.98" fill="#d02018" opacity="0.36"/><circle cx="76.3" cy="108.3" r="0.87" fill="#e03028" opacity="0.32"/><circle cx="121.7" cy="73.1" r="0.63" fill="#e03028" opacity="0.42"/><circle cx="53.7" cy="28.4" r="0.90" fill="#d02018" opacity="0.57"/><circle cx="60.5" cy="107.2" r="0.72" fill="#e03028" opacity="0.47"/><circle cx="113.8" cy="88.6" r="0.67" fill="#b01830" opacity="0.45"/><circle cx="25.7" cy="58.8" r="0.70" fill="#e03028" opacity="0.26"/><circle cx="100.4" cy="39.3" r="0.83" fill="#d02018" opacity="0.30"/><circle cx="93.3" cy="107.5" r="0.79" fill="#e03028" opacity="0.41"/><circle cx="100.2" cy="100.4" r="0.96" fill="#c02040" opacity="0.53"/><circle cx="43.9" cy="100.4" r="0.69" fill="#b01830" opacity="0.54"/><circle cx="22.6" cy="67.5" r="0.97" fill="#c02040" opacity="0.28"/><circle cx="114.6" cy="65.9" r="0.90" fill="#c02040" opacity="0.32"/><circle cx="104.1" cy="44.0" r="0.98" fill="#d02018" opacity="0.48"/><circle cx="102.4" cy="41.6" r="0.69" fill="#d02018" opacity="0.27"/><circle cx="67.2" cy="27.0" r="0.88" fill="#b01830" opacity="0.47"/><circle cx="75.2" cy="115.4" r="0.85" fill="#c02040" opacity="0.47"/><circle cx="27.1" cy="85.1" r="0.98" fill="#e03028" opacity="0.60"/><circle cx="45.0" cy="32.6" r="0.70" fill="#c02040" opacity="0.35"/><circle cx="82.8" cy="29.8" r="0.78" fill="#b01830" opacity="0.55"/><circle cx="29.6" cy="79.5" r="0.55" fill="#c02040" opacity="0.38"/><circle cx="70.2" cy="112.5" r="0.54" fill="#b01830" opacity="0.27"/><circle cx="54.1" cy="110.9" r="0.88" fill="#c02040" opacity="0.35"/><circle cx="32.7" cy="95.3" r="0.80" fill="#b01830" opacity="0.32"/><circle cx="108.4" cy="94.3" r="0.64" fill="#b01830" opacity="0.31"/><circle cx="93.2" cy="28.5" r="0.93" fill="#b01830" opacity="0.33"/><circle cx="52.9" cy="106.2" r="0.94" fill="#d02018" opacity="0.39"/><circle cx="26.4" cy="61.1" r="0.55" fill="#b01830" opacity="0.28"/><circle cx="86.3" cy="112.5" r="0.59" fill="#b01830" opacity="0.58"/><circle cx="50.9" cy="30.0" r="0.66" fill="#e03028" opacity="0.44"/><circle cx="118.5" cy="59.4" r="0.55" fill="#c02040" opacity="0.41"/><circle cx="28.2" cy="76.6" r="0.85" fill="#d02018" opacity="0.53"/><circle cx="121.2" cy="77.2" r="0.73" fill="#d02018" opacity="0.31"/><circle cx="115.3" cy="74.5" r="0.90" fill="#b01830" opacity="0.50"/><circle cx="107.8" cy="48.8" r="0.98" fill="#e03028" opacity="0.26"/><circle cx="105.4" cy="38.0" r="0.91" fill="#e03028" opacity="0.41"/><circle cx="25.7" cy="64.6" r="0.78" fill="#c02040" opacity="0.36"/><circle cx="50.6" cy="31.4" r="0.65" fill="#b01830" opacity="0.33"/><circle cx="118.5" cy="73.7" r="0.90" fill="#e03028" opacity="0.45"/><circle cx="26.2" cy="57.8" r="0.99" fill="#d02018" opacity="0.38"/><circle cx="56.4" cy="26.4" r="0.70" fill="#b01830" opacity="0.49"/><circle cx="64.0" cy="31.7" r="0.99" fill="#d02018" opacity="0.45"/><circle cx="24.1" cy="75.9" r="0.53" fill="#e03028" opacity="0.58"/><circle cx="76.7" cy="110.0" r="0.85" fill="#b01830" opacity="0.32"/><circle cx="81.8" cy="112.3" r="0.91" fill="#e03028" opacity="0.58"/><circle cx="80.0" cy="31.2" r="0.79" fill="#d02018" opacity="0.37"/><circle cx="102.3" cy="96.4" r="0.77" fill="#d02018" opacity="0.45"/><circle cx="36.7" cy="95.0" r="0.50" fill="#b01830" opacity="0.29"/><circle cx="104.6" cy="98.6" r="0.97" fill="#c02040" opacity="0.53"/><circle cx="66.1" cy="108.8" r="0.76" fill="#b01830" opacity="0.56"/><circle cx="107.5" cy="94.1" r="0.68" fill="#d02018" opacity="0.40"/><circle cx="25.7" cy="70.2" r="0.96" fill="#d02018" opacity="0.55"/><circle cx="81.7" cy="32.6" r="0.70" fill="#d02018" opacity="0.27"/><circle cx="28.7" cy="88.8" r="0.89" fill="#c02040" opacity="0.49"/><circle cx="95.5" cy="35.5" r="0.53" fill="#c02040" opacity="0.58"/><circle cx="110.0" cy="90.9" r="0.88" fill="#e03028" opacity="0.57"/><circle cx="94.5" cy="108.2" r="0.96" fill="#c02040" opacity="0.54"/><circle cx="103.4" cy="40.3" r="0.72" fill="#c02040" opacity="0.50"/><circle cx="108.1" cy="38.6" r="0.92" fill="#b01830" opacity="0.28"/><circle cx="115.0" cy="61.7" r="0.85" fill="#e03028" opacity="0.59"/><circle cx="64.6" cy="25.6" r="0.78" fill="#c02040" opacity="0.39"/>
</g>
</g>
</defs>
<g transform="translate(89,27)"><rect width="135.5" height="135.5" fill="#050505"/><g clip-path="url(#c1)" style="isolation:isolate">
<use href="#p1b"/>
<use href="#p1g" style="mix-blend-mode:screen"/>
<use href="#p1r" style="mix-blend-mode:screen"/>
</g></g>
<g transform="translate(43,27)"><rect width="44.00" height="44.00" fill="#050505"/><g transform="scale(0.3247232472324723)" opacity="1.0"><g filter="url(#bs)"><use href="#p1b"/></g></g></g>
<g transform="translate(43,73)"><rect width="44.00" height="44.00" fill="#050505"/><g transform="scale(0.3247232472324723)" opacity="1.0"><g filter="url(#bs2)" style="filter:brightness(0.9)"><use href="#p1g"/></g></g></g>
<g transform="translate(43,119)"><rect width="44.00" height="44.00" fill="#050505"/><g transform="scale(0.3247232472324723)" opacity="1.0"><g filter="url(#bs2)" style="filter:brightness(1.4)"><use href="#p1r"/></g></g></g>
<rect x="173" y="153.8" width="45.5" height="3.3" fill="#fff"/>
<g transform="translate(84.2,196.3)"><rect width="137.5" height="136.5" fill="#050505"/><g clip-path="url(#c2)" style="isolation:isolate">
<use href="#p2b"/>
<use href="#p2g" style="mix-blend-mode:screen"/>
<use href="#p2r" style="mix-blend-mode:screen"/>
</g></g>
<g transform="translate(38,196.3)"><rect width="44.50" height="44.50" fill="#050505"/><g transform="scale(0.3236363636363636)" opacity="1.0"><g filter="url(#bs)"><use href="#p2b"/></g></g></g>
<g transform="translate(38,242.6)"><rect width="44.50" height="44.50" fill="#050505"/><g transform="scale(0.3236363636363636)" opacity="1.0"><g filter="url(#bs)" style="filter:brightness(1.25)"><use href="#p2g"/></g></g></g>
<g transform="translate(38,288.7)"><rect width="44.50" height="44.50" fill="#050505"/><g transform="scale(0.3236363636363636)" opacity="1.0"><g filter="url(#bs2)" style="filter:brightness(1.1)"><use href="#p2r"/></g></g></g>
<rect x="170.1" y="324.2" width="45.8" height="3.4" fill="#fff"/>
<text transform="translate(36.0,50.0) rotate(-90)" font-size="7.9" text-anchor="middle" fill="#1c1c1c">hoechst</text>
<text transform="translate(36.0,95.5) rotate(-90)" font-size="7.9" text-anchor="middle" fill="#1c1c1c">CellROX</text>
<text transform="translate(36.0,136.2) rotate(-90)" font-size="7.9" text-anchor="middle" fill="#1c1c1c">Ly-6G</text>
<text transform="translate(31.0,220.6) rotate(-90)" font-size="7.9" text-anchor="middle" fill="#1c1c1c">hoechst</text>
<text transform="translate(31.0,265.5) rotate(-90)" font-size="7.9" text-anchor="middle" fill="#1c1c1c">CellROX</text>
<text transform="translate(31.0,305.8) rotate(-90)" font-size="7.9" text-anchor="middle" fill="#1c1c1c">Ly-6G</text>
<line x1="301.9" y1="28.6" x2="301.9" y2="163.2" stroke="#101010" stroke-width="1.5"/>
<line x1="301.2" y1="162.5" x2="418.1" y2="162.5" stroke="#101010" stroke-width="1.5"/>
<line x1="298.2" y1="31.9" x2="301.9" y2="31.9" stroke="#101010" stroke-width="1.2"/>
<text x="295.0" y="34.699999999999996" font-size="7.7" text-anchor="end" fill="#1c1c1c" >200</text>
<line x1="298.2" y1="64.7" x2="301.9" y2="64.7" stroke="#101010" stroke-width="1.2"/>
<text x="295.0" y="67.5" font-size="7.7" text-anchor="end" fill="#1c1c1c" >150</text>
<line x1="298.2" y1="97.4" x2="301.9" y2="97.4" stroke="#101010" stroke-width="1.2"/>
<text x="295.0" y="100.2" font-size="7.7" text-anchor="end" fill="#1c1c1c" >100</text>
<line x1="298.2" y1="130.4" x2="301.9" y2="130.4" stroke="#101010" stroke-width="1.2"/>
<text x="295.0" y="133.20000000000002" font-size="7.7" text-anchor="end" fill="#1c1c1c" >50</text>
<line x1="321.2" y1="162.5" x2="321.2" y2="166.3" stroke="#101010" stroke-width="1.1"/>
<text x="321.2" y="176.4" font-size="7.7" text-anchor="middle" fill="#1c1c1c" >0</text>
<line x1="340.8" y1="162.5" x2="340.8" y2="166.3" stroke="#101010" stroke-width="1.1"/>
<text x="340.8" y="176.4" font-size="7.7" text-anchor="middle" fill="#1c1c1c" >1</text>
<line x1="360.1" y1="162.5" x2="360.1" y2="166.3" stroke="#101010" stroke-width="1.1"/>
<text x="360.1" y="176.4" font-size="7.7" text-anchor="middle" fill="#1c1c1c" >10</text>
<line x1="379.5" y1="162.5" x2="379.5" y2="166.3" stroke="#101010" stroke-width="1.1"/>
<text x="379.5" y="176.4" font-size="7.7" text-anchor="middle" fill="#1c1c1c" >100</text>
<line x1="398.8" y1="162.5" x2="398.8" y2="166.3" stroke="#101010" stroke-width="1.1"/>
<text x="398.8" y="176.4" font-size="7.7" text-anchor="middle" fill="#1c1c1c" >1000</text>
<text x="360.2" y="189.8" font-size="9.0" text-anchor="middle" fill="#1c1c1c" >LPS (ng/ml)</text>
<text transform="translate(275.3,94.2) rotate(-90)" font-size="8.8" text-anchor="middle" fill="#1c1c1c">Cytoplasmatic ROS level [RFI]</text>
<line x1="321.2" y1="130.0" x2="321.2" y2="139.0" stroke="#1a0008" stroke-width="1.2"/>
<line x1="318.9" y1="130.0" x2="323.5" y2="130.0" stroke="#1a0008" stroke-width="1.6"/>
<line x1="318.9" y1="139.0" x2="323.5" y2="139.0" stroke="#1a0008" stroke-width="1.6"/>
<line x1="340.8" y1="104.7" x2="340.8" y2="130.1" stroke="#1a0008" stroke-width="1.2"/>
<line x1="338.5" y1="104.7" x2="343.1" y2="104.7" stroke="#1a0008" stroke-width="1.6"/>
<line x1="338.5" y1="130.1" x2="343.1" y2="130.1" stroke="#1a0008" stroke-width="1.6"/>
<line x1="360.1" y1="117.4" x2="360.1" y2="135.6" stroke="#1a0008" stroke-width="1.2"/>
<line x1="357.8" y1="117.4" x2="362.40000000000003" y2="117.4" stroke="#1a0008" stroke-width="1.6"/>
<line x1="357.8" y1="135.6" x2="362.40000000000003" y2="135.6" stroke="#1a0008" stroke-width="1.6"/>
<line x1="379.5" y1="126.6" x2="379.5" y2="139.79999999999998" stroke="#1a0008" stroke-width="1.2"/>
<line x1="377.2" y1="126.6" x2="381.8" y2="126.6" stroke="#1a0008" stroke-width="1.6"/>
<line x1="377.2" y1="139.79999999999998" x2="381.8" y2="139.79999999999998" stroke="#1a0008" stroke-width="1.6"/>
<line x1="398.6" y1="112.4" x2="398.6" y2="132.4" stroke="#1a0008" stroke-width="1.2"/>
<line x1="396.3" y1="112.4" x2="400.90000000000003" y2="112.4" stroke="#1a0008" stroke-width="1.6"/>
<line x1="396.3" y1="132.4" x2="400.90000000000003" y2="132.4" stroke="#1a0008" stroke-width="1.6"/>
<line x1="321.2" y1="127.0" x2="321.2" y2="136.0" stroke="#101010" stroke-width="1.2"/>
<line x1="318.9" y1="127.0" x2="323.5" y2="127.0" stroke="#101010" stroke-width="1.6"/>
<line x1="318.9" y1="136.0" x2="323.5" y2="136.0" stroke="#101010" stroke-width="1.6"/>
<line x1="340.8" y1="91.4" x2="340.8" y2="126.4" stroke="#101010" stroke-width="1.2"/>
<line x1="338.5" y1="91.4" x2="343.1" y2="91.4" stroke="#101010" stroke-width="1.6"/>
<line x1="338.5" y1="126.4" x2="343.1" y2="126.4" stroke="#101010" stroke-width="1.6"/>
<line x1="360.1" y1="108.5" x2="360.1" y2="133.5" stroke="#101010" stroke-width="1.2"/>
<line x1="357.8" y1="108.5" x2="362.40000000000003" y2="108.5" stroke="#101010" stroke-width="1.6"/>
<line x1="357.8" y1="133.5" x2="362.40000000000003" y2="133.5" stroke="#101010" stroke-width="1.6"/>
<line x1="379.5" y1="117.8" x2="379.5" y2="136.2" stroke="#101010" stroke-width="1.2"/>
<line x1="377.2" y1="117.8" x2="381.8" y2="117.8" stroke="#101010" stroke-width="1.6"/>
<line x1="377.2" y1="136.2" x2="381.8" y2="136.2" stroke="#101010" stroke-width="1.6"/>
<line x1="398.6" y1="103.3" x2="398.6" y2="130.1" stroke="#101010" stroke-width="1.2"/>
<line x1="396.3" y1="103.3" x2="400.90000000000003" y2="103.3" stroke="#101010" stroke-width="1.6"/>
<line x1="396.3" y1="130.1" x2="400.90000000000003" y2="130.1" stroke="#101010" stroke-width="1.6"/>
<polyline points="321.2,134.5 340.8,117.4 360.1,126.5 379.5,133.2 398.6,122.4" fill="none" stroke="#7a0026" stroke-width="2"/>
<polyline points="321.2,131.5 340.8,108.9 360.1,121 379.5,127 398.6,116.7" fill="none" stroke="#000" stroke-width="2"/>
<path d="M321.2,131.7 L323.58,134.5 L321.2,137.3 L318.82,134.5 Z" fill="#8a0a30"/>
<path d="M340.8,114.60000000000001 L343.18,117.4 L340.8,120.2 L338.42,117.4 Z" fill="#8a0a30"/>
<path d="M360.1,123.7 L362.48,126.5 L360.1,129.3 L357.72,126.5 Z" fill="#8a0a30"/>
<path d="M379.5,130.39999999999998 L381.88,133.2 L379.5,136.0 L377.12,133.2 Z" fill="#8a0a30"/>
<path d="M398.6,119.60000000000001 L400.98,122.4 L398.6,125.2 L396.22,122.4 Z" fill="#8a0a30"/>
<path d="M321.2,128.7 L323.58,131.5 L321.2,134.3 L318.82,131.5 Z" fill="#000"/>
<path d="M340.8,106.10000000000001 L343.18,108.9 L340.8,111.7 L338.42,108.9 Z" fill="#000"/>
<path d="M360.1,118.2 L362.48,121 L360.1,123.8 L357.72,121 Z" fill="#000"/>
<path d="M379.5,124.2 L381.88,127 L379.5,129.8 L377.12,127 Z" fill="#000"/>
<path d="M398.6,113.9 L400.98,116.7 L398.6,119.5 L396.22,116.7 Z" fill="#000"/>
<line x1="307.1" y1="33.4" x2="329.4" y2="33.4" stroke="#7a0026" stroke-width="2"/>
<path d="M318.3,30.799999999999997 L320.51,33.4 L318.3,36.0 L316.09000000000003,33.4 Z" fill="#8a0a30"/>
<line x1="307.1" y1="45.1" x2="329.4" y2="45.1" stroke="#000" stroke-width="2"/>
<path d="M318.3,42.5 L320.51,45.1 L318.3,47.7 L316.09000000000003,45.1 Z" fill="#000"/>
<text x="332.3" y="36.4" font-size="7.6" text-anchor="start" fill="#1c1c1c" >non-aged neutrophils</text>
<text x="332.3" y="47.3" font-size="7.6" text-anchor="start" fill="#1c1c1c" >aged neutrophils</text>
<line x1="302.0" y1="200.3" x2="302.0" y2="336.59999999999997" stroke="#101010" stroke-width="1.5"/>
<line x1="301.3" y1="335.9" x2="418.6" y2="335.9" stroke="#101010" stroke-width="1.5"/>
<line x1="298.4" y1="204.1" x2="302.0" y2="204.1" stroke="#101010" stroke-width="1.2"/>
<text x="295.3" y="206.9" font-size="8.0" text-anchor="end" fill="#1c1c1c" >40000</text>
<line x1="298.4" y1="236.8" x2="302.0" y2="236.8" stroke="#101010" stroke-width="1.2"/>
<text x="295.3" y="239.60000000000002" font-size="8.0" text-anchor="end" fill="#1c1c1c" >30000</text>
<line x1="298.4" y1="269.5" x2="302.0" y2="269.5" stroke="#101010" stroke-width="1.2"/>
<text x="295.3" y="272.3" font-size="8.0" text-anchor="end" fill="#1c1c1c" >20000</text>
<line x1="298.4" y1="302.2" x2="302.0" y2="302.2" stroke="#101010" stroke-width="1.2"/>
<text x="295.3" y="305.0" font-size="8.0" text-anchor="end" fill="#1c1c1c" >10000</text>
<line x1="321.4" y1="335.9" x2="321.4" y2="339.7" stroke="#101010" stroke-width="1.1"/>
<text x="321.4" y="349.6" font-size="7.7" text-anchor="middle" fill="#1c1c1c" >0</text>
<line x1="341.1" y1="335.9" x2="341.1" y2="339.7" stroke="#101010" stroke-width="1.1"/>
<text x="341.1" y="349.6" font-size="7.7" text-anchor="middle" fill="#1c1c1c" >1</text>
<line x1="360.8" y1="335.9" x2="360.8" y2="339.7" stroke="#101010" stroke-width="1.1"/>
<text x="360.8" y="349.6" font-size="7.7" text-anchor="middle" fill="#1c1c1c" >10</text>
<line x1="380.5" y1="335.9" x2="380.5" y2="339.7" stroke="#101010" stroke-width="1.1"/>
<text x="380.5" y="349.6" font-size="7.7" text-anchor="middle" fill="#1c1c1c" >100</text>
<line x1="400.2" y1="335.9" x2="400.2" y2="339.7" stroke="#101010" stroke-width="1.1"/>
<text x="400.2" y="349.6" font-size="7.7" text-anchor="middle" fill="#1c1c1c" >1000</text>
<text x="360.9" y="362.9" font-size="9.0" text-anchor="middle" fill="#1c1c1c" >LPS (ng/ml)</text>
<text transform="translate(266.3,268.5) rotate(-90)" font-size="8.7" text-anchor="middle" fill="#1c1c1c">Mitochondrial/nuclear ROS level [RFI]</text>
<line x1="321.5" y1="262" x2="321.5" y2="276" stroke="#1a0008" stroke-width="1.2"/>
<line x1="319.2" y1="262" x2="323.8" y2="262" stroke="#1a0008" stroke-width="1.6"/>
<line x1="319.2" y1="276" x2="323.8" y2="276" stroke="#1a0008" stroke-width="1.6"/>
<line x1="341.2" y1="263.7" x2="341.2" y2="272.7" stroke="#1a0008" stroke-width="1.2"/>
<line x1="338.9" y1="263.7" x2="343.5" y2="263.7" stroke="#1a0008" stroke-width="1.6"/>
<line x1="338.9" y1="272.7" x2="343.5" y2="272.7" stroke="#1a0008" stroke-width="1.6"/>
<line x1="361.0" y1="257.6" x2="361.0" y2="271.6" stroke="#1a0008" stroke-width="1.2"/>
<line x1="358.7" y1="257.6" x2="363.3" y2="257.6" stroke="#1a0008" stroke-width="1.6"/>
<line x1="358.7" y1="271.6" x2="363.3" y2="271.6" stroke="#1a0008" stroke-width="1.6"/>
<line x1="380.4" y1="262.3" x2="380.4" y2="279.7" stroke="#1a0008" stroke-width="1.2"/>
<line x1="378.09999999999997" y1="262.3" x2="382.7" y2="262.3" stroke="#1a0008" stroke-width="1.6"/>
<line x1="378.09999999999997" y1="279.7" x2="382.7" y2="279.7" stroke="#1a0008" stroke-width="1.6"/>
<line x1="400.2" y1="258.5" x2="400.2" y2="266.5" stroke="#1a0008" stroke-width="1.2"/>
<line x1="397.9" y1="258.5" x2="402.5" y2="258.5" stroke="#1a0008" stroke-width="1.6"/>
<line x1="397.9" y1="266.5" x2="402.5" y2="266.5" stroke="#1a0008" stroke-width="1.6"/>
<line x1="321.5" y1="262" x2="321.5" y2="276" stroke="#101010" stroke-width="1.2"/>
<line x1="319.2" y1="262" x2="323.8" y2="262" stroke="#101010" stroke-width="1.6"/>
<line x1="319.2" y1="276" x2="323.8" y2="276" stroke="#101010" stroke-width="1.6"/>
<line x1="341.2" y1="262.59999999999997" x2="341.2" y2="276.2" stroke="#101010" stroke-width="1.2"/>
<line x1="338.9" y1="262.59999999999997" x2="343.5" y2="262.59999999999997" stroke="#101010" stroke-width="1.6"/>
<line x1="338.9" y1="276.2" x2="343.5" y2="276.2" stroke="#101010" stroke-width="1.6"/>
<line x1="361.0" y1="259.6" x2="361.0" y2="274.0" stroke="#101010" stroke-width="1.2"/>
<line x1="358.7" y1="259.6" x2="363.3" y2="259.6" stroke="#101010" stroke-width="1.6"/>
<line x1="358.7" y1="274.0" x2="363.3" y2="274.0" stroke="#101010" stroke-width="1.6"/>
<line x1="380.4" y1="262.1" x2="380.4" y2="281.9" stroke="#101010" stroke-width="1.2"/>
<line x1="378.09999999999997" y1="262.1" x2="382.7" y2="262.1" stroke="#101010" stroke-width="1.6"/>
<line x1="378.09999999999997" y1="281.9" x2="382.7" y2="281.9" stroke="#101010" stroke-width="1.6"/>
<line x1="400.2" y1="256.5" x2="400.2" y2="269.1" stroke="#101010" stroke-width="1.2"/>
<line x1="397.9" y1="256.5" x2="402.5" y2="256.5" stroke="#101010" stroke-width="1.6"/>
<line x1="397.9" y1="269.1" x2="402.5" y2="269.1" stroke="#101010" stroke-width="1.6"/>
<polyline points="321.5,269 341.2,269.4 361.0,266.8 380.4,272.0 400.2,262.8" fill="none" stroke="#000" stroke-width="1.8"/>
<polyline points="321.5,269 341.2,268.2 361.0,264.6 380.4,271.0 400.2,262.5" fill="none" stroke="#7a0026" stroke-width="1.8"/>
<path d="M321.5,266.2 L323.88,269 L321.5,271.8 L319.12,269 Z" fill="#8a0a30"/>
<path d="M341.2,265.4 L343.58,268.2 L341.2,271.0 L338.82,268.2 Z" fill="#8a0a30"/>
<path d="M361.0,261.8 L363.38,264.6 L361.0,267.40000000000003 L358.62,264.6 Z" fill="#8a0a30"/>
<path d="M380.4,268.2 L382.78,271.0 L380.4,273.8 L378.02,271.0 Z" fill="#8a0a30"/>
<path d="M400.2,259.7 L402.58,262.5 L400.2,265.3 L397.82,262.5 Z" fill="#8a0a30"/>
<path d="M321.5,266.1 L323.965,269 L321.5,271.9 L319.035,269 Z" fill="#000"/>
<path d="M341.2,266.5 L343.66499999999996,269.4 L341.2,272.29999999999995 L338.735,269.4 Z" fill="#000"/>
<path d="M361.0,263.90000000000003 L363.465,266.8 L361.0,269.7 L358.535,266.8 Z" fill="#000"/>
<path d="M380.4,269.1 L382.86499999999995,272.0 L380.4,274.9 L377.935,272.0 Z" fill="#000"/>
<path d="M400.2,259.90000000000003 L402.66499999999996,262.8 L400.2,265.7 L397.735,262.8 Z" fill="#000"/>
<line x1="47.7" y1="405.4" x2="47.7" y2="559.7" stroke="#101010" stroke-width="1.5"/>
<line x1="47.0" y1="559.0" x2="256.2" y2="559.0" stroke="#101010" stroke-width="1.5"/>
<line x1="44.300000000000004" y1="408.5" x2="47.7" y2="408.5" stroke="#101010" stroke-width="1.2"/>
<text x="41.3" y="411.2" font-size="7.6" text-anchor="end" fill="#1c1c1c" >8</text>
<line x1="44.300000000000004" y1="451.5" x2="47.7" y2="451.5" stroke="#101010" stroke-width="1.2"/>
<text x="41.3" y="454.2" font-size="7.6" text-anchor="end" fill="#1c1c1c" >6</text>
<line x1="44.300000000000004" y1="494.5" x2="47.7" y2="494.5" stroke="#101010" stroke-width="1.2"/>
<text x="41.3" y="497.2" font-size="7.6" text-anchor="end" fill="#1c1c1c" >4</text>
<line x1="44.300000000000004" y1="537.5" x2="47.7" y2="537.5" stroke="#101010" stroke-width="1.2"/>
<text x="41.3" y="540.2" font-size="7.6" text-anchor="end" fill="#1c1c1c" >2</text>
<text transform="translate(68.90,566.2) rotate(-45)" font-size="7.6" text-anchor="end" fill="#1c1c1c">IL-1α</text>
<text transform="translate(93.60,566.2) rotate(-45)" font-size="7.6" text-anchor="end" fill="#1c1c1c">IL-1β</text>
<rect x="115.20" y="556.4" width="6.8" height="2.6000000000000227" fill="#000"/>
<text transform="translate(118.30,566.2) rotate(-45)" font-size="7.6" text-anchor="end" fill="#1c1c1c">IL-6</text>
<rect x="131.70" y="554.8" width="6.8" height="4.2000000000000455" fill="#a6002a"/>
<line x1="135.10000000000002" y1="549.6" x2="135.10000000000002" y2="555.3" stroke="#333" stroke-width="1.1"/>
<line x1="132.8" y1="549.6" x2="137.40000000000003" y2="549.6" stroke="#222" stroke-width="1.4"/>
<rect x="139.90" y="557.6" width="6.8" height="1.3999999999999773" fill="#000"/>
<line x1="143.3" y1="556.2" x2="143.3" y2="558.1" stroke="#333" stroke-width="1.1"/>
<line x1="141.0" y1="556.2" x2="145.60000000000002" y2="556.2" stroke="#222" stroke-width="1.4"/>
<text transform="translate(143.00,566.2) rotate(-45)" font-size="7.6" text-anchor="end" fill="#1c1c1c">IFNγ</text>
<text transform="translate(167.70,566.2) rotate(-45)" font-size="7.6" text-anchor="end" fill="#1c1c1c">TNF</text>
<rect x="181.10" y="558.0" width="6.8" height="1.0" fill="#a6002a"/>
<line x1="184.5" y1="556.1" x2="184.5" y2="558.5" stroke="#333" stroke-width="1.1"/>
<line x1="182.2" y1="556.1" x2="186.8" y2="556.1" stroke="#222" stroke-width="1.4"/>
<text transform="translate(192.40,566.2) rotate(-45)" font-size="7.6" text-anchor="end" fill="#1c1c1c">CCL2</text>
<text transform="translate(217.10,566.2) rotate(-45)" font-size="7.6" text-anchor="end" fill="#1c1c1c">IL-4</text>
<rect x="238.70" y="557.0" width="6.8" height="2.0" fill="#000"/>
<text transform="translate(241.80,566.2) rotate(-45)" font-size="7.6" text-anchor="end" fill="#1c1c1c">IL-10</text>
<text x="151.7" y="593.5" font-size="8.8" text-anchor="middle" fill="#1c1c1c" >Unstimulated</text>
<text transform="translate(30.8,481.3) rotate(-90)" font-size="8.7" text-anchor="middle" fill="#1c1c1c">Intracellular expression level [RFI]</text>
<rect x="54.9" y="410.8" width="21.3" height="4.0" fill="#a6002a"/>
<rect x="54.9" y="422.6" width="21.3" height="4.1" fill="#000"/>
<text x="79.8" y="415.4" font-size="7.6" text-anchor="start" fill="#1c1c1c" >non-aged neutrophils</text>
<text x="79.8" y="426.7" font-size="7.6" text-anchor="start" fill="#1c1c1c" >aged neutrophils</text>
<line x1="302.0" y1="403.2" x2="302.0" y2="558.7" stroke="#101010" stroke-width="1.5"/>
<line x1="301.3" y1="558.0" x2="512.7" y2="558.0" stroke="#101010" stroke-width="1.5"/>
<line x1="298.6" y1="405.8" x2="302.0" y2="405.8" stroke="#101010" stroke-width="1.2"/>
<text x="295.5" y="408.5" font-size="7.6" text-anchor="end" fill="#1c1c1c" >8</text>
<line x1="298.6" y1="449.5" x2="302.0" y2="449.5" stroke="#101010" stroke-width="1.2"/>
<text x="295.5" y="452.2" font-size="7.6" text-anchor="end" fill="#1c1c1c" >6</text>
<line x1="298.6" y1="493.2" x2="302.0" y2="493.2" stroke="#101010" stroke-width="1.2"/>
<text x="295.5" y="495.9" font-size="7.6" text-anchor="end" fill="#1c1c1c" >4</text>
<line x1="298.6" y1="536.9" x2="302.0" y2="536.9" stroke="#101010" stroke-width="1.2"/>
<text x="295.5" y="539.6" font-size="7.6" text-anchor="end" fill="#1c1c1c" >2</text>
<text transform="translate(324.10,565.9) rotate(-45)" font-size="7.6" text-anchor="end" fill="#1c1c1c">IL-1α</text>
<rect x="337.40" y="517.7" width="6.8" height="40.299999999999955" fill="#a6002a"/>
<line x1="340.8" y1="498.3" x2="340.8" y2="518.2" stroke="#333" stroke-width="1.1"/>
<line x1="338.5" y1="498.3" x2="343.1" y2="498.3" stroke="#222" stroke-width="1.4"/>
<rect x="345.60" y="520.1" width="6.8" height="37.89999999999998" fill="#000"/>
<line x1="349.0" y1="503.7" x2="349.0" y2="520.6" stroke="#333" stroke-width="1.1"/>
<line x1="346.7" y1="503.7" x2="351.3" y2="503.7" stroke="#222" stroke-width="1.4"/>
<text transform="translate(349.10,565.9) rotate(-45)" font-size="7.6" text-anchor="end" fill="#1c1c1c">IL-1β</text>
<rect x="362.40" y="471.8" width="6.8" height="86.19999999999999" fill="#a6002a"/>
<line x1="365.8" y1="453.9" x2="365.8" y2="472.3" stroke="#333" stroke-width="1.1"/>
<line x1="363.5" y1="453.9" x2="368.1" y2="453.9" stroke="#222" stroke-width="1.4"/>
<rect x="370.60" y="438.0" width="6.8" height="120.0" fill="#000"/>
<line x1="374.0" y1="408.4" x2="374.0" y2="438.5" stroke="#333" stroke-width="1.1"/>
<line x1="371.7" y1="408.4" x2="376.3" y2="408.4" stroke="#222" stroke-width="1.4"/>
<text transform="translate(374.10,565.9) rotate(-45)" font-size="7.6" text-anchor="end" fill="#1c1c1c">IL-6</text>
<rect x="387.40" y="546.5" width="6.8" height="11.5" fill="#a6002a"/>
<line x1="390.8" y1="541.3" x2="390.8" y2="547.0" stroke="#333" stroke-width="1.1"/>
<line x1="388.5" y1="541.3" x2="393.1" y2="541.3" stroke="#222" stroke-width="1.4"/>
<rect x="395.60" y="550.2" width="6.8" height="7.7999999999999545" fill="#000"/>
<line x1="399.0" y1="548.3" x2="399.0" y2="550.7" stroke="#333" stroke-width="1.1"/>
<line x1="396.7" y1="548.3" x2="401.3" y2="548.3" stroke="#222" stroke-width="1.4"/>
<text transform="translate(399.10,565.9) rotate(-45)" font-size="7.6" text-anchor="end" fill="#1c1c1c">IFNγ</text>
<rect x="412.40" y="548.3" width="6.8" height="9.700000000000045" fill="#a6002a"/>
<line x1="415.8" y1="545.2" x2="415.8" y2="548.8" stroke="#333" stroke-width="1.1"/>
<line x1="413.5" y1="545.2" x2="418.1" y2="545.2" stroke="#222" stroke-width="1.4"/>
<rect x="420.60" y="544.2" width="6.8" height="13.799999999999955" fill="#000"/>
<line x1="424.0" y1="541.7" x2="424.0" y2="544.7" stroke="#333" stroke-width="1.1"/>
<line x1="421.7" y1="541.7" x2="426.3" y2="541.7" stroke="#222" stroke-width="1.4"/>
<text transform="translate(424.10,565.9) rotate(-45)" font-size="7.6" text-anchor="end" fill="#1c1c1c">TNF</text>
<text transform="translate(449.10,565.9) rotate(-45)" font-size="7.6" text-anchor="end" fill="#1c1c1c">CCL2</text>
<rect x="462.40" y="556.7" width="6.8" height="1.2999999999999545" fill="#a6002a"/>
<line x1="465.8" y1="552.3" x2="465.8" y2="557.2" stroke="#333" stroke-width="1.1"/>
<line x1="463.5" y1="552.3" x2="468.1" y2="552.3" stroke="#222" stroke-width="1.4"/>
<rect x="470.60" y="553.1" width="6.8" height="4.899999999999977" fill="#000"/>
<line x1="474.0" y1="544.6" x2="474.0" y2="553.6" stroke="#333" stroke-width="1.1"/>
<line x1="471.7" y1="544.6" x2="476.3" y2="544.6" stroke="#222" stroke-width="1.4"/>
<text transform="translate(474.10,565.9) rotate(-45)" font-size="7.6" text-anchor="end" fill="#1c1c1c">IL-4</text>
<rect x="487.40" y="541.3" width="6.8" height="16.700000000000045" fill="#a6002a"/>
<line x1="490.8" y1="534.8" x2="490.8" y2="541.8" stroke="#333" stroke-width="1.1"/>
<line x1="488.5" y1="534.8" x2="493.1" y2="534.8" stroke="#222" stroke-width="1.4"/>
<rect x="495.60" y="543.1" width="6.8" height="14.899999999999977" fill="#000"/>
<line x1="499.0" y1="538.5" x2="499.0" y2="543.6" stroke="#333" stroke-width="1.1"/>
<line x1="496.7" y1="538.5" x2="501.3" y2="538.5" stroke="#222" stroke-width="1.4"/>
<text transform="translate(499.10,565.9) rotate(-45)" font-size="7.6" text-anchor="end" fill="#1c1c1c">IL-10</text>
<text x="407.3" y="593.4" font-size="8.8" text-anchor="middle" fill="#1c1c1c" >LPS (100 ng/ml)</text>
<text transform="translate(285.0,480.4) rotate(-90)" font-size="8.7" text-anchor="middle" fill="#1c1c1c">Intracellular expression level [RFI]</text>
<text x="8.3" y="17.0" font-size="12" font-weight="bold" fill="#000" style="stroke:#000;stroke-width:0.5px">A</text>
<text x="7.7" y="397.2" font-size="11.7" font-weight="bold" fill="#000" style="stroke:#000;stroke-width:0.3px">B</text>
<rect x="0.5" y="0.5" width="519" height="602" fill="none" stroke="#000" stroke-width="1"/>
<rect x="1.5" y="1.5" width="517" height="600" fill="none" stroke="#777" stroke-width="1"/>
</svg></body></html>
